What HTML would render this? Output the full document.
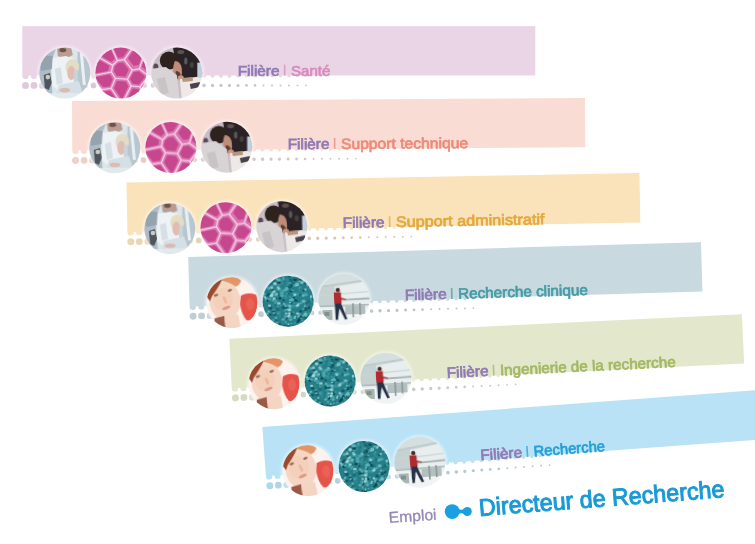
<!DOCTYPE html><html><head><meta charset="utf-8"><style>*{margin:0;padding:0}html,body{width:755px;height:544px;overflow:hidden;background:#fff}
svg{display:block;filter:blur(0.5px)}
.f{font-family:"Liberation Sans",sans-serif;font-size:15px;fill:#9079b4;stroke:#9079b4;stroke-width:0.7}
.l{font-family:"Liberation Sans",sans-serif;font-size:15px;stroke-width:0.7}
.e{font-family:"Liberation Sans",sans-serif;font-size:15.4px;fill:#9587b5;stroke:#9587b5;stroke-width:0.3}
.d{font-family:"Liberation Sans",sans-serif;font-size:24px;fill:#1a9ad4;stroke:#1a9ad4;stroke-width:1.0}
</style></head><body><svg width="755" height="544" viewBox="0 0 755 544"><defs><clipPath id="cc"><circle cx="0" cy="0" r="25.5"/></clipPath><filter id="bl" x="-20%" y="-20%" width="140%" height="140%"><feGaussianBlur stdDeviation="0.6"/></filter><filter id="bl2" x="-20%" y="-20%" width="140%" height="140%"><feGaussianBlur stdDeviation="0.9"/></filter></defs><rect width="755" height="544" fill="#ffffff"/><g transform="translate(22.3,26.1) rotate(0.0)"><rect x="0" y="0" width="513.0" height="49.4" fill="#ead5e7"/><rect x="0.10" y="47.40" width="6.20" height="5.60" rx="3.10" fill="#ead5e7"/><circle cx="3.20" cy="59.30" r="3.50" fill="#decadb"/><rect x="8.65" y="47.40" width="6.10" height="5.54" rx="3.05" fill="#ead5e7"/><circle cx="11.70" cy="59.30" r="3.42" fill="#ddcada"/><rect x="17.20" y="47.40" width="6.00" height="5.48" rx="3.00" fill="#ead5e7"/><circle cx="20.20" cy="59.30" r="3.34" fill="#ddc9da"/><rect x="25.75" y="47.40" width="5.90" height="5.42" rx="2.95" fill="#ead5e7"/><circle cx="28.70" cy="59.30" r="3.26" fill="#dcc9d9"/><rect x="34.30" y="47.40" width="5.80" height="5.36" rx="2.90" fill="#ead5e7"/><circle cx="37.20" cy="59.30" r="3.18" fill="#dbc9d8"/><rect x="42.85" y="47.40" width="5.70" height="5.30" rx="2.85" fill="#ead5e7"/><circle cx="45.70" cy="59.30" r="3.10" fill="#dac8d8"/><rect x="51.40" y="47.40" width="5.60" height="5.24" rx="2.80" fill="#ead5e7"/><circle cx="54.20" cy="59.30" r="3.02" fill="#dac8d7"/><rect x="59.95" y="47.40" width="5.50" height="5.18" rx="2.75" fill="#ead5e7"/><circle cx="62.70" cy="59.30" r="2.94" fill="#d9c8d7"/><rect x="68.50" y="47.40" width="5.40" height="5.12" rx="2.70" fill="#ead5e7"/><circle cx="71.20" cy="59.30" r="2.86" fill="#d8c7d6"/><rect x="77.05" y="47.40" width="5.30" height="5.06" rx="2.65" fill="#ead5e7"/><circle cx="79.70" cy="59.30" r="2.78" fill="#d7c7d5"/><rect x="85.60" y="47.40" width="5.20" height="5.00" rx="2.60" fill="#ead5e7"/><circle cx="88.20" cy="59.30" r="2.70" fill="#d7c7d5"/><rect x="94.15" y="47.40" width="5.10" height="4.94" rx="2.55" fill="#ead5e7"/><circle cx="96.70" cy="59.30" r="2.62" fill="#d6c6d4"/><rect x="102.70" y="47.40" width="5.00" height="4.88" rx="2.50" fill="#ead5e7"/><circle cx="105.20" cy="59.30" r="2.54" fill="#d5c6d3"/><rect x="111.25" y="47.40" width="4.90" height="4.82" rx="2.45" fill="#ead5e7"/><circle cx="113.70" cy="59.30" r="2.46" fill="#d5c6d3"/><rect x="119.80" y="47.40" width="4.80" height="4.76" rx="2.40" fill="#ead5e7"/><circle cx="122.20" cy="59.30" r="2.38" fill="#d4c5d2"/><rect x="128.35" y="47.40" width="4.70" height="4.70" rx="2.35" fill="#ead5e7"/><circle cx="130.70" cy="59.30" r="2.30" fill="#d3c5d2"/><rect x="136.90" y="47.40" width="4.60" height="4.64" rx="2.30" fill="#ead5e7"/><circle cx="139.20" cy="59.30" r="2.22" fill="#d2c5d1"/><rect x="145.45" y="47.40" width="4.50" height="4.58" rx="2.25" fill="#ead5e7"/><circle cx="147.70" cy="59.30" r="2.14" fill="#d2c4d0"/><rect x="154.00" y="47.40" width="4.40" height="4.52" rx="2.20" fill="#ead5e7"/><circle cx="156.20" cy="59.30" r="2.06" fill="#d1c4d0"/><rect x="162.55" y="47.40" width="4.30" height="4.46" rx="2.15" fill="#ead5e7"/><circle cx="164.70" cy="59.30" r="1.98" fill="#d0c3cf"/><rect x="171.10" y="47.40" width="4.20" height="4.40" rx="2.10" fill="#ead5e7"/><circle cx="173.20" cy="59.30" r="1.90" fill="#cfc3ce"/><rect x="179.65" y="47.40" width="4.10" height="4.34" rx="2.05" fill="#ead5e7"/><circle cx="181.70" cy="59.30" r="1.82" fill="#cfc3ce"/><rect x="188.20" y="47.40" width="4.00" height="4.28" rx="2.00" fill="#ead5e7"/><circle cx="190.20" cy="59.30" r="1.74" fill="#cec2cd"/><rect x="196.75" y="47.40" width="3.90" height="4.22" rx="1.95" fill="#ead5e7"/><circle cx="198.70" cy="59.30" r="1.66" fill="#cec2cd"/><rect x="205.30" y="47.40" width="3.80" height="4.16" rx="1.90" fill="#ead5e7"/><circle cx="207.20" cy="59.30" r="1.58" fill="#cec2cd"/><rect x="213.85" y="47.40" width="3.70" height="4.10" rx="1.85" fill="#ead5e7"/><circle cx="215.70" cy="59.30" r="1.50" fill="#cec2cd"/><rect x="222.40" y="47.40" width="3.60" height="4.04" rx="1.80" fill="#ead5e7"/><circle cx="224.20" cy="59.30" r="1.42" fill="#cec2cd"/><rect x="230.95" y="47.40" width="3.50" height="3.98" rx="1.75" fill="#ead5e7"/><circle cx="232.70" cy="59.30" r="1.34" fill="#cec2cd"/><rect x="239.50" y="47.40" width="3.40" height="3.92" rx="1.70" fill="#ead5e7"/><circle cx="241.20" cy="59.30" r="1.00" fill="#cec2cd"/><rect x="248.05" y="47.40" width="3.30" height="3.86" rx="1.65" fill="#ead5e7"/><circle cx="249.70" cy="59.30" r="1.00" fill="#cec2cd"/><rect x="256.60" y="47.40" width="3.20" height="3.80" rx="1.60" fill="#ead5e7"/><circle cx="258.20" cy="59.30" r="1.00" fill="#cec2cd"/><rect x="265.15" y="47.40" width="3.10" height="3.74" rx="1.55" fill="#ead5e7"/><circle cx="266.70" cy="59.30" r="1.00" fill="#cec2cd"/><rect x="273.70" y="47.40" width="3.00" height="3.68" rx="1.50" fill="#ead5e7"/><circle cx="275.20" cy="59.30" r="0.94" fill="#cec2cd"/><rect x="282.25" y="47.40" width="2.90" height="3.62" rx="1.45" fill="#ead5e7"/><circle cx="283.70" cy="59.30" r="0.86" fill="#cec2cd"/><circle cx="42.5" cy="47.0" r="27.5" fill="#ffffff" opacity="0.45" filter="url(#bl2)"/><g transform="translate(42.5,47.0)"><g clip-path="url(#cc)"><g filter="url(#bl)"><rect x="-26" y="-26" width="52" height="52" fill="#dbe6eb"/><path d="M-26,-26 L-8,-26 L-12,-16 L-14,-2 L-12,26 L-26,26Z" fill="#adbcc6"/><path d="M-24,-18 L-12,-17 L-13,-4 L-24,-2Z" fill="#94a3ae"/><path d="M-21,2 L-15,0 L-13,10 L-16,17 L-20,15Z" fill="#50555c"/><ellipse cx="-17" cy="4" rx="2.3" ry="2.3" fill="#c9ccc6"/><path d="M13,-26 L26,-26 L26,26 L14,26 L12,6Z" fill="#b7c6cf"/><path d="M15,-20 L18,-21 L21,12 L18,12Z" fill="#eaf0f3"/><path d="M-8,-27 L6,-27 L8,-18 L0,-14 L-7,-17Z" fill="#bb9c90"/><ellipse cx="-2" cy="-23" rx="3.5" ry="2.2" fill="#6a544c"/><path d="M-12,-15 L1,-17 L10,-14 L9,14 L-4,20 L-13,12 Z" fill="#edf2f5"/><path d="M-10,-4 L-4,-6 L-2,10 L-8,12Z" fill="#d5dfe4"/><ellipse cx="7.5" cy="-6" rx="6.8" ry="8" fill="#e4dcc4"/><ellipse cx="6.5" cy="0" rx="4" ry="7" fill="#e0bcb2"/><path d="M9,-2 L13,-3 L13,9 L9,9Z" fill="#c8d3da"/><path d="M-6,12 L14,8 L20,26 L-10,26Z" fill="#d5e0e6"/><ellipse cx="0" cy="17" rx="5.5" ry="2.3" fill="#dcbab4"/><rect x="-26" y="20" width="52" height="6" fill="#e4ebef" opacity="0.8"/></g></g></g><circle cx="98.6" cy="47.0" r="27.5" fill="#ffffff" opacity="0.45" filter="url(#bl2)"/><g transform="translate(98.6,47.0)"><g clip-path="url(#cc)"><g filter="url(#bl)"><rect x="-26" y="-26" width="52" height="52" fill="#f6d0e8"/><polygon points="3.0,-12.4 10.2,-2.9 6.0,5.2 -5.0,4.3 -8.5,-1.3 -7.3,-7.3 -3.0,-11.6" fill="#da76b1" stroke="#da76b1" stroke-width="0.6" stroke-linejoin="round"/><polygon points="1.8,-9.6 6.7,-3.2 3.9,2.4 -3.6,1.7 -6.0,-2.1 -5.2,-6.2 -2.3,-9.1" fill="#c6478d" stroke="#c6478d" stroke-width="2.0" stroke-linejoin="round"/><polygon points="0.9,29.3 -8.6,15.2 -4.9,6.2 6.0,7.1 9.1,12.8" fill="#da76b1" stroke="#da76b1" stroke-width="0.6" stroke-linejoin="round"/><polygon points="0.8,24.4 -5.7,14.9 -3.2,8.8 4.2,9.4 6.4,13.3" fill="#c6478d" stroke="#c6478d" stroke-width="2.0" stroke-linejoin="round"/><polygon points="-10.0,-0.0 -6.6,5.3 -10.3,14.5 -18.7,15.5 -28.5,3.7" fill="#da76b1" stroke="#da76b1" stroke-width="0.6" stroke-linejoin="round"/><polygon points="-11.5,2.5 -9.2,6.1 -11.8,12.3 -17.4,13.0 -24.1,5.0" fill="#c6478d" stroke="#c6478d" stroke-width="2.0" stroke-linejoin="round"/><polygon points="18.5,12.8 10.8,11.9 7.6,6.2 12.0,-2.2 18.2,-3.2 26.5,3.1" fill="#da76b1" stroke="#da76b1" stroke-width="0.6" stroke-linejoin="round"/><polygon points="17.6,10.3 12.3,9.6 10.2,5.8 13.1,0.0 17.3,-0.7 23.0,3.7" fill="#c6478d" stroke="#c6478d" stroke-width="2.0" stroke-linejoin="round"/><polygon points="24.0,-30.0 26.3,-30.0 17.7,-5.1 11.7,-4.1 4.6,-13.4 11.6,-23.3" fill="#da76b1" stroke="#da76b1" stroke-width="0.6" stroke-linejoin="round"/><polygon points="21.5,-26.0 23.0,-26.0 17.2,-9.1 13.1,-8.4 8.3,-14.8 13.0,-21.5" fill="#c6478d" stroke="#c6478d" stroke-width="2.0" stroke-linejoin="round"/><polygon points="-17.7,-30.0 -12.5,-30.0 -4.6,-12.7 -8.4,-9.0 -20.1,-15.7" fill="#da76b1" stroke="#da76b1" stroke-width="0.6" stroke-linejoin="round"/><polygon points="-16.1,-26.6 -12.6,-26.6 -7.2,-14.9 -9.7,-12.3 -17.7,-16.9" fill="#c6478d" stroke="#c6478d" stroke-width="2.0" stroke-linejoin="round"/><polygon points="-10.4,-30.0 -6.6,-30.0 9.4,-23.6 2.9,-14.3 -2.9,-13.6" fill="#da76b1" stroke="#da76b1" stroke-width="0.6" stroke-linejoin="round"/><polygon points="-7.6,-27.5 -4.9,-27.5 5.9,-23.2 1.5,-16.9 -2.4,-16.4" fill="#c6478d" stroke="#c6478d" stroke-width="2.0" stroke-linejoin="round"/><polygon points="-9.3,-7.3 -10.3,-1.9 -30.0,2.0 -30.0,-7.8 -21.0,-14.0" fill="#da76b1" stroke="#da76b1" stroke-width="0.6" stroke-linejoin="round"/><polygon points="-12.7,-6.8 -13.5,-3.2 -26.8,-0.5 -26.8,-7.2 -20.8,-11.4" fill="#c6478d" stroke="#c6478d" stroke-width="2.0" stroke-linejoin="round"/><polygon points="-0.9,30.0 -23.8,30.0 -18.4,17.4 -10.1,16.3" fill="#da76b1" stroke="#da76b1" stroke-width="0.6" stroke-linejoin="round"/><polygon points="-4.8,27.9 -20.5,27.9 -16.8,19.3 -11.1,18.6" fill="#c6478d" stroke="#c6478d" stroke-width="2.0" stroke-linejoin="round"/><polygon points="27.8,30.0 2.7,30.0 10.8,13.8 18.4,14.7" fill="#da76b1" stroke="#da76b1" stroke-width="0.6" stroke-linejoin="round"/><polygon points="23.7,27.5 6.6,27.5 12.1,16.5 17.3,17.1" fill="#c6478d" stroke="#c6478d" stroke-width="2.0" stroke-linejoin="round"/><polygon points="28.3,-30.0 30.0,-30.0 30.0,1.9 28.1,2.0 19.5,-4.6" fill="#da76b1" stroke="#da76b1" stroke-width="0.6" stroke-linejoin="round"/><polygon points="28.0,-24.3 29.1,-24.3 29.1,-2.6 27.8,-2.5 22.0,-7.0" fill="#c6478d" stroke="#c6478d" stroke-width="2.0" stroke-linejoin="round"/><polygon points="-25.9,30.0 -30.0,30.0 -30.0,4.9 -20.2,16.7" fill="#da76b1" stroke="#da76b1" stroke-width="0.6" stroke-linejoin="round"/><polygon points="-26.1,26.9 -28.9,26.9 -28.9,9.8 -22.2,17.9" fill="#c6478d" stroke="#c6478d" stroke-width="2.0" stroke-linejoin="round"/><polygon points="-1.4,-30.0 20.0,-30.0 10.8,-25.1" fill="#da76b1" stroke="#da76b1" stroke-width="0.6" stroke-linejoin="round"/><polygon points="2.2,-29.5 16.7,-29.5 10.5,-26.1" fill="#c6478d" stroke="#c6478d" stroke-width="2.0" stroke-linejoin="round"/><polygon points="30.0,3.8 30.0,30.0 20.1,13.9 28.3,3.9" fill="#da76b1" stroke="#da76b1" stroke-width="0.6" stroke-linejoin="round"/><polygon points="29.1,6.7 29.1,24.5 22.3,13.6 27.9,6.8" fill="#c6478d" stroke="#c6478d" stroke-width="2.0" stroke-linejoin="round"/><polygon points="-30.0,-30.0 -19.6,-30.0 -22.0,-15.7 -30.0,-10.2" fill="#da76b1" stroke="#da76b1" stroke-width="0.6" stroke-linejoin="round"/><polygon points="-28.5,-27.3 -21.4,-27.3 -23.1,-17.6 -28.5,-13.8" fill="#c6478d" stroke="#c6478d" stroke-width="2.0" stroke-linejoin="round"/></g></g></g><circle cx="154.5" cy="47.0" r="27.5" fill="#ffffff" opacity="0.45" filter="url(#bl2)"/><g transform="translate(154.5,47.0)"><g clip-path="url(#cc)"><g filter="url(#bl)"><rect x="-26" y="-26" width="52" height="52" fill="#c9bec7"/><ellipse cx="-21" cy="-6" rx="2.5" ry="3.5" fill="#5a4a56"/><path d="M-4,-27 L27,-27 L27,6 L1,6 Z" fill="#2b2226"/><ellipse cx="4" cy="-21" rx="3.5" ry="2" fill="#5e504e"/><ellipse cx="15" cy="-8" rx="2" ry="3" fill="#443f3a"/><ellipse cx="9" cy="-12" rx="1.6" ry="3.5" fill="#6a7470" opacity="0.7"/><ellipse cx="-8" cy="-12.5" rx="9" ry="9" fill="#2f221d"/><path d="M-2,-12 Q4,-12 5,-4 Q6,4 2,6 L-3,4 Q-5,-4 -2,-12Z" fill="#bd8d78"/><path d="M-1,-2 Q3,-2 4,2 Q3,6 0,6 Q-2,2 -1,-2Z" fill="#5e3e32"/><ellipse cx="4" cy="5" rx="3" ry="2.8" fill="#c89a86"/><path d="M-27,-4 L-11,-6 L0,2 L3,27 L-27,27Z" fill="#d8d4d5"/><path d="M-20,6 L-12,4 L-8,20 L-16,22Z" fill="#c8c3c5"/><path d="M3,6 L27,3 L27,27 L5,27Z" fill="#eee9e7"/><path d="M5,5 L16,4 L16,8 L6,9Z" fill="#b8957c"/><path d="M13,11 L23,9 L23,14 L14,16Z" fill="#47424c"/><rect x="20.5" y="-10.5" width="5.5" height="15" fill="#c2ceda"/></g></g></g><text x="215.4" y="49.5" class="f" textLength="41.8" lengthAdjust="spacingAndGlyphs">Filière</text><rect x="261.6" y="38.6" width="1.6" height="10.9" fill="#d98abd" opacity="0.75"/><text x="268.7" y="49.5" class="l" fill="#d98abd" stroke="#d98abd" textLength="39.4" lengthAdjust="spacingAndGlyphs">Santé</text></g><g transform="translate(72.0,101.1) rotate(-0.35)"><rect x="0" y="0" width="513.0" height="49.4" fill="#f9dcd3"/><rect x="0.10" y="47.40" width="6.20" height="5.60" rx="3.10" fill="#f9dcd3"/><circle cx="3.20" cy="59.30" r="3.50" fill="#ecd1c8"/><rect x="8.65" y="47.40" width="6.10" height="5.54" rx="3.05" fill="#f9dcd3"/><circle cx="11.70" cy="59.30" r="3.42" fill="#ebd1c8"/><rect x="17.20" y="47.40" width="6.00" height="5.48" rx="3.00" fill="#f9dcd3"/><circle cx="20.20" cy="59.30" r="3.34" fill="#ead0c7"/><rect x="25.75" y="47.40" width="5.90" height="5.42" rx="2.95" fill="#f9dcd3"/><circle cx="28.70" cy="59.30" r="3.26" fill="#e9d0c7"/><rect x="34.30" y="47.40" width="5.80" height="5.36" rx="2.90" fill="#f9dcd3"/><circle cx="37.20" cy="59.30" r="3.18" fill="#e8cfc7"/><rect x="42.85" y="47.40" width="5.70" height="5.30" rx="2.85" fill="#f9dcd3"/><circle cx="45.70" cy="59.30" r="3.10" fill="#e7cfc7"/><rect x="51.40" y="47.40" width="5.60" height="5.24" rx="2.80" fill="#f9dcd3"/><circle cx="54.20" cy="59.30" r="3.02" fill="#e6cec6"/><rect x="59.95" y="47.40" width="5.50" height="5.18" rx="2.75" fill="#f9dcd3"/><circle cx="62.70" cy="59.30" r="2.94" fill="#e5cec6"/><rect x="68.50" y="47.40" width="5.40" height="5.12" rx="2.70" fill="#f9dcd3"/><circle cx="71.20" cy="59.30" r="2.86" fill="#e4cdc6"/><rect x="77.05" y="47.40" width="5.30" height="5.06" rx="2.65" fill="#f9dcd3"/><circle cx="79.70" cy="59.30" r="2.78" fill="#e3cdc6"/><rect x="85.60" y="47.40" width="5.20" height="5.00" rx="2.60" fill="#f9dcd3"/><circle cx="88.20" cy="59.30" r="2.70" fill="#e2ccc5"/><rect x="94.15" y="47.40" width="5.10" height="4.94" rx="2.55" fill="#f9dcd3"/><circle cx="96.70" cy="59.30" r="2.62" fill="#e1ccc5"/><rect x="102.70" y="47.40" width="5.00" height="4.88" rx="2.50" fill="#f9dcd3"/><circle cx="105.20" cy="59.30" r="2.54" fill="#e0cbc5"/><rect x="111.25" y="47.40" width="4.90" height="4.82" rx="2.45" fill="#f9dcd3"/><circle cx="113.70" cy="59.30" r="2.46" fill="#dfcbc5"/><rect x="119.80" y="47.40" width="4.80" height="4.76" rx="2.40" fill="#f9dcd3"/><circle cx="122.20" cy="59.30" r="2.38" fill="#decac4"/><rect x="128.35" y="47.40" width="4.70" height="4.70" rx="2.35" fill="#f9dcd3"/><circle cx="130.70" cy="59.30" r="2.30" fill="#ddcac4"/><rect x="136.90" y="47.40" width="4.60" height="4.64" rx="2.30" fill="#f9dcd3"/><circle cx="139.20" cy="59.30" r="2.22" fill="#dcc9c4"/><rect x="145.45" y="47.40" width="4.50" height="4.58" rx="2.25" fill="#f9dcd3"/><circle cx="147.70" cy="59.30" r="2.14" fill="#dbc9c3"/><rect x="154.00" y="47.40" width="4.40" height="4.52" rx="2.20" fill="#f9dcd3"/><circle cx="156.20" cy="59.30" r="2.06" fill="#dac8c3"/><rect x="162.55" y="47.40" width="4.30" height="4.46" rx="2.15" fill="#f9dcd3"/><circle cx="164.70" cy="59.30" r="1.98" fill="#d9c8c3"/><rect x="171.10" y="47.40" width="4.20" height="4.40" rx="2.10" fill="#f9dcd3"/><circle cx="173.20" cy="59.30" r="1.90" fill="#d8c7c3"/><rect x="179.65" y="47.40" width="4.10" height="4.34" rx="2.05" fill="#f9dcd3"/><circle cx="181.70" cy="59.30" r="1.82" fill="#d7c7c2"/><rect x="188.20" y="47.40" width="4.00" height="4.28" rx="2.00" fill="#f9dcd3"/><circle cx="190.20" cy="59.30" r="1.74" fill="#d6c6c2"/><rect x="196.75" y="47.40" width="3.90" height="4.22" rx="1.95" fill="#f9dcd3"/><circle cx="198.70" cy="59.30" r="1.66" fill="#d6c6c2"/><rect x="205.30" y="47.40" width="3.80" height="4.16" rx="1.90" fill="#f9dcd3"/><circle cx="207.20" cy="59.30" r="1.58" fill="#d6c6c2"/><rect x="213.85" y="47.40" width="3.70" height="4.10" rx="1.85" fill="#f9dcd3"/><circle cx="215.70" cy="59.30" r="1.50" fill="#d6c6c2"/><rect x="222.40" y="47.40" width="3.60" height="4.04" rx="1.80" fill="#f9dcd3"/><circle cx="224.20" cy="59.30" r="1.42" fill="#d6c6c2"/><rect x="230.95" y="47.40" width="3.50" height="3.98" rx="1.75" fill="#f9dcd3"/><circle cx="232.70" cy="59.30" r="1.34" fill="#d6c6c2"/><rect x="239.50" y="47.40" width="3.40" height="3.92" rx="1.70" fill="#f9dcd3"/><circle cx="241.20" cy="59.30" r="1.00" fill="#d6c6c2"/><rect x="248.05" y="47.40" width="3.30" height="3.86" rx="1.65" fill="#f9dcd3"/><circle cx="249.70" cy="59.30" r="1.00" fill="#d6c6c2"/><rect x="256.60" y="47.40" width="3.20" height="3.80" rx="1.60" fill="#f9dcd3"/><circle cx="258.20" cy="59.30" r="1.00" fill="#d6c6c2"/><rect x="265.15" y="47.40" width="3.10" height="3.74" rx="1.55" fill="#f9dcd3"/><circle cx="266.70" cy="59.30" r="1.00" fill="#d6c6c2"/><rect x="273.70" y="47.40" width="3.00" height="3.68" rx="1.50" fill="#f9dcd3"/><circle cx="275.20" cy="59.30" r="0.94" fill="#d6c6c2"/><rect x="282.25" y="47.40" width="2.90" height="3.62" rx="1.45" fill="#f9dcd3"/><circle cx="283.70" cy="59.30" r="0.86" fill="#d6c6c2"/><circle cx="42.5" cy="47.0" r="27.5" fill="#ffffff" opacity="0.45" filter="url(#bl2)"/><g transform="translate(42.5,47.0)"><g clip-path="url(#cc)"><g filter="url(#bl)"><rect x="-26" y="-26" width="52" height="52" fill="#dbe6eb"/><path d="M-26,-26 L-8,-26 L-12,-16 L-14,-2 L-12,26 L-26,26Z" fill="#adbcc6"/><path d="M-24,-18 L-12,-17 L-13,-4 L-24,-2Z" fill="#94a3ae"/><path d="M-21,2 L-15,0 L-13,10 L-16,17 L-20,15Z" fill="#50555c"/><ellipse cx="-17" cy="4" rx="2.3" ry="2.3" fill="#c9ccc6"/><path d="M13,-26 L26,-26 L26,26 L14,26 L12,6Z" fill="#b7c6cf"/><path d="M15,-20 L18,-21 L21,12 L18,12Z" fill="#eaf0f3"/><path d="M-8,-27 L6,-27 L8,-18 L0,-14 L-7,-17Z" fill="#bb9c90"/><ellipse cx="-2" cy="-23" rx="3.5" ry="2.2" fill="#6a544c"/><path d="M-12,-15 L1,-17 L10,-14 L9,14 L-4,20 L-13,12 Z" fill="#edf2f5"/><path d="M-10,-4 L-4,-6 L-2,10 L-8,12Z" fill="#d5dfe4"/><ellipse cx="7.5" cy="-6" rx="6.8" ry="8" fill="#e4dcc4"/><ellipse cx="6.5" cy="0" rx="4" ry="7" fill="#e0bcb2"/><path d="M9,-2 L13,-3 L13,9 L9,9Z" fill="#c8d3da"/><path d="M-6,12 L14,8 L20,26 L-10,26Z" fill="#d5e0e6"/><ellipse cx="0" cy="17" rx="5.5" ry="2.3" fill="#dcbab4"/><rect x="-26" y="20" width="52" height="6" fill="#e4ebef" opacity="0.8"/></g></g></g><circle cx="98.6" cy="47.0" r="27.5" fill="#ffffff" opacity="0.45" filter="url(#bl2)"/><g transform="translate(98.6,47.0)"><g clip-path="url(#cc)"><g filter="url(#bl)"><rect x="-26" y="-26" width="52" height="52" fill="#f6d0e8"/><polygon points="3.0,-12.4 10.2,-2.9 6.0,5.2 -5.0,4.3 -8.5,-1.3 -7.3,-7.3 -3.0,-11.6" fill="#da76b1" stroke="#da76b1" stroke-width="0.6" stroke-linejoin="round"/><polygon points="1.8,-9.6 6.7,-3.2 3.9,2.4 -3.6,1.7 -6.0,-2.1 -5.2,-6.2 -2.3,-9.1" fill="#c6478d" stroke="#c6478d" stroke-width="2.0" stroke-linejoin="round"/><polygon points="0.9,29.3 -8.6,15.2 -4.9,6.2 6.0,7.1 9.1,12.8" fill="#da76b1" stroke="#da76b1" stroke-width="0.6" stroke-linejoin="round"/><polygon points="0.8,24.4 -5.7,14.9 -3.2,8.8 4.2,9.4 6.4,13.3" fill="#c6478d" stroke="#c6478d" stroke-width="2.0" stroke-linejoin="round"/><polygon points="-10.0,-0.0 -6.6,5.3 -10.3,14.5 -18.7,15.5 -28.5,3.7" fill="#da76b1" stroke="#da76b1" stroke-width="0.6" stroke-linejoin="round"/><polygon points="-11.5,2.5 -9.2,6.1 -11.8,12.3 -17.4,13.0 -24.1,5.0" fill="#c6478d" stroke="#c6478d" stroke-width="2.0" stroke-linejoin="round"/><polygon points="18.5,12.8 10.8,11.9 7.6,6.2 12.0,-2.2 18.2,-3.2 26.5,3.1" fill="#da76b1" stroke="#da76b1" stroke-width="0.6" stroke-linejoin="round"/><polygon points="17.6,10.3 12.3,9.6 10.2,5.8 13.1,0.0 17.3,-0.7 23.0,3.7" fill="#c6478d" stroke="#c6478d" stroke-width="2.0" stroke-linejoin="round"/><polygon points="24.0,-30.0 26.3,-30.0 17.7,-5.1 11.7,-4.1 4.6,-13.4 11.6,-23.3" fill="#da76b1" stroke="#da76b1" stroke-width="0.6" stroke-linejoin="round"/><polygon points="21.5,-26.0 23.0,-26.0 17.2,-9.1 13.1,-8.4 8.3,-14.8 13.0,-21.5" fill="#c6478d" stroke="#c6478d" stroke-width="2.0" stroke-linejoin="round"/><polygon points="-17.7,-30.0 -12.5,-30.0 -4.6,-12.7 -8.4,-9.0 -20.1,-15.7" fill="#da76b1" stroke="#da76b1" stroke-width="0.6" stroke-linejoin="round"/><polygon points="-16.1,-26.6 -12.6,-26.6 -7.2,-14.9 -9.7,-12.3 -17.7,-16.9" fill="#c6478d" stroke="#c6478d" stroke-width="2.0" stroke-linejoin="round"/><polygon points="-10.4,-30.0 -6.6,-30.0 9.4,-23.6 2.9,-14.3 -2.9,-13.6" fill="#da76b1" stroke="#da76b1" stroke-width="0.6" stroke-linejoin="round"/><polygon points="-7.6,-27.5 -4.9,-27.5 5.9,-23.2 1.5,-16.9 -2.4,-16.4" fill="#c6478d" stroke="#c6478d" stroke-width="2.0" stroke-linejoin="round"/><polygon points="-9.3,-7.3 -10.3,-1.9 -30.0,2.0 -30.0,-7.8 -21.0,-14.0" fill="#da76b1" stroke="#da76b1" stroke-width="0.6" stroke-linejoin="round"/><polygon points="-12.7,-6.8 -13.5,-3.2 -26.8,-0.5 -26.8,-7.2 -20.8,-11.4" fill="#c6478d" stroke="#c6478d" stroke-width="2.0" stroke-linejoin="round"/><polygon points="-0.9,30.0 -23.8,30.0 -18.4,17.4 -10.1,16.3" fill="#da76b1" stroke="#da76b1" stroke-width="0.6" stroke-linejoin="round"/><polygon points="-4.8,27.9 -20.5,27.9 -16.8,19.3 -11.1,18.6" fill="#c6478d" stroke="#c6478d" stroke-width="2.0" stroke-linejoin="round"/><polygon points="27.8,30.0 2.7,30.0 10.8,13.8 18.4,14.7" fill="#da76b1" stroke="#da76b1" stroke-width="0.6" stroke-linejoin="round"/><polygon points="23.7,27.5 6.6,27.5 12.1,16.5 17.3,17.1" fill="#c6478d" stroke="#c6478d" stroke-width="2.0" stroke-linejoin="round"/><polygon points="28.3,-30.0 30.0,-30.0 30.0,1.9 28.1,2.0 19.5,-4.6" fill="#da76b1" stroke="#da76b1" stroke-width="0.6" stroke-linejoin="round"/><polygon points="28.0,-24.3 29.1,-24.3 29.1,-2.6 27.8,-2.5 22.0,-7.0" fill="#c6478d" stroke="#c6478d" stroke-width="2.0" stroke-linejoin="round"/><polygon points="-25.9,30.0 -30.0,30.0 -30.0,4.9 -20.2,16.7" fill="#da76b1" stroke="#da76b1" stroke-width="0.6" stroke-linejoin="round"/><polygon points="-26.1,26.9 -28.9,26.9 -28.9,9.8 -22.2,17.9" fill="#c6478d" stroke="#c6478d" stroke-width="2.0" stroke-linejoin="round"/><polygon points="-1.4,-30.0 20.0,-30.0 10.8,-25.1" fill="#da76b1" stroke="#da76b1" stroke-width="0.6" stroke-linejoin="round"/><polygon points="2.2,-29.5 16.7,-29.5 10.5,-26.1" fill="#c6478d" stroke="#c6478d" stroke-width="2.0" stroke-linejoin="round"/><polygon points="30.0,3.8 30.0,30.0 20.1,13.9 28.3,3.9" fill="#da76b1" stroke="#da76b1" stroke-width="0.6" stroke-linejoin="round"/><polygon points="29.1,6.7 29.1,24.5 22.3,13.6 27.9,6.8" fill="#c6478d" stroke="#c6478d" stroke-width="2.0" stroke-linejoin="round"/><polygon points="-30.0,-30.0 -19.6,-30.0 -22.0,-15.7 -30.0,-10.2" fill="#da76b1" stroke="#da76b1" stroke-width="0.6" stroke-linejoin="round"/><polygon points="-28.5,-27.3 -21.4,-27.3 -23.1,-17.6 -28.5,-13.8" fill="#c6478d" stroke="#c6478d" stroke-width="2.0" stroke-linejoin="round"/></g></g></g><circle cx="154.5" cy="47.0" r="27.5" fill="#ffffff" opacity="0.45" filter="url(#bl2)"/><g transform="translate(154.5,47.0)"><g clip-path="url(#cc)"><g filter="url(#bl)"><rect x="-26" y="-26" width="52" height="52" fill="#c9bec7"/><ellipse cx="-21" cy="-6" rx="2.5" ry="3.5" fill="#5a4a56"/><path d="M-4,-27 L27,-27 L27,6 L1,6 Z" fill="#2b2226"/><ellipse cx="4" cy="-21" rx="3.5" ry="2" fill="#5e504e"/><ellipse cx="15" cy="-8" rx="2" ry="3" fill="#443f3a"/><ellipse cx="9" cy="-12" rx="1.6" ry="3.5" fill="#6a7470" opacity="0.7"/><ellipse cx="-8" cy="-12.5" rx="9" ry="9" fill="#2f221d"/><path d="M-2,-12 Q4,-12 5,-4 Q6,4 2,6 L-3,4 Q-5,-4 -2,-12Z" fill="#bd8d78"/><path d="M-1,-2 Q3,-2 4,2 Q3,6 0,6 Q-2,2 -1,-2Z" fill="#5e3e32"/><ellipse cx="4" cy="5" rx="3" ry="2.8" fill="#c89a86"/><path d="M-27,-4 L-11,-6 L0,2 L3,27 L-27,27Z" fill="#d8d4d5"/><path d="M-20,6 L-12,4 L-8,20 L-16,22Z" fill="#c8c3c5"/><path d="M3,6 L27,3 L27,27 L5,27Z" fill="#eee9e7"/><path d="M5,5 L16,4 L16,8 L6,9Z" fill="#b8957c"/><path d="M13,11 L23,9 L23,14 L14,16Z" fill="#47424c"/><rect x="20.5" y="-10.5" width="5.5" height="15" fill="#c2ceda"/></g></g></g><text x="215.4" y="49.5" class="f" textLength="41.8" lengthAdjust="spacingAndGlyphs">Filière</text><rect x="261.6" y="38.6" width="1.6" height="10.9" fill="#ee8a79" opacity="0.75"/><text x="268.7" y="49.5" class="l" fill="#ee8a79" stroke="#ee8a79" textLength="127.2" lengthAdjust="spacingAndGlyphs">Support technique</text></g><g transform="translate(126.5,182.5) rotate(-1.06)"><rect x="0" y="0" width="513.0" height="49.4" fill="#fae2bb"/><rect x="0.10" y="47.40" width="6.20" height="5.60" rx="3.10" fill="#fae2bb"/><circle cx="3.20" cy="59.30" r="3.50" fill="#edd6b1"/><rect x="8.65" y="47.40" width="6.10" height="5.54" rx="3.05" fill="#fae2bb"/><circle cx="11.70" cy="59.30" r="3.42" fill="#ecd5b1"/><rect x="17.20" y="47.40" width="6.00" height="5.48" rx="3.00" fill="#fae2bb"/><circle cx="20.20" cy="59.30" r="3.34" fill="#ebd5b1"/><rect x="25.75" y="47.40" width="5.90" height="5.42" rx="2.95" fill="#fae2bb"/><circle cx="28.70" cy="59.30" r="3.26" fill="#ead4b2"/><rect x="34.30" y="47.40" width="5.80" height="5.36" rx="2.90" fill="#fae2bb"/><circle cx="37.20" cy="59.30" r="3.18" fill="#e9d4b2"/><rect x="42.85" y="47.40" width="5.70" height="5.30" rx="2.85" fill="#fae2bb"/><circle cx="45.70" cy="59.30" r="3.10" fill="#e8d3b2"/><rect x="51.40" y="47.40" width="5.60" height="5.24" rx="2.80" fill="#fae2bb"/><circle cx="54.20" cy="59.30" r="3.02" fill="#e7d3b2"/><rect x="59.95" y="47.40" width="5.50" height="5.18" rx="2.75" fill="#fae2bb"/><circle cx="62.70" cy="59.30" r="2.94" fill="#e6d2b2"/><rect x="68.50" y="47.40" width="5.40" height="5.12" rx="2.70" fill="#fae2bb"/><circle cx="71.20" cy="59.30" r="2.86" fill="#e5d1b2"/><rect x="77.05" y="47.40" width="5.30" height="5.06" rx="2.65" fill="#fae2bb"/><circle cx="79.70" cy="59.30" r="2.78" fill="#e4d1b3"/><rect x="85.60" y="47.40" width="5.20" height="5.00" rx="2.60" fill="#fae2bb"/><circle cx="88.20" cy="59.30" r="2.70" fill="#e3d0b3"/><rect x="94.15" y="47.40" width="5.10" height="4.94" rx="2.55" fill="#fae2bb"/><circle cx="96.70" cy="59.30" r="2.62" fill="#e2d0b3"/><rect x="102.70" y="47.40" width="5.00" height="4.88" rx="2.50" fill="#fae2bb"/><circle cx="105.20" cy="59.30" r="2.54" fill="#e1cfb3"/><rect x="111.25" y="47.40" width="4.90" height="4.82" rx="2.45" fill="#fae2bb"/><circle cx="113.70" cy="59.30" r="2.46" fill="#e0cfb3"/><rect x="119.80" y="47.40" width="4.80" height="4.76" rx="2.40" fill="#fae2bb"/><circle cx="122.20" cy="59.30" r="2.38" fill="#dfceb3"/><rect x="128.35" y="47.40" width="4.70" height="4.70" rx="2.35" fill="#fae2bb"/><circle cx="130.70" cy="59.30" r="2.30" fill="#decdb4"/><rect x="136.90" y="47.40" width="4.60" height="4.64" rx="2.30" fill="#fae2bb"/><circle cx="139.20" cy="59.30" r="2.22" fill="#ddcdb4"/><rect x="145.45" y="47.40" width="4.50" height="4.58" rx="2.25" fill="#fae2bb"/><circle cx="147.70" cy="59.30" r="2.14" fill="#dcccb4"/><rect x="154.00" y="47.40" width="4.40" height="4.52" rx="2.20" fill="#fae2bb"/><circle cx="156.20" cy="59.30" r="2.06" fill="#dbccb4"/><rect x="162.55" y="47.40" width="4.30" height="4.46" rx="2.15" fill="#fae2bb"/><circle cx="164.70" cy="59.30" r="1.98" fill="#dacbb4"/><rect x="171.10" y="47.40" width="4.20" height="4.40" rx="2.10" fill="#fae2bb"/><circle cx="173.20" cy="59.30" r="1.90" fill="#d9cbb4"/><rect x="179.65" y="47.40" width="4.10" height="4.34" rx="2.05" fill="#fae2bb"/><circle cx="181.70" cy="59.30" r="1.82" fill="#d8cab5"/><rect x="188.20" y="47.40" width="4.00" height="4.28" rx="2.00" fill="#fae2bb"/><circle cx="190.20" cy="59.30" r="1.74" fill="#d7c9b5"/><rect x="196.75" y="47.40" width="3.90" height="4.22" rx="1.95" fill="#fae2bb"/><circle cx="198.70" cy="59.30" r="1.66" fill="#d7c9b5"/><rect x="205.30" y="47.40" width="3.80" height="4.16" rx="1.90" fill="#fae2bb"/><circle cx="207.20" cy="59.30" r="1.58" fill="#d7c9b5"/><rect x="213.85" y="47.40" width="3.70" height="4.10" rx="1.85" fill="#fae2bb"/><circle cx="215.70" cy="59.30" r="1.50" fill="#d7c9b5"/><rect x="222.40" y="47.40" width="3.60" height="4.04" rx="1.80" fill="#fae2bb"/><circle cx="224.20" cy="59.30" r="1.42" fill="#d7c9b5"/><rect x="230.95" y="47.40" width="3.50" height="3.98" rx="1.75" fill="#fae2bb"/><circle cx="232.70" cy="59.30" r="1.34" fill="#d7c9b5"/><rect x="239.50" y="47.40" width="3.40" height="3.92" rx="1.70" fill="#fae2bb"/><circle cx="241.20" cy="59.30" r="1.00" fill="#d7c9b5"/><rect x="248.05" y="47.40" width="3.30" height="3.86" rx="1.65" fill="#fae2bb"/><circle cx="249.70" cy="59.30" r="1.00" fill="#d7c9b5"/><rect x="256.60" y="47.40" width="3.20" height="3.80" rx="1.60" fill="#fae2bb"/><circle cx="258.20" cy="59.30" r="1.00" fill="#d7c9b5"/><rect x="265.15" y="47.40" width="3.10" height="3.74" rx="1.55" fill="#fae2bb"/><circle cx="266.70" cy="59.30" r="1.00" fill="#d7c9b5"/><rect x="273.70" y="47.40" width="3.00" height="3.68" rx="1.50" fill="#fae2bb"/><circle cx="275.20" cy="59.30" r="0.94" fill="#d7c9b5"/><rect x="282.25" y="47.40" width="2.90" height="3.62" rx="1.45" fill="#fae2bb"/><circle cx="283.70" cy="59.30" r="0.86" fill="#d7c9b5"/><circle cx="42.5" cy="47.0" r="27.5" fill="#ffffff" opacity="0.45" filter="url(#bl2)"/><g transform="translate(42.5,47.0)"><g clip-path="url(#cc)"><g filter="url(#bl)"><rect x="-26" y="-26" width="52" height="52" fill="#dbe6eb"/><path d="M-26,-26 L-8,-26 L-12,-16 L-14,-2 L-12,26 L-26,26Z" fill="#adbcc6"/><path d="M-24,-18 L-12,-17 L-13,-4 L-24,-2Z" fill="#94a3ae"/><path d="M-21,2 L-15,0 L-13,10 L-16,17 L-20,15Z" fill="#50555c"/><ellipse cx="-17" cy="4" rx="2.3" ry="2.3" fill="#c9ccc6"/><path d="M13,-26 L26,-26 L26,26 L14,26 L12,6Z" fill="#b7c6cf"/><path d="M15,-20 L18,-21 L21,12 L18,12Z" fill="#eaf0f3"/><path d="M-8,-27 L6,-27 L8,-18 L0,-14 L-7,-17Z" fill="#bb9c90"/><ellipse cx="-2" cy="-23" rx="3.5" ry="2.2" fill="#6a544c"/><path d="M-12,-15 L1,-17 L10,-14 L9,14 L-4,20 L-13,12 Z" fill="#edf2f5"/><path d="M-10,-4 L-4,-6 L-2,10 L-8,12Z" fill="#d5dfe4"/><ellipse cx="7.5" cy="-6" rx="6.8" ry="8" fill="#e4dcc4"/><ellipse cx="6.5" cy="0" rx="4" ry="7" fill="#e0bcb2"/><path d="M9,-2 L13,-3 L13,9 L9,9Z" fill="#c8d3da"/><path d="M-6,12 L14,8 L20,26 L-10,26Z" fill="#d5e0e6"/><ellipse cx="0" cy="17" rx="5.5" ry="2.3" fill="#dcbab4"/><rect x="-26" y="20" width="52" height="6" fill="#e4ebef" opacity="0.8"/></g></g></g><circle cx="98.6" cy="47.0" r="27.5" fill="#ffffff" opacity="0.45" filter="url(#bl2)"/><g transform="translate(98.6,47.0)"><g clip-path="url(#cc)"><g filter="url(#bl)"><rect x="-26" y="-26" width="52" height="52" fill="#f6d0e8"/><polygon points="3.0,-12.4 10.2,-2.9 6.0,5.2 -5.0,4.3 -8.5,-1.3 -7.3,-7.3 -3.0,-11.6" fill="#da76b1" stroke="#da76b1" stroke-width="0.6" stroke-linejoin="round"/><polygon points="1.8,-9.6 6.7,-3.2 3.9,2.4 -3.6,1.7 -6.0,-2.1 -5.2,-6.2 -2.3,-9.1" fill="#c6478d" stroke="#c6478d" stroke-width="2.0" stroke-linejoin="round"/><polygon points="0.9,29.3 -8.6,15.2 -4.9,6.2 6.0,7.1 9.1,12.8" fill="#da76b1" stroke="#da76b1" stroke-width="0.6" stroke-linejoin="round"/><polygon points="0.8,24.4 -5.7,14.9 -3.2,8.8 4.2,9.4 6.4,13.3" fill="#c6478d" stroke="#c6478d" stroke-width="2.0" stroke-linejoin="round"/><polygon points="-10.0,-0.0 -6.6,5.3 -10.3,14.5 -18.7,15.5 -28.5,3.7" fill="#da76b1" stroke="#da76b1" stroke-width="0.6" stroke-linejoin="round"/><polygon points="-11.5,2.5 -9.2,6.1 -11.8,12.3 -17.4,13.0 -24.1,5.0" fill="#c6478d" stroke="#c6478d" stroke-width="2.0" stroke-linejoin="round"/><polygon points="18.5,12.8 10.8,11.9 7.6,6.2 12.0,-2.2 18.2,-3.2 26.5,3.1" fill="#da76b1" stroke="#da76b1" stroke-width="0.6" stroke-linejoin="round"/><polygon points="17.6,10.3 12.3,9.6 10.2,5.8 13.1,0.0 17.3,-0.7 23.0,3.7" fill="#c6478d" stroke="#c6478d" stroke-width="2.0" stroke-linejoin="round"/><polygon points="24.0,-30.0 26.3,-30.0 17.7,-5.1 11.7,-4.1 4.6,-13.4 11.6,-23.3" fill="#da76b1" stroke="#da76b1" stroke-width="0.6" stroke-linejoin="round"/><polygon points="21.5,-26.0 23.0,-26.0 17.2,-9.1 13.1,-8.4 8.3,-14.8 13.0,-21.5" fill="#c6478d" stroke="#c6478d" stroke-width="2.0" stroke-linejoin="round"/><polygon points="-17.7,-30.0 -12.5,-30.0 -4.6,-12.7 -8.4,-9.0 -20.1,-15.7" fill="#da76b1" stroke="#da76b1" stroke-width="0.6" stroke-linejoin="round"/><polygon points="-16.1,-26.6 -12.6,-26.6 -7.2,-14.9 -9.7,-12.3 -17.7,-16.9" fill="#c6478d" stroke="#c6478d" stroke-width="2.0" stroke-linejoin="round"/><polygon points="-10.4,-30.0 -6.6,-30.0 9.4,-23.6 2.9,-14.3 -2.9,-13.6" fill="#da76b1" stroke="#da76b1" stroke-width="0.6" stroke-linejoin="round"/><polygon points="-7.6,-27.5 -4.9,-27.5 5.9,-23.2 1.5,-16.9 -2.4,-16.4" fill="#c6478d" stroke="#c6478d" stroke-width="2.0" stroke-linejoin="round"/><polygon points="-9.3,-7.3 -10.3,-1.9 -30.0,2.0 -30.0,-7.8 -21.0,-14.0" fill="#da76b1" stroke="#da76b1" stroke-width="0.6" stroke-linejoin="round"/><polygon points="-12.7,-6.8 -13.5,-3.2 -26.8,-0.5 -26.8,-7.2 -20.8,-11.4" fill="#c6478d" stroke="#c6478d" stroke-width="2.0" stroke-linejoin="round"/><polygon points="-0.9,30.0 -23.8,30.0 -18.4,17.4 -10.1,16.3" fill="#da76b1" stroke="#da76b1" stroke-width="0.6" stroke-linejoin="round"/><polygon points="-4.8,27.9 -20.5,27.9 -16.8,19.3 -11.1,18.6" fill="#c6478d" stroke="#c6478d" stroke-width="2.0" stroke-linejoin="round"/><polygon points="27.8,30.0 2.7,30.0 10.8,13.8 18.4,14.7" fill="#da76b1" stroke="#da76b1" stroke-width="0.6" stroke-linejoin="round"/><polygon points="23.7,27.5 6.6,27.5 12.1,16.5 17.3,17.1" fill="#c6478d" stroke="#c6478d" stroke-width="2.0" stroke-linejoin="round"/><polygon points="28.3,-30.0 30.0,-30.0 30.0,1.9 28.1,2.0 19.5,-4.6" fill="#da76b1" stroke="#da76b1" stroke-width="0.6" stroke-linejoin="round"/><polygon points="28.0,-24.3 29.1,-24.3 29.1,-2.6 27.8,-2.5 22.0,-7.0" fill="#c6478d" stroke="#c6478d" stroke-width="2.0" stroke-linejoin="round"/><polygon points="-25.9,30.0 -30.0,30.0 -30.0,4.9 -20.2,16.7" fill="#da76b1" stroke="#da76b1" stroke-width="0.6" stroke-linejoin="round"/><polygon points="-26.1,26.9 -28.9,26.9 -28.9,9.8 -22.2,17.9" fill="#c6478d" stroke="#c6478d" stroke-width="2.0" stroke-linejoin="round"/><polygon points="-1.4,-30.0 20.0,-30.0 10.8,-25.1" fill="#da76b1" stroke="#da76b1" stroke-width="0.6" stroke-linejoin="round"/><polygon points="2.2,-29.5 16.7,-29.5 10.5,-26.1" fill="#c6478d" stroke="#c6478d" stroke-width="2.0" stroke-linejoin="round"/><polygon points="30.0,3.8 30.0,30.0 20.1,13.9 28.3,3.9" fill="#da76b1" stroke="#da76b1" stroke-width="0.6" stroke-linejoin="round"/><polygon points="29.1,6.7 29.1,24.5 22.3,13.6 27.9,6.8" fill="#c6478d" stroke="#c6478d" stroke-width="2.0" stroke-linejoin="round"/><polygon points="-30.0,-30.0 -19.6,-30.0 -22.0,-15.7 -30.0,-10.2" fill="#da76b1" stroke="#da76b1" stroke-width="0.6" stroke-linejoin="round"/><polygon points="-28.5,-27.3 -21.4,-27.3 -23.1,-17.6 -28.5,-13.8" fill="#c6478d" stroke="#c6478d" stroke-width="2.0" stroke-linejoin="round"/></g></g></g><circle cx="154.5" cy="47.0" r="27.5" fill="#ffffff" opacity="0.45" filter="url(#bl2)"/><g transform="translate(154.5,47.0)"><g clip-path="url(#cc)"><g filter="url(#bl)"><rect x="-26" y="-26" width="52" height="52" fill="#c9bec7"/><ellipse cx="-21" cy="-6" rx="2.5" ry="3.5" fill="#5a4a56"/><path d="M-4,-27 L27,-27 L27,6 L1,6 Z" fill="#2b2226"/><ellipse cx="4" cy="-21" rx="3.5" ry="2" fill="#5e504e"/><ellipse cx="15" cy="-8" rx="2" ry="3" fill="#443f3a"/><ellipse cx="9" cy="-12" rx="1.6" ry="3.5" fill="#6a7470" opacity="0.7"/><ellipse cx="-8" cy="-12.5" rx="9" ry="9" fill="#2f221d"/><path d="M-2,-12 Q4,-12 5,-4 Q6,4 2,6 L-3,4 Q-5,-4 -2,-12Z" fill="#bd8d78"/><path d="M-1,-2 Q3,-2 4,2 Q3,6 0,6 Q-2,2 -1,-2Z" fill="#5e3e32"/><ellipse cx="4" cy="5" rx="3" ry="2.8" fill="#c89a86"/><path d="M-27,-4 L-11,-6 L0,2 L3,27 L-27,27Z" fill="#d8d4d5"/><path d="M-20,6 L-12,4 L-8,20 L-16,22Z" fill="#c8c3c5"/><path d="M3,6 L27,3 L27,27 L5,27Z" fill="#eee9e7"/><path d="M5,5 L16,4 L16,8 L6,9Z" fill="#b8957c"/><path d="M13,11 L23,9 L23,14 L14,16Z" fill="#47424c"/><rect x="20.5" y="-10.5" width="5.5" height="15" fill="#c2ceda"/></g></g></g><text x="215.4" y="49.5" class="f" textLength="41.8" lengthAdjust="spacingAndGlyphs">Filière</text><rect x="261.6" y="38.6" width="1.6" height="10.9" fill="#e2a93a" opacity="0.75"/><text x="268.7" y="49.5" class="l" fill="#e2a93a" stroke="#e2a93a" textLength="148.5" lengthAdjust="spacingAndGlyphs">Support administratif</text></g><g transform="translate(188.2,257.0) rotate(-1.65)"><rect x="0" y="0" width="513.0" height="49.4" fill="#c8d9df"/><rect x="0.10" y="47.40" width="6.20" height="5.60" rx="3.10" fill="#c8d9df"/><circle cx="3.20" cy="59.30" r="3.50" fill="#beced3"/><rect x="8.65" y="47.40" width="6.10" height="5.54" rx="3.05" fill="#c8d9df"/><circle cx="11.70" cy="59.30" r="3.42" fill="#beced3"/><rect x="17.20" y="47.40" width="6.00" height="5.48" rx="3.00" fill="#c8d9df"/><circle cx="20.20" cy="59.30" r="3.34" fill="#becdd2"/><rect x="25.75" y="47.40" width="5.90" height="5.42" rx="2.95" fill="#c8d9df"/><circle cx="28.70" cy="59.30" r="3.26" fill="#becdd2"/><rect x="34.30" y="47.40" width="5.80" height="5.36" rx="2.90" fill="#c8d9df"/><circle cx="37.20" cy="59.30" r="3.18" fill="#beccd1"/><rect x="42.85" y="47.40" width="5.70" height="5.30" rx="2.85" fill="#c8d9df"/><circle cx="45.70" cy="59.30" r="3.10" fill="#bdccd1"/><rect x="51.40" y="47.40" width="5.60" height="5.24" rx="2.80" fill="#c8d9df"/><circle cx="54.20" cy="59.30" r="3.02" fill="#bdcbd0"/><rect x="59.95" y="47.40" width="5.50" height="5.18" rx="2.75" fill="#c8d9df"/><circle cx="62.70" cy="59.30" r="2.94" fill="#bdcbd0"/><rect x="68.50" y="47.40" width="5.40" height="5.12" rx="2.70" fill="#c8d9df"/><circle cx="71.20" cy="59.30" r="2.86" fill="#bdcbcf"/><rect x="77.05" y="47.40" width="5.30" height="5.06" rx="2.65" fill="#c8d9df"/><circle cx="79.70" cy="59.30" r="2.78" fill="#bdcacf"/><rect x="85.60" y="47.40" width="5.20" height="5.00" rx="2.60" fill="#c8d9df"/><circle cx="88.20" cy="59.30" r="2.70" fill="#bdcace"/><rect x="94.15" y="47.40" width="5.10" height="4.94" rx="2.55" fill="#c8d9df"/><circle cx="96.70" cy="59.30" r="2.62" fill="#bdc9ce"/><rect x="102.70" y="47.40" width="5.00" height="4.88" rx="2.50" fill="#c8d9df"/><circle cx="105.20" cy="59.30" r="2.54" fill="#bdc9cd"/><rect x="111.25" y="47.40" width="4.90" height="4.82" rx="2.45" fill="#c8d9df"/><circle cx="113.70" cy="59.30" r="2.46" fill="#bdc9cd"/><rect x="119.80" y="47.40" width="4.80" height="4.76" rx="2.40" fill="#c8d9df"/><circle cx="122.20" cy="59.30" r="2.38" fill="#bcc8cc"/><rect x="128.35" y="47.40" width="4.70" height="4.70" rx="2.35" fill="#c8d9df"/><circle cx="130.70" cy="59.30" r="2.30" fill="#bcc8cc"/><rect x="136.90" y="47.40" width="4.60" height="4.64" rx="2.30" fill="#c8d9df"/><circle cx="139.20" cy="59.30" r="2.22" fill="#bcc7cb"/><rect x="145.45" y="47.40" width="4.50" height="4.58" rx="2.25" fill="#c8d9df"/><circle cx="147.70" cy="59.30" r="2.14" fill="#bcc7cb"/><rect x="154.00" y="47.40" width="4.40" height="4.52" rx="2.20" fill="#c8d9df"/><circle cx="156.20" cy="59.30" r="2.06" fill="#bcc6ca"/><rect x="162.55" y="47.40" width="4.30" height="4.46" rx="2.15" fill="#c8d9df"/><circle cx="164.70" cy="59.30" r="1.98" fill="#bcc6ca"/><rect x="171.10" y="47.40" width="4.20" height="4.40" rx="2.10" fill="#c8d9df"/><circle cx="173.20" cy="59.30" r="1.90" fill="#bcc6c9"/><rect x="179.65" y="47.40" width="4.10" height="4.34" rx="2.05" fill="#c8d9df"/><circle cx="181.70" cy="59.30" r="1.82" fill="#bcc5c9"/><rect x="188.20" y="47.40" width="4.00" height="4.28" rx="2.00" fill="#c8d9df"/><circle cx="190.20" cy="59.30" r="1.74" fill="#bbc5c8"/><rect x="196.75" y="47.40" width="3.90" height="4.22" rx="1.95" fill="#c8d9df"/><circle cx="198.70" cy="59.30" r="1.66" fill="#bbc5c8"/><rect x="205.30" y="47.40" width="3.80" height="4.16" rx="1.90" fill="#c8d9df"/><circle cx="207.20" cy="59.30" r="1.58" fill="#bbc5c8"/><rect x="213.85" y="47.40" width="3.70" height="4.10" rx="1.85" fill="#c8d9df"/><circle cx="215.70" cy="59.30" r="1.50" fill="#bbc5c8"/><rect x="222.40" y="47.40" width="3.60" height="4.04" rx="1.80" fill="#c8d9df"/><circle cx="224.20" cy="59.30" r="1.42" fill="#bbc5c8"/><rect x="230.95" y="47.40" width="3.50" height="3.98" rx="1.75" fill="#c8d9df"/><circle cx="232.70" cy="59.30" r="1.34" fill="#bbc5c8"/><rect x="239.50" y="47.40" width="3.40" height="3.92" rx="1.70" fill="#c8d9df"/><circle cx="241.20" cy="59.30" r="1.00" fill="#bbc5c8"/><rect x="248.05" y="47.40" width="3.30" height="3.86" rx="1.65" fill="#c8d9df"/><circle cx="249.70" cy="59.30" r="1.00" fill="#bbc5c8"/><rect x="256.60" y="47.40" width="3.20" height="3.80" rx="1.60" fill="#c8d9df"/><circle cx="258.20" cy="59.30" r="1.00" fill="#bbc5c8"/><rect x="265.15" y="47.40" width="3.10" height="3.74" rx="1.55" fill="#c8d9df"/><circle cx="266.70" cy="59.30" r="1.00" fill="#bbc5c8"/><rect x="273.70" y="47.40" width="3.00" height="3.68" rx="1.50" fill="#c8d9df"/><circle cx="275.20" cy="59.30" r="0.94" fill="#bbc5c8"/><rect x="282.25" y="47.40" width="2.90" height="3.62" rx="1.45" fill="#c8d9df"/><circle cx="283.70" cy="59.30" r="0.86" fill="#bbc5c8"/><circle cx="42.5" cy="47.0" r="27.5" fill="#ffffff" opacity="0.45" filter="url(#bl2)"/><g transform="translate(42.5,47.0)"><g clip-path="url(#cc)"><g filter="url(#bl)"><rect x="-26" y="-26" width="52" height="52" fill="#fcf3ef"/><ellipse cx="-7" cy="-2" rx="15.5" ry="19" fill="#f5d5c3"/><path d="M-26,-8 Q-22,-22 -8,-25 Q-12,-18 -16,-12 Q-20,-8 -22,-2Z" fill="#9b4a2c"/><path d="M-10,-26 Q2,-29 10,-22 Q8,-17 4,-16 Q-2,-21 -10,-22Z" fill="#e39566"/><ellipse cx="-9" cy="-4" rx="10" ry="11" fill="#f4cdb6" opacity="0.8"/><ellipse cx="-15.8" cy="-8" rx="2.4" ry="1.3" fill="#9a6a58" transform="rotate(-20 -15.8 -8)"/><ellipse cx="-1.8" cy="-12.5" rx="2.4" ry="1.3" fill="#9a6a58" transform="rotate(-20 -1.8 -12.5)"/><ellipse cx="-7" cy="-3" rx="1.5" ry="4" fill="#e9b9a2" transform="rotate(-20 -7 -3)"/><ellipse cx="-5.8" cy="5" rx="4.3" ry="1.6" fill="#de9a8a" transform="rotate(-20 -5.8 5)"/><path d="M9,-7 Q17,-11 25,-7 Q27,6 22,14 Q18,19 14,18 Q9,12 8,2Z" fill="#e6524a"/><ellipse cx="18" cy="2" rx="4" ry="6" fill="#ea6a5c" opacity="0.7"/><path d="M-18,15 L-8,13 L-7,26 L-19,26Z" fill="#9a5a44"/><path d="M-8,13 L6,12 L8,26 L-7,26Z" fill="#f4d4c2"/></g></g></g><circle cx="98.6" cy="47.0" r="27.5" fill="#ffffff" opacity="0.45" filter="url(#bl2)"/><g transform="translate(98.6,47.0)"><g clip-path="url(#cc)"><g filter="url(#bl)"><rect x="-26" y="-26" width="52" height="52" fill="#267e88"/><ellipse cx="-2.5" cy="3.1" rx="1.90" ry="1.48" fill="#1b6a74"/><ellipse cx="18.5" cy="-16.1" rx="1.75" ry="1.49" fill="#1b6a74"/><ellipse cx="15.2" cy="-21.1" rx="1.09" ry="0.89" fill="#6cc0c6"/><ellipse cx="20.3" cy="7.0" rx="1.47" ry="1.45" fill="#0e4852"/><ellipse cx="8.0" cy="6.0" rx="0.90" ry="0.84" fill="#4fa8b0"/><ellipse cx="-22.7" cy="-24.1" rx="1.84" ry="1.13" fill="#9ad8da"/><ellipse cx="-1.9" cy="-3.1" rx="1.80" ry="1.24" fill="#2f8b94"/><ellipse cx="-10.7" cy="-25.8" rx="0.81" ry="0.62" fill="#5bb6bc"/><ellipse cx="2.7" cy="22.4" rx="0.81" ry="0.59" fill="#5bb6bc"/><ellipse cx="-14.1" cy="-11.0" rx="0.79" ry="0.60" fill="#6cc0c6"/><ellipse cx="18.0" cy="-5.9" rx="1.95" ry="1.33" fill="#4fa8b0"/><ellipse cx="22.2" cy="-23.3" rx="1.19" ry="0.91" fill="#0e4852"/><ellipse cx="3.4" cy="-15.7" rx="1.58" ry="1.00" fill="#115460"/><ellipse cx="-8.7" cy="24.1" rx="1.69" ry="1.10" fill="#6cc0c6"/><ellipse cx="10.8" cy="-25.4" rx="1.30" ry="0.88" fill="#1b6a74"/><ellipse cx="3.1" cy="-2.7" rx="0.95" ry="0.73" fill="#3a949c"/><ellipse cx="-6.0" cy="-5.5" rx="1.99" ry="1.41" fill="#4fa8b0"/><ellipse cx="24.5" cy="15.8" rx="1.10" ry="0.75" fill="#4fa8b0"/><ellipse cx="-5.5" cy="18.4" rx="1.53" ry="0.95" fill="#6cc0c6"/><ellipse cx="-18.4" cy="-3.0" rx="0.71" ry="0.52" fill="#9ad8da"/><ellipse cx="-10.6" cy="-22.2" rx="0.82" ry="0.70" fill="#9ad8da"/><ellipse cx="-25.2" cy="-6.8" rx="1.51" ry="1.48" fill="#3a949c"/><ellipse cx="-0.8" cy="3.9" rx="1.83" ry="1.55" fill="#3a949c"/><ellipse cx="-9.8" cy="-14.1" rx="1.49" ry="0.99" fill="#86d0d2"/><ellipse cx="6.7" cy="2.8" rx="1.59" ry="1.52" fill="#0e4852"/><ellipse cx="5.4" cy="-4.1" rx="0.83" ry="0.67" fill="#4fa8b0"/><ellipse cx="-12.7" cy="12.5" rx="1.21" ry="1.12" fill="#0e4852"/><ellipse cx="5.0" cy="-10.7" rx="0.93" ry="0.60" fill="#6cc0c6"/><ellipse cx="-1.1" cy="8.0" rx="1.50" ry="1.07" fill="#6cc0c6"/><ellipse cx="21.7" cy="-15.4" rx="0.72" ry="0.55" fill="#5bb6bc"/><ellipse cx="-13.0" cy="-23.6" rx="1.07" ry="0.88" fill="#2f8b94"/><ellipse cx="-19.2" cy="-7.2" rx="1.86" ry="1.60" fill="#115460"/><ellipse cx="9.9" cy="4.4" rx="0.88" ry="0.86" fill="#4fa8b0"/><ellipse cx="-1.3" cy="-7.4" rx="1.11" ry="0.67" fill="#4fa8b0"/><ellipse cx="7.1" cy="-0.9" rx="1.65" ry="1.08" fill="#115460"/><ellipse cx="-22.2" cy="-2.4" rx="1.18" ry="1.13" fill="#4fa8b0"/><ellipse cx="12.3" cy="10.6" rx="1.73" ry="1.28" fill="#115460"/><ellipse cx="9.6" cy="20.8" rx="1.83" ry="1.79" fill="#0e4852"/><ellipse cx="-24.4" cy="-0.0" rx="0.72" ry="0.54" fill="#0e4852"/><ellipse cx="-25.4" cy="-22.2" rx="0.82" ry="0.82" fill="#6cc0c6"/><ellipse cx="19.7" cy="11.9" rx="1.20" ry="0.94" fill="#9ad8da"/><ellipse cx="-1.9" cy="2.1" rx="1.37" ry="0.84" fill="#2f8b94"/><ellipse cx="5.3" cy="-1.0" rx="1.00" ry="0.80" fill="#6cc0c6"/><ellipse cx="6.0" cy="21.9" rx="1.03" ry="0.77" fill="#4fa8b0"/><ellipse cx="-18.6" cy="5.8" rx="1.37" ry="1.19" fill="#115460"/><ellipse cx="-3.0" cy="20.4" rx="1.13" ry="0.76" fill="#5bb6bc"/><ellipse cx="-3.6" cy="15.9" rx="1.89" ry="1.42" fill="#86d0d2"/><ellipse cx="4.3" cy="-9.5" rx="0.88" ry="0.65" fill="#1b6a74"/><ellipse cx="20.6" cy="-23.9" rx="0.78" ry="0.73" fill="#5bb6bc"/><ellipse cx="-20.1" cy="-1.5" rx="1.90" ry="1.43" fill="#0e4852"/><ellipse cx="1.0" cy="9.0" rx="1.63" ry="1.27" fill="#9ad8da"/><ellipse cx="-22.1" cy="-24.4" rx="1.83" ry="1.60" fill="#4fa8b0"/><ellipse cx="-11.4" cy="-7.6" rx="1.54" ry="0.94" fill="#9ad8da"/><ellipse cx="-18.9" cy="-2.3" rx="0.73" ry="0.51" fill="#5bb6bc"/><ellipse cx="-18.7" cy="-23.6" rx="1.52" ry="0.98" fill="#1b6a74"/><ellipse cx="1.8" cy="7.3" rx="1.18" ry="1.03" fill="#6cc0c6"/><ellipse cx="-15.6" cy="-1.3" rx="0.93" ry="0.84" fill="#4fa8b0"/><ellipse cx="1.8" cy="-24.1" rx="0.99" ry="0.81" fill="#115460"/><ellipse cx="23.2" cy="0.0" rx="2.00" ry="1.51" fill="#3a949c"/><ellipse cx="15.2" cy="21.1" rx="0.81" ry="0.53" fill="#0e4852"/><ellipse cx="-2.4" cy="6.5" rx="1.88" ry="1.54" fill="#0e4852"/><ellipse cx="7.9" cy="0.1" rx="1.77" ry="1.39" fill="#115460"/><ellipse cx="7.9" cy="-15.3" rx="1.64" ry="1.12" fill="#6cc0c6"/><ellipse cx="20.8" cy="25.0" rx="1.97" ry="1.95" fill="#2f8b94"/><ellipse cx="22.5" cy="-12.4" rx="1.63" ry="1.21" fill="#4fa8b0"/><ellipse cx="-21.7" cy="-3.1" rx="1.42" ry="1.13" fill="#5bb6bc"/><ellipse cx="-24.5" cy="16.1" rx="0.78" ry="0.52" fill="#4fa8b0"/><ellipse cx="-8.6" cy="15.0" rx="0.88" ry="0.88" fill="#3a949c"/><ellipse cx="20.8" cy="0.9" rx="1.58" ry="1.55" fill="#1b6a74"/><ellipse cx="-0.4" cy="23.4" rx="0.81" ry="0.63" fill="#86d0d2"/><ellipse cx="3.1" cy="17.2" rx="1.43" ry="1.16" fill="#3a949c"/><ellipse cx="17.9" cy="3.1" rx="1.11" ry="1.09" fill="#0e4852"/><ellipse cx="19.2" cy="5.7" rx="1.10" ry="1.08" fill="#3a949c"/><ellipse cx="1.3" cy="3.8" rx="0.96" ry="0.62" fill="#2f8b94"/><ellipse cx="-25.7" cy="-6.4" rx="1.40" ry="1.13" fill="#4fa8b0"/><ellipse cx="-5.2" cy="15.7" rx="1.43" ry="0.91" fill="#1b6a74"/><ellipse cx="-17.3" cy="22.4" rx="1.30" ry="0.92" fill="#0e4852"/><ellipse cx="-1.4" cy="-19.4" rx="1.26" ry="1.02" fill="#1b6a74"/><ellipse cx="-20.4" cy="-4.2" rx="0.74" ry="0.48" fill="#5bb6bc"/><ellipse cx="14.5" cy="-24.8" rx="0.95" ry="0.58" fill="#86d0d2"/><ellipse cx="-11.2" cy="11.6" rx="1.02" ry="0.65" fill="#1b6a74"/><ellipse cx="12.0" cy="-19.6" rx="1.36" ry="1.21" fill="#5bb6bc"/><ellipse cx="10.5" cy="19.7" rx="0.73" ry="0.68" fill="#0e4852"/><ellipse cx="6.0" cy="2.0" rx="1.82" ry="1.56" fill="#2f8b94"/><ellipse cx="1.5" cy="18.3" rx="1.50" ry="1.04" fill="#3a949c"/><ellipse cx="12.5" cy="16.1" rx="1.87" ry="1.58" fill="#115460"/><ellipse cx="20.3" cy="-15.9" rx="1.71" ry="1.63" fill="#86d0d2"/><ellipse cx="-19.0" cy="-13.6" rx="1.64" ry="1.24" fill="#5bb6bc"/><ellipse cx="-3.4" cy="22.9" rx="1.41" ry="0.96" fill="#3a949c"/><ellipse cx="6.7" cy="15.5" rx="0.82" ry="0.72" fill="#9ad8da"/><ellipse cx="21.4" cy="24.4" rx="0.85" ry="0.73" fill="#2f8b94"/><ellipse cx="-8.1" cy="25.9" rx="1.78" ry="1.41" fill="#6cc0c6"/><ellipse cx="-24.7" cy="13.6" rx="1.50" ry="1.19" fill="#9ad8da"/><ellipse cx="-16.1" cy="-20.0" rx="0.92" ry="0.92" fill="#3a949c"/><ellipse cx="22.2" cy="-21.0" rx="0.78" ry="0.49" fill="#1b6a74"/><ellipse cx="-21.0" cy="-5.7" rx="1.25" ry="0.97" fill="#115460"/><ellipse cx="5.2" cy="-25.3" rx="1.61" ry="1.08" fill="#86d0d2"/><ellipse cx="-2.4" cy="12.4" rx="1.23" ry="1.03" fill="#86d0d2"/><ellipse cx="-21.1" cy="15.2" rx="1.12" ry="1.03" fill="#6cc0c6"/><ellipse cx="10.6" cy="18.8" rx="1.52" ry="1.26" fill="#0e4852"/><ellipse cx="-16.1" cy="4.4" rx="1.14" ry="0.81" fill="#5bb6bc"/><ellipse cx="-20.0" cy="12.6" rx="0.91" ry="0.59" fill="#0e4852"/><ellipse cx="-8.8" cy="2.0" rx="1.18" ry="1.07" fill="#0e4852"/><ellipse cx="-4.9" cy="11.6" rx="0.79" ry="0.57" fill="#115460"/><ellipse cx="-20.8" cy="20.2" rx="1.99" ry="1.23" fill="#9ad8da"/><ellipse cx="-11.8" cy="24.0" rx="1.09" ry="0.94" fill="#86d0d2"/><ellipse cx="3.6" cy="1.7" rx="1.21" ry="1.03" fill="#1b6a74"/><ellipse cx="10.5" cy="13.6" rx="1.97" ry="1.28" fill="#4fa8b0"/><ellipse cx="-20.4" cy="-13.7" rx="1.28" ry="0.79" fill="#2f8b94"/><ellipse cx="-15.8" cy="-6.5" rx="0.83" ry="0.59" fill="#5bb6bc"/><ellipse cx="-8.3" cy="2.1" rx="1.24" ry="1.03" fill="#2f8b94"/><ellipse cx="25.7" cy="7.2" rx="1.75" ry="1.44" fill="#6cc0c6"/><ellipse cx="8.8" cy="23.7" rx="1.20" ry="0.91" fill="#3a949c"/><ellipse cx="24.4" cy="18.5" rx="1.40" ry="0.88" fill="#9ad8da"/><ellipse cx="23.2" cy="-4.1" rx="1.38" ry="1.00" fill="#9ad8da"/><ellipse cx="1.6" cy="-0.9" rx="1.05" ry="0.91" fill="#5bb6bc"/><ellipse cx="12.9" cy="-24.6" rx="1.70" ry="1.05" fill="#9ad8da"/><ellipse cx="-17.9" cy="13.2" rx="1.21" ry="1.09" fill="#115460"/><ellipse cx="-23.4" cy="25.4" rx="1.93" ry="1.77" fill="#6cc0c6"/><ellipse cx="-14.4" cy="11.4" rx="1.03" ry="0.63" fill="#86d0d2"/><ellipse cx="-20.9" cy="16.1" rx="1.88" ry="1.87" fill="#3a949c"/><ellipse cx="16.5" cy="5.4" rx="0.85" ry="0.65" fill="#9ad8da"/><ellipse cx="-19.9" cy="18.8" rx="1.16" ry="0.76" fill="#3a949c"/><ellipse cx="-3.0" cy="8.7" rx="1.29" ry="1.11" fill="#5bb6bc"/><ellipse cx="9.5" cy="-7.1" rx="1.67" ry="1.64" fill="#3a949c"/><ellipse cx="12.2" cy="-13.6" rx="0.85" ry="0.77" fill="#5bb6bc"/><ellipse cx="6.5" cy="-7.3" rx="1.05" ry="0.93" fill="#9ad8da"/><ellipse cx="-16.1" cy="-11.5" rx="1.01" ry="0.81" fill="#86d0d2"/><ellipse cx="8.0" cy="-15.8" rx="1.59" ry="0.96" fill="#4fa8b0"/><ellipse cx="-12.5" cy="-24.6" rx="0.75" ry="0.61" fill="#86d0d2"/><ellipse cx="-22.2" cy="-21.5" rx="1.58" ry="1.10" fill="#2f8b94"/><ellipse cx="25.0" cy="-0.8" rx="1.16" ry="0.86" fill="#115460"/><ellipse cx="12.7" cy="17.6" rx="0.80" ry="0.62" fill="#6cc0c6"/><ellipse cx="16.7" cy="17.6" rx="1.70" ry="1.31" fill="#1b6a74"/><ellipse cx="-12.6" cy="16.1" rx="1.18" ry="0.86" fill="#9ad8da"/><ellipse cx="2.5" cy="12.8" rx="1.90" ry="1.63" fill="#0e4852"/><ellipse cx="4.2" cy="-2.0" rx="1.12" ry="0.71" fill="#2f8b94"/><ellipse cx="3.3" cy="-0.8" rx="1.59" ry="1.48" fill="#5bb6bc"/><ellipse cx="-25.5" cy="-9.9" rx="1.88" ry="1.19" fill="#9ad8da"/><ellipse cx="-10.2" cy="11.7" rx="1.60" ry="1.53" fill="#5bb6bc"/><ellipse cx="-14.6" cy="8.2" rx="1.13" ry="0.82" fill="#6cc0c6"/><ellipse cx="-3.1" cy="4.9" rx="1.87" ry="1.45" fill="#5bb6bc"/><ellipse cx="15.8" cy="-10.2" rx="1.11" ry="1.10" fill="#0e4852"/><ellipse cx="11.9" cy="0.8" rx="0.81" ry="0.49" fill="#115460"/><ellipse cx="9.2" cy="4.4" rx="1.73" ry="1.30" fill="#9ad8da"/><ellipse cx="-5.7" cy="-18.0" rx="1.47" ry="0.98" fill="#3a949c"/><ellipse cx="13.5" cy="19.8" rx="1.07" ry="0.73" fill="#4fa8b0"/><ellipse cx="-23.0" cy="-17.7" rx="1.08" ry="0.93" fill="#4fa8b0"/><ellipse cx="15.8" cy="-22.7" rx="1.41" ry="0.89" fill="#2f8b94"/><ellipse cx="-21.8" cy="12.3" rx="1.87" ry="1.14" fill="#6cc0c6"/><ellipse cx="8.0" cy="-20.9" rx="1.76" ry="1.23" fill="#0e4852"/><ellipse cx="-14.5" cy="13.8" rx="1.38" ry="1.04" fill="#1b6a74"/><ellipse cx="-8.4" cy="24.4" rx="1.57" ry="1.25" fill="#1b6a74"/><ellipse cx="15.8" cy="-22.2" rx="1.50" ry="1.15" fill="#4fa8b0"/><ellipse cx="17.0" cy="8.7" rx="1.81" ry="1.69" fill="#0e4852"/><ellipse cx="20.2" cy="23.8" rx="1.53" ry="1.14" fill="#2f8b94"/><ellipse cx="-25.5" cy="-20.3" rx="1.90" ry="1.33" fill="#3a949c"/><ellipse cx="-17.6" cy="7.0" rx="1.59" ry="1.08" fill="#115460"/><ellipse cx="-3.9" cy="-10.8" rx="1.96" ry="1.55" fill="#4fa8b0"/><ellipse cx="12.0" cy="-10.2" rx="0.90" ry="0.87" fill="#3a949c"/><ellipse cx="13.2" cy="-25.1" rx="1.33" ry="0.96" fill="#4fa8b0"/><ellipse cx="-15.7" cy="-7.3" rx="1.46" ry="1.30" fill="#9ad8da"/><ellipse cx="4.9" cy="-14.4" rx="0.94" ry="0.72" fill="#5bb6bc"/><ellipse cx="21.4" cy="22.7" rx="1.51" ry="1.20" fill="#2f8b94"/><ellipse cx="-12.5" cy="20.1" rx="1.89" ry="1.63" fill="#115460"/><ellipse cx="14.1" cy="-21.2" rx="1.82" ry="1.13" fill="#0e4852"/><ellipse cx="23.3" cy="15.7" rx="1.20" ry="1.10" fill="#2f8b94"/><ellipse cx="14.3" cy="15.0" rx="0.78" ry="0.74" fill="#86d0d2"/><ellipse cx="19.5" cy="21.1" rx="1.29" ry="1.14" fill="#86d0d2"/><ellipse cx="5.5" cy="-17.8" rx="0.90" ry="0.59" fill="#115460"/><ellipse cx="21.2" cy="16.1" rx="0.87" ry="0.62" fill="#9ad8da"/><ellipse cx="1.8" cy="-18.2" rx="1.70" ry="1.16" fill="#4fa8b0"/><ellipse cx="21.6" cy="-18.3" rx="0.87" ry="0.61" fill="#115460"/><ellipse cx="11.3" cy="-20.9" rx="1.32" ry="0.84" fill="#1b6a74"/><ellipse cx="12.9" cy="2.3" rx="1.36" ry="1.24" fill="#4fa8b0"/><ellipse cx="-4.3" cy="21.7" rx="0.82" ry="0.56" fill="#1b6a74"/><ellipse cx="2.3" cy="1.3" rx="0.90" ry="0.66" fill="#5bb6bc"/><ellipse cx="-4.9" cy="2.9" rx="2.00" ry="1.49" fill="#6cc0c6"/><ellipse cx="9.7" cy="-20.5" rx="1.21" ry="1.09" fill="#1b6a74"/><ellipse cx="14.8" cy="-19.7" rx="1.28" ry="1.13" fill="#0e4852"/><ellipse cx="-1.3" cy="-10.7" rx="0.85" ry="0.80" fill="#4fa8b0"/><ellipse cx="17.9" cy="11.4" rx="1.87" ry="1.34" fill="#3a949c"/><ellipse cx="-6.4" cy="2.1" rx="1.09" ry="0.98" fill="#115460"/><ellipse cx="2.9" cy="-21.5" rx="0.95" ry="0.84" fill="#0e4852"/><ellipse cx="-8.9" cy="23.1" rx="1.43" ry="1.11" fill="#115460"/><ellipse cx="-6.1" cy="-20.7" rx="1.51" ry="1.31" fill="#3a949c"/><ellipse cx="10.8" cy="-16.6" rx="1.22" ry="1.02" fill="#1b6a74"/><ellipse cx="-21.3" cy="-14.2" rx="0.90" ry="0.70" fill="#6cc0c6"/><ellipse cx="14.1" cy="-8.2" rx="1.77" ry="1.16" fill="#2f8b94"/><ellipse cx="-15.3" cy="-18.3" rx="1.60" ry="1.17" fill="#1b6a74"/><ellipse cx="-4.6" cy="-25.2" rx="1.22" ry="1.21" fill="#115460"/><ellipse cx="15.1" cy="8.3" rx="1.49" ry="1.05" fill="#4fa8b0"/><ellipse cx="-16.2" cy="-10.0" rx="1.27" ry="0.96" fill="#2f8b94"/><ellipse cx="0.5" cy="15.0" rx="1.77" ry="1.57" fill="#9ad8da"/><ellipse cx="-12.8" cy="2.0" rx="1.09" ry="0.81" fill="#86d0d2"/><ellipse cx="0.0" cy="-18.6" rx="1.63" ry="1.63" fill="#2f8b94"/><ellipse cx="10.8" cy="22.7" rx="1.44" ry="1.22" fill="#4fa8b0"/><ellipse cx="-15.7" cy="-21.7" rx="1.02" ry="0.78" fill="#9ad8da"/><ellipse cx="-8.7" cy="-21.2" rx="1.83" ry="1.44" fill="#5bb6bc"/><ellipse cx="-19.6" cy="24.6" rx="0.88" ry="0.72" fill="#9ad8da"/><ellipse cx="3.2" cy="3.1" rx="1.04" ry="0.88" fill="#115460"/><ellipse cx="-19.6" cy="16.9" rx="1.08" ry="0.75" fill="#115460"/><ellipse cx="3.8" cy="17.2" rx="0.94" ry="0.87" fill="#2f8b94"/><ellipse cx="-2.4" cy="-5.0" rx="1.72" ry="1.24" fill="#3a949c"/><ellipse cx="8.9" cy="12.4" rx="1.20" ry="1.02" fill="#9ad8da"/><ellipse cx="13.7" cy="-17.8" rx="1.24" ry="0.81" fill="#4fa8b0"/><ellipse cx="-5.9" cy="3.6" rx="0.93" ry="0.60" fill="#2f8b94"/><ellipse cx="-13.3" cy="22.4" rx="0.77" ry="0.68" fill="#4fa8b0"/><ellipse cx="15.0" cy="-5.0" rx="1.35" ry="1.06" fill="#6cc0c6"/><ellipse cx="-4.6" cy="6.4" rx="1.60" ry="1.44" fill="#0e4852"/><ellipse cx="-0.7" cy="25.7" rx="1.79" ry="1.66" fill="#0e4852"/><ellipse cx="-19.9" cy="-20.0" rx="1.92" ry="1.56" fill="#115460"/><ellipse cx="-3.5" cy="21.0" rx="1.12" ry="0.80" fill="#4fa8b0"/><ellipse cx="6.0" cy="-3.5" rx="1.19" ry="1.07" fill="#115460"/><ellipse cx="-10.2" cy="4.9" rx="0.79" ry="0.74" fill="#6cc0c6"/><ellipse cx="-13.4" cy="19.4" rx="1.96" ry="1.72" fill="#1b6a74"/><ellipse cx="1.4" cy="-13.6" rx="1.10" ry="1.07" fill="#0e4852"/><ellipse cx="19.7" cy="26.0" rx="1.65" ry="1.56" fill="#115460"/><ellipse cx="-4.1" cy="15.9" rx="0.99" ry="0.82" fill="#0e4852"/><ellipse cx="21.0" cy="-20.9" rx="1.73" ry="1.65" fill="#6cc0c6"/><ellipse cx="3.9" cy="-2.4" rx="1.08" ry="0.66" fill="#5bb6bc"/><ellipse cx="-17.1" cy="-3.1" rx="1.29" ry="0.98" fill="#2f8b94"/><ellipse cx="-7.5" cy="4.4" rx="0.76" ry="0.59" fill="#4fa8b0"/><ellipse cx="-9.7" cy="-9.1" rx="0.89" ry="0.84" fill="#1b6a74"/><ellipse cx="-15.5" cy="18.7" rx="1.60" ry="1.09" fill="#4fa8b0"/><ellipse cx="17.6" cy="-7.6" rx="1.31" ry="1.12" fill="#3a949c"/><ellipse cx="10.3" cy="3.1" rx="1.39" ry="0.94" fill="#86d0d2"/><ellipse cx="19.8" cy="-23.4" rx="0.84" ry="0.82" fill="#115460"/><ellipse cx="-11.8" cy="-4.1" rx="1.84" ry="1.62" fill="#115460"/><ellipse cx="22.8" cy="-2.9" rx="0.80" ry="0.76" fill="#86d0d2"/><ellipse cx="-19.7" cy="9.9" rx="1.05" ry="0.84" fill="#86d0d2"/><ellipse cx="-10.6" cy="-11.8" rx="1.74" ry="1.66" fill="#2f8b94"/><ellipse cx="4.7" cy="-14.1" rx="1.09" ry="0.95" fill="#3a949c"/><ellipse cx="-11.6" cy="7.3" rx="0.82" ry="0.63" fill="#6cc0c6"/><ellipse cx="1.5" cy="1.6" rx="0.76" ry="0.63" fill="#9ad8da"/><ellipse cx="1.9" cy="-4.0" rx="1.44" ry="1.03" fill="#3a949c"/><ellipse cx="13.3" cy="-13.2" rx="1.06" ry="0.65" fill="#2f8b94"/><ellipse cx="15.1" cy="-18.2" rx="1.87" ry="1.47" fill="#9ad8da"/><ellipse cx="13.0" cy="-6.0" rx="1.91" ry="1.19" fill="#1b6a74"/><ellipse cx="-22.7" cy="14.4" rx="1.88" ry="1.63" fill="#115460"/><ellipse cx="14.7" cy="0.9" rx="1.36" ry="1.22" fill="#2f8b94"/><ellipse cx="1.6" cy="4.9" rx="1.70" ry="1.44" fill="#6cc0c6"/><ellipse cx="-13.8" cy="-3.1" rx="1.70" ry="1.20" fill="#86d0d2"/><ellipse cx="2.3" cy="18.3" rx="1.48" ry="0.91" fill="#5bb6bc"/><ellipse cx="5.0" cy="11.2" rx="1.44" ry="1.05" fill="#3a949c"/><ellipse cx="5.6" cy="5.6" rx="1.75" ry="1.36" fill="#2f8b94"/><ellipse cx="-12.3" cy="15.5" rx="0.79" ry="0.66" fill="#3a949c"/><ellipse cx="2.2" cy="15.2" rx="1.01" ry="0.63" fill="#3a949c"/><ellipse cx="-3.9" cy="10.2" rx="1.77" ry="1.61" fill="#2f8b94"/><ellipse cx="13.8" cy="-0.1" rx="1.55" ry="1.03" fill="#2f8b94"/><ellipse cx="-12.7" cy="-17.7" rx="1.60" ry="1.46" fill="#9ad8da"/><ellipse cx="-22.8" cy="-4.6" rx="1.17" ry="1.03" fill="#86d0d2"/><ellipse cx="23.8" cy="-19.3" rx="1.68" ry="1.67" fill="#9ad8da"/><ellipse cx="-18.5" cy="-2.3" rx="1.67" ry="1.00" fill="#4fa8b0"/><ellipse cx="-4.7" cy="1.3" rx="0.82" ry="0.59" fill="#2f8b94"/><ellipse cx="-3.9" cy="-22.0" rx="0.74" ry="0.52" fill="#9ad8da"/><ellipse cx="-12.8" cy="2.7" rx="1.01" ry="0.64" fill="#1b6a74"/><ellipse cx="-14.2" cy="-9.9" rx="1.93" ry="1.33" fill="#9ad8da"/><ellipse cx="-17.7" cy="4.4" rx="1.99" ry="1.65" fill="#115460"/><ellipse cx="21.4" cy="20.0" rx="1.90" ry="1.49" fill="#3a949c"/><ellipse cx="-5.6" cy="17.8" rx="1.20" ry="0.82" fill="#4fa8b0"/><ellipse cx="-7.9" cy="-16.5" rx="1.41" ry="1.12" fill="#3a949c"/><ellipse cx="-5.2" cy="4.9" rx="1.69" ry="1.31" fill="#1b6a74"/><ellipse cx="25.7" cy="9.3" rx="1.82" ry="1.49" fill="#86d0d2"/><ellipse cx="-4.2" cy="-23.5" rx="1.06" ry="0.90" fill="#5bb6bc"/><ellipse cx="1.0" cy="12.6" rx="1.37" ry="1.32" fill="#9ad8da"/><ellipse cx="11.2" cy="-12.0" rx="1.17" ry="1.04" fill="#3a949c"/><ellipse cx="14.4" cy="-18.9" rx="1.01" ry="0.62" fill="#6cc0c6"/><ellipse cx="-9.3" cy="-6.0" rx="0.81" ry="0.59" fill="#0e4852"/><ellipse cx="14.1" cy="1.0" rx="0.77" ry="0.65" fill="#0e4852"/><ellipse cx="-0.6" cy="-16.2" rx="1.37" ry="0.84" fill="#3a949c"/><ellipse cx="-9.8" cy="-3.9" rx="1.41" ry="1.14" fill="#3a949c"/><ellipse cx="2.5" cy="-9.7" rx="1.29" ry="0.85" fill="#0e4852"/><ellipse cx="-15.4" cy="-11.4" rx="1.63" ry="1.06" fill="#0e4852"/><ellipse cx="0.9" cy="-7.5" rx="0.83" ry="0.62" fill="#115460"/><ellipse cx="-14.8" cy="-23.9" rx="0.73" ry="0.60" fill="#1b6a74"/><ellipse cx="16.1" cy="24.7" rx="1.09" ry="1.05" fill="#6cc0c6"/><ellipse cx="-14.8" cy="9.8" rx="1.57" ry="1.09" fill="#115460"/><ellipse cx="6.9" cy="-21.3" rx="1.26" ry="1.00" fill="#0e4852"/><ellipse cx="-0.5" cy="22.4" rx="1.07" ry="0.74" fill="#5bb6bc"/><ellipse cx="22.1" cy="-15.5" rx="1.70" ry="1.47" fill="#115460"/><ellipse cx="-13.5" cy="-21.2" rx="1.14" ry="1.05" fill="#0e4852"/><ellipse cx="-1.1" cy="-12.6" rx="1.81" ry="1.59" fill="#5bb6bc"/><ellipse cx="-24.8" cy="-5.6" rx="1.17" ry="1.13" fill="#6cc0c6"/><ellipse cx="-11.9" cy="-6.4" rx="1.80" ry="1.42" fill="#5bb6bc"/><ellipse cx="-9.1" cy="-12.8" rx="0.73" ry="0.53" fill="#115460"/><ellipse cx="-6.6" cy="-10.5" rx="1.76" ry="1.51" fill="#3a949c"/><ellipse cx="-6.0" cy="-8.2" rx="1.87" ry="1.55" fill="#4fa8b0"/><ellipse cx="23.0" cy="14.1" rx="1.52" ry="1.24" fill="#9ad8da"/><ellipse cx="5.9" cy="-22.7" rx="0.79" ry="0.75" fill="#1b6a74"/><ellipse cx="-6.1" cy="21.3" rx="0.75" ry="0.65" fill="#3a949c"/><ellipse cx="-11.8" cy="-0.3" rx="1.31" ry="0.87" fill="#4fa8b0"/><ellipse cx="-16.0" cy="-14.1" rx="1.58" ry="1.28" fill="#86d0d2"/><ellipse cx="22.2" cy="24.9" rx="0.70" ry="0.56" fill="#2f8b94"/><ellipse cx="7.8" cy="2.5" rx="1.51" ry="1.44" fill="#2f8b94"/><ellipse cx="9.9" cy="15.4" rx="1.04" ry="1.00" fill="#6cc0c6"/><ellipse cx="-9.7" cy="11.2" rx="1.60" ry="1.58" fill="#3a949c"/><ellipse cx="16.9" cy="-17.7" rx="1.51" ry="1.39" fill="#1b6a74"/><ellipse cx="-10.7" cy="-4.4" rx="1.18" ry="0.94" fill="#2f8b94"/><ellipse cx="7.6" cy="-7.2" rx="1.62" ry="1.45" fill="#2f8b94"/><ellipse cx="19.6" cy="25.4" rx="1.76" ry="1.14" fill="#5bb6bc"/><ellipse cx="-2.5" cy="14.1" rx="1.32" ry="1.12" fill="#3a949c"/><ellipse cx="-4.5" cy="-0.9" rx="1.15" ry="0.92" fill="#0e4852"/><ellipse cx="15.4" cy="-5.6" rx="1.63" ry="1.22" fill="#5bb6bc"/><ellipse cx="9.5" cy="-16.5" rx="1.81" ry="1.70" fill="#86d0d2"/><ellipse cx="17.1" cy="3.5" rx="1.25" ry="1.06" fill="#3a949c"/><ellipse cx="17.2" cy="15.7" rx="0.86" ry="0.73" fill="#0e4852"/><ellipse cx="-10.8" cy="7.9" rx="1.97" ry="1.64" fill="#1b6a74"/><ellipse cx="22.9" cy="24.5" rx="0.87" ry="0.67" fill="#5bb6bc"/><ellipse cx="6.8" cy="-5.4" rx="1.91" ry="1.19" fill="#3a949c"/><ellipse cx="11.1" cy="-19.8" rx="0.76" ry="0.56" fill="#5bb6bc"/><ellipse cx="2.0" cy="15.7" rx="1.23" ry="1.14" fill="#4fa8b0"/><ellipse cx="18.5" cy="-17.1" rx="0.79" ry="0.72" fill="#1b6a74"/><ellipse cx="17.6" cy="-11.2" rx="1.21" ry="0.92" fill="#9ad8da"/><ellipse cx="-18.6" cy="4.0" rx="1.58" ry="1.29" fill="#86d0d2"/><ellipse cx="15.6" cy="-18.4" rx="0.93" ry="0.76" fill="#6cc0c6"/><ellipse cx="20.6" cy="19.8" rx="1.26" ry="0.92" fill="#3a949c"/><ellipse cx="-25.0" cy="3.4" rx="0.89" ry="0.63" fill="#0e4852"/><ellipse cx="-14.2" cy="-0.9" rx="1.18" ry="0.97" fill="#5bb6bc"/><ellipse cx="-18.1" cy="-25.6" rx="1.69" ry="1.02" fill="#6cc0c6"/><ellipse cx="-8.5" cy="-18.7" rx="1.73" ry="1.37" fill="#0e4852"/><ellipse cx="-4.4" cy="16.0" rx="1.21" ry="0.83" fill="#4fa8b0"/><ellipse cx="6.1" cy="17.0" rx="1.03" ry="1.00" fill="#86d0d2"/><ellipse cx="19.0" cy="25.7" rx="1.28" ry="0.86" fill="#4fa8b0"/><ellipse cx="-24.6" cy="-17.2" rx="0.85" ry="0.61" fill="#6cc0c6"/><ellipse cx="-24.8" cy="2.9" rx="0.78" ry="0.47" fill="#1b6a74"/><ellipse cx="-15.1" cy="23.9" rx="0.71" ry="0.50" fill="#2f8b94"/><ellipse cx="-13.3" cy="22.1" rx="1.34" ry="1.24" fill="#5bb6bc"/><ellipse cx="17.0" cy="13.9" rx="1.98" ry="1.93" fill="#6cc0c6"/><ellipse cx="-0.9" cy="17.7" rx="1.23" ry="0.75" fill="#9ad8da"/><ellipse cx="4.0" cy="-14.2" rx="1.20" ry="0.97" fill="#115460"/><ellipse cx="-11.6" cy="25.6" rx="1.51" ry="1.12" fill="#1b6a74"/><ellipse cx="-11.5" cy="21.1" rx="1.12" ry="0.79" fill="#6cc0c6"/><ellipse cx="-14.9" cy="-16.6" rx="0.76" ry="0.62" fill="#3a949c"/><ellipse cx="9.4" cy="-16.8" rx="0.84" ry="0.63" fill="#3a949c"/><ellipse cx="-16.5" cy="-24.9" rx="1.22" ry="0.93" fill="#4fa8b0"/><ellipse cx="-9.3" cy="1.9" rx="1.94" ry="1.18" fill="#86d0d2"/><ellipse cx="-16.9" cy="-22.5" rx="1.47" ry="1.46" fill="#9ad8da"/><ellipse cx="-3.6" cy="24.1" rx="0.99" ry="0.90" fill="#0e4852"/><ellipse cx="20.2" cy="16.3" rx="0.79" ry="0.77" fill="#0e4852"/><ellipse cx="-9.2" cy="-16.5" rx="1.16" ry="0.77" fill="#4fa8b0"/><ellipse cx="7.0" cy="-6.3" rx="1.54" ry="1.30" fill="#86d0d2"/><ellipse cx="-8.1" cy="-3.1" rx="1.63" ry="1.31" fill="#0e4852"/><ellipse cx="3.5" cy="-20.1" rx="1.79" ry="1.39" fill="#1b6a74"/><ellipse cx="-1.7" cy="17.5" rx="1.35" ry="1.14" fill="#0e4852"/><ellipse cx="3.8" cy="0.8" rx="0.74" ry="0.58" fill="#1b6a74"/><ellipse cx="4.9" cy="4.9" rx="1.91" ry="1.56" fill="#3a949c"/><ellipse cx="-8.9" cy="-12.7" rx="1.51" ry="1.35" fill="#86d0d2"/><ellipse cx="25.4" cy="-5.1" rx="1.83" ry="1.65" fill="#3a949c"/><ellipse cx="20.7" cy="-20.2" rx="0.94" ry="0.88" fill="#3a949c"/><ellipse cx="15.5" cy="0.6" rx="1.99" ry="1.34" fill="#6cc0c6"/><ellipse cx="-24.0" cy="-8.2" rx="1.37" ry="1.07" fill="#115460"/><ellipse cx="1.9" cy="19.0" rx="0.95" ry="0.94" fill="#5bb6bc"/><ellipse cx="-13.6" cy="-20.4" rx="1.27" ry="1.21" fill="#1b6a74"/><ellipse cx="-22.2" cy="-0.2" rx="0.77" ry="0.76" fill="#2f8b94"/><ellipse cx="-22.6" cy="23.0" rx="1.76" ry="1.12" fill="#3a949c"/><ellipse cx="-24.1" cy="-8.0" rx="1.82" ry="1.18" fill="#5bb6bc"/><ellipse cx="-16.6" cy="-5.8" rx="1.80" ry="1.42" fill="#9ad8da"/><ellipse cx="-0.6" cy="-21.4" rx="1.54" ry="1.31" fill="#2f8b94"/><ellipse cx="19.6" cy="11.8" rx="0.96" ry="0.72" fill="#0e4852"/></g></g></g><circle cx="154.5" cy="47.0" r="27.5" fill="#ffffff" opacity="0.45" filter="url(#bl2)"/><g transform="translate(154.5,47.0)"><g clip-path="url(#cc)"><g filter="url(#bl)"><rect x="-26" y="-26" width="52" height="52" fill="#e8eeee"/><path d="M-26,-26 L26,-26 L26,-18 L-26,-10Z" fill="#d6dfdf"/><path d="M-26,-12 L-9,-14 L-9,6 L-26,7Z" fill="#c6d1d2"/><path d="M-26,-14 L26,-20 L26,-18 L-26,-12Z" fill="#bccaca"/><path d="M-26,-5 L26,-8 L26,-6.8 L-26,-3.8Z" fill="#cad5d5"/><path d="M-3,-0.5 L26,-1.5 L26,0.5 L-3,1.3Z" fill="#a8b4b4"/><path d="M-26,5.5 L26,5 L26,6.5 L-26,7Z" fill="#aeb8b8"/><rect x="-26" y="9" width="52" height="17" fill="#f1f4f4"/><path d="M-22,10 L-12,10 L-12,20 L-22,20Z" fill="#a7b5b3"/><path d="M-20,12 L-15,12 L-15,16 L-20,16Z" fill="#7f9290"/><path d="M1,7 L21,6 L21,15 L1,15Z" fill="#b4c0c0"/><rect x="8" y="4" width="1.6" height="14" fill="#8a9696"/><rect x="15" y="4" width="1.6" height="12" fill="#8a9696"/><ellipse cx="-5.9" cy="-9.8" rx="2.2" ry="2.3" fill="#4a2c26"/><path d="M-10,-7.6 L-2.8,-7.6 L-2.5,3.9 L-9.8,3.9Z" fill="#b0292e"/><path d="M-3,-2 L2,-0.8 L2,0.6 L-3,-0.2Z" fill="#b0292e"/><path d="M-9.4,3.7 L-3,3.7 L3,19.5 L0.5,20.2 L-4.8,9 L-6.4,20.3 L-9,20.3Z" fill="#283246"/></g></g></g><text x="215.4" y="49.5" class="f" textLength="41.8" lengthAdjust="spacingAndGlyphs">Filière</text><rect x="261.6" y="38.6" width="1.6" height="10.9" fill="#449ca7" opacity="0.75"/><text x="268.7" y="49.5" class="l" fill="#449ca7" stroke="#449ca7" textLength="129.8" lengthAdjust="spacingAndGlyphs">Recherche clinique</text></g><g transform="translate(229.4,338.8) rotate(-2.75)"><rect x="0" y="0" width="513.0" height="49.4" fill="#e3e7cb"/><rect x="0.10" y="47.40" width="6.20" height="5.60" rx="3.10" fill="#e3e7cb"/><circle cx="3.20" cy="59.30" r="3.50" fill="#d7dbc0"/><rect x="8.65" y="47.40" width="6.10" height="5.54" rx="3.05" fill="#e3e7cb"/><circle cx="11.70" cy="59.30" r="3.42" fill="#d6dac0"/><rect x="17.20" y="47.40" width="6.00" height="5.48" rx="3.00" fill="#e3e7cb"/><circle cx="20.20" cy="59.30" r="3.34" fill="#d6dac0"/><rect x="25.75" y="47.40" width="5.90" height="5.42" rx="2.95" fill="#e3e7cb"/><circle cx="28.70" cy="59.30" r="3.26" fill="#d5d9c0"/><rect x="34.30" y="47.40" width="5.80" height="5.36" rx="2.90" fill="#e3e7cb"/><circle cx="37.20" cy="59.30" r="3.18" fill="#d5d8c0"/><rect x="42.85" y="47.40" width="5.70" height="5.30" rx="2.85" fill="#e3e7cb"/><circle cx="45.70" cy="59.30" r="3.10" fill="#d4d8bf"/><rect x="51.40" y="47.40" width="5.60" height="5.24" rx="2.80" fill="#e3e7cb"/><circle cx="54.20" cy="59.30" r="3.02" fill="#d3d7bf"/><rect x="59.95" y="47.40" width="5.50" height="5.18" rx="2.75" fill="#e3e7cb"/><circle cx="62.70" cy="59.30" r="2.94" fill="#d3d6bf"/><rect x="68.50" y="47.40" width="5.40" height="5.12" rx="2.70" fill="#e3e7cb"/><circle cx="71.20" cy="59.30" r="2.86" fill="#d2d6bf"/><rect x="77.05" y="47.40" width="5.30" height="5.06" rx="2.65" fill="#e3e7cb"/><circle cx="79.70" cy="59.30" r="2.78" fill="#d2d5bf"/><rect x="85.60" y="47.40" width="5.20" height="5.00" rx="2.60" fill="#e3e7cb"/><circle cx="88.20" cy="59.30" r="2.70" fill="#d1d4bf"/><rect x="94.15" y="47.40" width="5.10" height="4.94" rx="2.55" fill="#e3e7cb"/><circle cx="96.70" cy="59.30" r="2.62" fill="#d0d4bf"/><rect x="102.70" y="47.40" width="5.00" height="4.88" rx="2.50" fill="#e3e7cb"/><circle cx="105.20" cy="59.30" r="2.54" fill="#d0d3bf"/><rect x="111.25" y="47.40" width="4.90" height="4.82" rx="2.45" fill="#e3e7cb"/><circle cx="113.70" cy="59.30" r="2.46" fill="#cfd2bf"/><rect x="119.80" y="47.40" width="4.80" height="4.76" rx="2.40" fill="#e3e7cb"/><circle cx="122.20" cy="59.30" r="2.38" fill="#cfd2be"/><rect x="128.35" y="47.40" width="4.70" height="4.70" rx="2.35" fill="#e3e7cb"/><circle cx="130.70" cy="59.30" r="2.30" fill="#ced1be"/><rect x="136.90" y="47.40" width="4.60" height="4.64" rx="2.30" fill="#e3e7cb"/><circle cx="139.20" cy="59.30" r="2.22" fill="#ced0be"/><rect x="145.45" y="47.40" width="4.50" height="4.58" rx="2.25" fill="#e3e7cb"/><circle cx="147.70" cy="59.30" r="2.14" fill="#cdd0be"/><rect x="154.00" y="47.40" width="4.40" height="4.52" rx="2.20" fill="#e3e7cb"/><circle cx="156.20" cy="59.30" r="2.06" fill="#cccfbe"/><rect x="162.55" y="47.40" width="4.30" height="4.46" rx="2.15" fill="#e3e7cb"/><circle cx="164.70" cy="59.30" r="1.98" fill="#cccebe"/><rect x="171.10" y="47.40" width="4.20" height="4.40" rx="2.10" fill="#e3e7cb"/><circle cx="173.20" cy="59.30" r="1.90" fill="#cbcebe"/><rect x="179.65" y="47.40" width="4.10" height="4.34" rx="2.05" fill="#e3e7cb"/><circle cx="181.70" cy="59.30" r="1.82" fill="#cbcdbe"/><rect x="188.20" y="47.40" width="4.00" height="4.28" rx="2.00" fill="#e3e7cb"/><circle cx="190.20" cy="59.30" r="1.74" fill="#caccbd"/><rect x="196.75" y="47.40" width="3.90" height="4.22" rx="1.95" fill="#e3e7cb"/><circle cx="198.70" cy="59.30" r="1.66" fill="#caccbd"/><rect x="205.30" y="47.40" width="3.80" height="4.16" rx="1.90" fill="#e3e7cb"/><circle cx="207.20" cy="59.30" r="1.58" fill="#caccbd"/><rect x="213.85" y="47.40" width="3.70" height="4.10" rx="1.85" fill="#e3e7cb"/><circle cx="215.70" cy="59.30" r="1.50" fill="#caccbd"/><rect x="222.40" y="47.40" width="3.60" height="4.04" rx="1.80" fill="#e3e7cb"/><circle cx="224.20" cy="59.30" r="1.42" fill="#caccbd"/><rect x="230.95" y="47.40" width="3.50" height="3.98" rx="1.75" fill="#e3e7cb"/><circle cx="232.70" cy="59.30" r="1.34" fill="#caccbd"/><rect x="239.50" y="47.40" width="3.40" height="3.92" rx="1.70" fill="#e3e7cb"/><circle cx="241.20" cy="59.30" r="1.00" fill="#caccbd"/><rect x="248.05" y="47.40" width="3.30" height="3.86" rx="1.65" fill="#e3e7cb"/><circle cx="249.70" cy="59.30" r="1.00" fill="#caccbd"/><rect x="256.60" y="47.40" width="3.20" height="3.80" rx="1.60" fill="#e3e7cb"/><circle cx="258.20" cy="59.30" r="1.00" fill="#caccbd"/><rect x="265.15" y="47.40" width="3.10" height="3.74" rx="1.55" fill="#e3e7cb"/><circle cx="266.70" cy="59.30" r="1.00" fill="#caccbd"/><rect x="273.70" y="47.40" width="3.00" height="3.68" rx="1.50" fill="#e3e7cb"/><circle cx="275.20" cy="59.30" r="0.94" fill="#caccbd"/><rect x="282.25" y="47.40" width="2.90" height="3.62" rx="1.45" fill="#e3e7cb"/><circle cx="283.70" cy="59.30" r="0.86" fill="#caccbd"/><circle cx="42.5" cy="47.0" r="27.5" fill="#ffffff" opacity="0.45" filter="url(#bl2)"/><g transform="translate(42.5,47.0)"><g clip-path="url(#cc)"><g filter="url(#bl)"><rect x="-26" y="-26" width="52" height="52" fill="#fcf3ef"/><ellipse cx="-7" cy="-2" rx="15.5" ry="19" fill="#f5d5c3"/><path d="M-26,-8 Q-22,-22 -8,-25 Q-12,-18 -16,-12 Q-20,-8 -22,-2Z" fill="#9b4a2c"/><path d="M-10,-26 Q2,-29 10,-22 Q8,-17 4,-16 Q-2,-21 -10,-22Z" fill="#e39566"/><ellipse cx="-9" cy="-4" rx="10" ry="11" fill="#f4cdb6" opacity="0.8"/><ellipse cx="-15.8" cy="-8" rx="2.4" ry="1.3" fill="#9a6a58" transform="rotate(-20 -15.8 -8)"/><ellipse cx="-1.8" cy="-12.5" rx="2.4" ry="1.3" fill="#9a6a58" transform="rotate(-20 -1.8 -12.5)"/><ellipse cx="-7" cy="-3" rx="1.5" ry="4" fill="#e9b9a2" transform="rotate(-20 -7 -3)"/><ellipse cx="-5.8" cy="5" rx="4.3" ry="1.6" fill="#de9a8a" transform="rotate(-20 -5.8 5)"/><path d="M9,-7 Q17,-11 25,-7 Q27,6 22,14 Q18,19 14,18 Q9,12 8,2Z" fill="#e6524a"/><ellipse cx="18" cy="2" rx="4" ry="6" fill="#ea6a5c" opacity="0.7"/><path d="M-18,15 L-8,13 L-7,26 L-19,26Z" fill="#9a5a44"/><path d="M-8,13 L6,12 L8,26 L-7,26Z" fill="#f4d4c2"/></g></g></g><circle cx="98.6" cy="47.0" r="27.5" fill="#ffffff" opacity="0.45" filter="url(#bl2)"/><g transform="translate(98.6,47.0)"><g clip-path="url(#cc)"><g filter="url(#bl)"><rect x="-26" y="-26" width="52" height="52" fill="#267e88"/><ellipse cx="-2.5" cy="3.1" rx="1.90" ry="1.48" fill="#1b6a74"/><ellipse cx="18.5" cy="-16.1" rx="1.75" ry="1.49" fill="#1b6a74"/><ellipse cx="15.2" cy="-21.1" rx="1.09" ry="0.89" fill="#6cc0c6"/><ellipse cx="20.3" cy="7.0" rx="1.47" ry="1.45" fill="#0e4852"/><ellipse cx="8.0" cy="6.0" rx="0.90" ry="0.84" fill="#4fa8b0"/><ellipse cx="-22.7" cy="-24.1" rx="1.84" ry="1.13" fill="#9ad8da"/><ellipse cx="-1.9" cy="-3.1" rx="1.80" ry="1.24" fill="#2f8b94"/><ellipse cx="-10.7" cy="-25.8" rx="0.81" ry="0.62" fill="#5bb6bc"/><ellipse cx="2.7" cy="22.4" rx="0.81" ry="0.59" fill="#5bb6bc"/><ellipse cx="-14.1" cy="-11.0" rx="0.79" ry="0.60" fill="#6cc0c6"/><ellipse cx="18.0" cy="-5.9" rx="1.95" ry="1.33" fill="#4fa8b0"/><ellipse cx="22.2" cy="-23.3" rx="1.19" ry="0.91" fill="#0e4852"/><ellipse cx="3.4" cy="-15.7" rx="1.58" ry="1.00" fill="#115460"/><ellipse cx="-8.7" cy="24.1" rx="1.69" ry="1.10" fill="#6cc0c6"/><ellipse cx="10.8" cy="-25.4" rx="1.30" ry="0.88" fill="#1b6a74"/><ellipse cx="3.1" cy="-2.7" rx="0.95" ry="0.73" fill="#3a949c"/><ellipse cx="-6.0" cy="-5.5" rx="1.99" ry="1.41" fill="#4fa8b0"/><ellipse cx="24.5" cy="15.8" rx="1.10" ry="0.75" fill="#4fa8b0"/><ellipse cx="-5.5" cy="18.4" rx="1.53" ry="0.95" fill="#6cc0c6"/><ellipse cx="-18.4" cy="-3.0" rx="0.71" ry="0.52" fill="#9ad8da"/><ellipse cx="-10.6" cy="-22.2" rx="0.82" ry="0.70" fill="#9ad8da"/><ellipse cx="-25.2" cy="-6.8" rx="1.51" ry="1.48" fill="#3a949c"/><ellipse cx="-0.8" cy="3.9" rx="1.83" ry="1.55" fill="#3a949c"/><ellipse cx="-9.8" cy="-14.1" rx="1.49" ry="0.99" fill="#86d0d2"/><ellipse cx="6.7" cy="2.8" rx="1.59" ry="1.52" fill="#0e4852"/><ellipse cx="5.4" cy="-4.1" rx="0.83" ry="0.67" fill="#4fa8b0"/><ellipse cx="-12.7" cy="12.5" rx="1.21" ry="1.12" fill="#0e4852"/><ellipse cx="5.0" cy="-10.7" rx="0.93" ry="0.60" fill="#6cc0c6"/><ellipse cx="-1.1" cy="8.0" rx="1.50" ry="1.07" fill="#6cc0c6"/><ellipse cx="21.7" cy="-15.4" rx="0.72" ry="0.55" fill="#5bb6bc"/><ellipse cx="-13.0" cy="-23.6" rx="1.07" ry="0.88" fill="#2f8b94"/><ellipse cx="-19.2" cy="-7.2" rx="1.86" ry="1.60" fill="#115460"/><ellipse cx="9.9" cy="4.4" rx="0.88" ry="0.86" fill="#4fa8b0"/><ellipse cx="-1.3" cy="-7.4" rx="1.11" ry="0.67" fill="#4fa8b0"/><ellipse cx="7.1" cy="-0.9" rx="1.65" ry="1.08" fill="#115460"/><ellipse cx="-22.2" cy="-2.4" rx="1.18" ry="1.13" fill="#4fa8b0"/><ellipse cx="12.3" cy="10.6" rx="1.73" ry="1.28" fill="#115460"/><ellipse cx="9.6" cy="20.8" rx="1.83" ry="1.79" fill="#0e4852"/><ellipse cx="-24.4" cy="-0.0" rx="0.72" ry="0.54" fill="#0e4852"/><ellipse cx="-25.4" cy="-22.2" rx="0.82" ry="0.82" fill="#6cc0c6"/><ellipse cx="19.7" cy="11.9" rx="1.20" ry="0.94" fill="#9ad8da"/><ellipse cx="-1.9" cy="2.1" rx="1.37" ry="0.84" fill="#2f8b94"/><ellipse cx="5.3" cy="-1.0" rx="1.00" ry="0.80" fill="#6cc0c6"/><ellipse cx="6.0" cy="21.9" rx="1.03" ry="0.77" fill="#4fa8b0"/><ellipse cx="-18.6" cy="5.8" rx="1.37" ry="1.19" fill="#115460"/><ellipse cx="-3.0" cy="20.4" rx="1.13" ry="0.76" fill="#5bb6bc"/><ellipse cx="-3.6" cy="15.9" rx="1.89" ry="1.42" fill="#86d0d2"/><ellipse cx="4.3" cy="-9.5" rx="0.88" ry="0.65" fill="#1b6a74"/><ellipse cx="20.6" cy="-23.9" rx="0.78" ry="0.73" fill="#5bb6bc"/><ellipse cx="-20.1" cy="-1.5" rx="1.90" ry="1.43" fill="#0e4852"/><ellipse cx="1.0" cy="9.0" rx="1.63" ry="1.27" fill="#9ad8da"/><ellipse cx="-22.1" cy="-24.4" rx="1.83" ry="1.60" fill="#4fa8b0"/><ellipse cx="-11.4" cy="-7.6" rx="1.54" ry="0.94" fill="#9ad8da"/><ellipse cx="-18.9" cy="-2.3" rx="0.73" ry="0.51" fill="#5bb6bc"/><ellipse cx="-18.7" cy="-23.6" rx="1.52" ry="0.98" fill="#1b6a74"/><ellipse cx="1.8" cy="7.3" rx="1.18" ry="1.03" fill="#6cc0c6"/><ellipse cx="-15.6" cy="-1.3" rx="0.93" ry="0.84" fill="#4fa8b0"/><ellipse cx="1.8" cy="-24.1" rx="0.99" ry="0.81" fill="#115460"/><ellipse cx="23.2" cy="0.0" rx="2.00" ry="1.51" fill="#3a949c"/><ellipse cx="15.2" cy="21.1" rx="0.81" ry="0.53" fill="#0e4852"/><ellipse cx="-2.4" cy="6.5" rx="1.88" ry="1.54" fill="#0e4852"/><ellipse cx="7.9" cy="0.1" rx="1.77" ry="1.39" fill="#115460"/><ellipse cx="7.9" cy="-15.3" rx="1.64" ry="1.12" fill="#6cc0c6"/><ellipse cx="20.8" cy="25.0" rx="1.97" ry="1.95" fill="#2f8b94"/><ellipse cx="22.5" cy="-12.4" rx="1.63" ry="1.21" fill="#4fa8b0"/><ellipse cx="-21.7" cy="-3.1" rx="1.42" ry="1.13" fill="#5bb6bc"/><ellipse cx="-24.5" cy="16.1" rx="0.78" ry="0.52" fill="#4fa8b0"/><ellipse cx="-8.6" cy="15.0" rx="0.88" ry="0.88" fill="#3a949c"/><ellipse cx="20.8" cy="0.9" rx="1.58" ry="1.55" fill="#1b6a74"/><ellipse cx="-0.4" cy="23.4" rx="0.81" ry="0.63" fill="#86d0d2"/><ellipse cx="3.1" cy="17.2" rx="1.43" ry="1.16" fill="#3a949c"/><ellipse cx="17.9" cy="3.1" rx="1.11" ry="1.09" fill="#0e4852"/><ellipse cx="19.2" cy="5.7" rx="1.10" ry="1.08" fill="#3a949c"/><ellipse cx="1.3" cy="3.8" rx="0.96" ry="0.62" fill="#2f8b94"/><ellipse cx="-25.7" cy="-6.4" rx="1.40" ry="1.13" fill="#4fa8b0"/><ellipse cx="-5.2" cy="15.7" rx="1.43" ry="0.91" fill="#1b6a74"/><ellipse cx="-17.3" cy="22.4" rx="1.30" ry="0.92" fill="#0e4852"/><ellipse cx="-1.4" cy="-19.4" rx="1.26" ry="1.02" fill="#1b6a74"/><ellipse cx="-20.4" cy="-4.2" rx="0.74" ry="0.48" fill="#5bb6bc"/><ellipse cx="14.5" cy="-24.8" rx="0.95" ry="0.58" fill="#86d0d2"/><ellipse cx="-11.2" cy="11.6" rx="1.02" ry="0.65" fill="#1b6a74"/><ellipse cx="12.0" cy="-19.6" rx="1.36" ry="1.21" fill="#5bb6bc"/><ellipse cx="10.5" cy="19.7" rx="0.73" ry="0.68" fill="#0e4852"/><ellipse cx="6.0" cy="2.0" rx="1.82" ry="1.56" fill="#2f8b94"/><ellipse cx="1.5" cy="18.3" rx="1.50" ry="1.04" fill="#3a949c"/><ellipse cx="12.5" cy="16.1" rx="1.87" ry="1.58" fill="#115460"/><ellipse cx="20.3" cy="-15.9" rx="1.71" ry="1.63" fill="#86d0d2"/><ellipse cx="-19.0" cy="-13.6" rx="1.64" ry="1.24" fill="#5bb6bc"/><ellipse cx="-3.4" cy="22.9" rx="1.41" ry="0.96" fill="#3a949c"/><ellipse cx="6.7" cy="15.5" rx="0.82" ry="0.72" fill="#9ad8da"/><ellipse cx="21.4" cy="24.4" rx="0.85" ry="0.73" fill="#2f8b94"/><ellipse cx="-8.1" cy="25.9" rx="1.78" ry="1.41" fill="#6cc0c6"/><ellipse cx="-24.7" cy="13.6" rx="1.50" ry="1.19" fill="#9ad8da"/><ellipse cx="-16.1" cy="-20.0" rx="0.92" ry="0.92" fill="#3a949c"/><ellipse cx="22.2" cy="-21.0" rx="0.78" ry="0.49" fill="#1b6a74"/><ellipse cx="-21.0" cy="-5.7" rx="1.25" ry="0.97" fill="#115460"/><ellipse cx="5.2" cy="-25.3" rx="1.61" ry="1.08" fill="#86d0d2"/><ellipse cx="-2.4" cy="12.4" rx="1.23" ry="1.03" fill="#86d0d2"/><ellipse cx="-21.1" cy="15.2" rx="1.12" ry="1.03" fill="#6cc0c6"/><ellipse cx="10.6" cy="18.8" rx="1.52" ry="1.26" fill="#0e4852"/><ellipse cx="-16.1" cy="4.4" rx="1.14" ry="0.81" fill="#5bb6bc"/><ellipse cx="-20.0" cy="12.6" rx="0.91" ry="0.59" fill="#0e4852"/><ellipse cx="-8.8" cy="2.0" rx="1.18" ry="1.07" fill="#0e4852"/><ellipse cx="-4.9" cy="11.6" rx="0.79" ry="0.57" fill="#115460"/><ellipse cx="-20.8" cy="20.2" rx="1.99" ry="1.23" fill="#9ad8da"/><ellipse cx="-11.8" cy="24.0" rx="1.09" ry="0.94" fill="#86d0d2"/><ellipse cx="3.6" cy="1.7" rx="1.21" ry="1.03" fill="#1b6a74"/><ellipse cx="10.5" cy="13.6" rx="1.97" ry="1.28" fill="#4fa8b0"/><ellipse cx="-20.4" cy="-13.7" rx="1.28" ry="0.79" fill="#2f8b94"/><ellipse cx="-15.8" cy="-6.5" rx="0.83" ry="0.59" fill="#5bb6bc"/><ellipse cx="-8.3" cy="2.1" rx="1.24" ry="1.03" fill="#2f8b94"/><ellipse cx="25.7" cy="7.2" rx="1.75" ry="1.44" fill="#6cc0c6"/><ellipse cx="8.8" cy="23.7" rx="1.20" ry="0.91" fill="#3a949c"/><ellipse cx="24.4" cy="18.5" rx="1.40" ry="0.88" fill="#9ad8da"/><ellipse cx="23.2" cy="-4.1" rx="1.38" ry="1.00" fill="#9ad8da"/><ellipse cx="1.6" cy="-0.9" rx="1.05" ry="0.91" fill="#5bb6bc"/><ellipse cx="12.9" cy="-24.6" rx="1.70" ry="1.05" fill="#9ad8da"/><ellipse cx="-17.9" cy="13.2" rx="1.21" ry="1.09" fill="#115460"/><ellipse cx="-23.4" cy="25.4" rx="1.93" ry="1.77" fill="#6cc0c6"/><ellipse cx="-14.4" cy="11.4" rx="1.03" ry="0.63" fill="#86d0d2"/><ellipse cx="-20.9" cy="16.1" rx="1.88" ry="1.87" fill="#3a949c"/><ellipse cx="16.5" cy="5.4" rx="0.85" ry="0.65" fill="#9ad8da"/><ellipse cx="-19.9" cy="18.8" rx="1.16" ry="0.76" fill="#3a949c"/><ellipse cx="-3.0" cy="8.7" rx="1.29" ry="1.11" fill="#5bb6bc"/><ellipse cx="9.5" cy="-7.1" rx="1.67" ry="1.64" fill="#3a949c"/><ellipse cx="12.2" cy="-13.6" rx="0.85" ry="0.77" fill="#5bb6bc"/><ellipse cx="6.5" cy="-7.3" rx="1.05" ry="0.93" fill="#9ad8da"/><ellipse cx="-16.1" cy="-11.5" rx="1.01" ry="0.81" fill="#86d0d2"/><ellipse cx="8.0" cy="-15.8" rx="1.59" ry="0.96" fill="#4fa8b0"/><ellipse cx="-12.5" cy="-24.6" rx="0.75" ry="0.61" fill="#86d0d2"/><ellipse cx="-22.2" cy="-21.5" rx="1.58" ry="1.10" fill="#2f8b94"/><ellipse cx="25.0" cy="-0.8" rx="1.16" ry="0.86" fill="#115460"/><ellipse cx="12.7" cy="17.6" rx="0.80" ry="0.62" fill="#6cc0c6"/><ellipse cx="16.7" cy="17.6" rx="1.70" ry="1.31" fill="#1b6a74"/><ellipse cx="-12.6" cy="16.1" rx="1.18" ry="0.86" fill="#9ad8da"/><ellipse cx="2.5" cy="12.8" rx="1.90" ry="1.63" fill="#0e4852"/><ellipse cx="4.2" cy="-2.0" rx="1.12" ry="0.71" fill="#2f8b94"/><ellipse cx="3.3" cy="-0.8" rx="1.59" ry="1.48" fill="#5bb6bc"/><ellipse cx="-25.5" cy="-9.9" rx="1.88" ry="1.19" fill="#9ad8da"/><ellipse cx="-10.2" cy="11.7" rx="1.60" ry="1.53" fill="#5bb6bc"/><ellipse cx="-14.6" cy="8.2" rx="1.13" ry="0.82" fill="#6cc0c6"/><ellipse cx="-3.1" cy="4.9" rx="1.87" ry="1.45" fill="#5bb6bc"/><ellipse cx="15.8" cy="-10.2" rx="1.11" ry="1.10" fill="#0e4852"/><ellipse cx="11.9" cy="0.8" rx="0.81" ry="0.49" fill="#115460"/><ellipse cx="9.2" cy="4.4" rx="1.73" ry="1.30" fill="#9ad8da"/><ellipse cx="-5.7" cy="-18.0" rx="1.47" ry="0.98" fill="#3a949c"/><ellipse cx="13.5" cy="19.8" rx="1.07" ry="0.73" fill="#4fa8b0"/><ellipse cx="-23.0" cy="-17.7" rx="1.08" ry="0.93" fill="#4fa8b0"/><ellipse cx="15.8" cy="-22.7" rx="1.41" ry="0.89" fill="#2f8b94"/><ellipse cx="-21.8" cy="12.3" rx="1.87" ry="1.14" fill="#6cc0c6"/><ellipse cx="8.0" cy="-20.9" rx="1.76" ry="1.23" fill="#0e4852"/><ellipse cx="-14.5" cy="13.8" rx="1.38" ry="1.04" fill="#1b6a74"/><ellipse cx="-8.4" cy="24.4" rx="1.57" ry="1.25" fill="#1b6a74"/><ellipse cx="15.8" cy="-22.2" rx="1.50" ry="1.15" fill="#4fa8b0"/><ellipse cx="17.0" cy="8.7" rx="1.81" ry="1.69" fill="#0e4852"/><ellipse cx="20.2" cy="23.8" rx="1.53" ry="1.14" fill="#2f8b94"/><ellipse cx="-25.5" cy="-20.3" rx="1.90" ry="1.33" fill="#3a949c"/><ellipse cx="-17.6" cy="7.0" rx="1.59" ry="1.08" fill="#115460"/><ellipse cx="-3.9" cy="-10.8" rx="1.96" ry="1.55" fill="#4fa8b0"/><ellipse cx="12.0" cy="-10.2" rx="0.90" ry="0.87" fill="#3a949c"/><ellipse cx="13.2" cy="-25.1" rx="1.33" ry="0.96" fill="#4fa8b0"/><ellipse cx="-15.7" cy="-7.3" rx="1.46" ry="1.30" fill="#9ad8da"/><ellipse cx="4.9" cy="-14.4" rx="0.94" ry="0.72" fill="#5bb6bc"/><ellipse cx="21.4" cy="22.7" rx="1.51" ry="1.20" fill="#2f8b94"/><ellipse cx="-12.5" cy="20.1" rx="1.89" ry="1.63" fill="#115460"/><ellipse cx="14.1" cy="-21.2" rx="1.82" ry="1.13" fill="#0e4852"/><ellipse cx="23.3" cy="15.7" rx="1.20" ry="1.10" fill="#2f8b94"/><ellipse cx="14.3" cy="15.0" rx="0.78" ry="0.74" fill="#86d0d2"/><ellipse cx="19.5" cy="21.1" rx="1.29" ry="1.14" fill="#86d0d2"/><ellipse cx="5.5" cy="-17.8" rx="0.90" ry="0.59" fill="#115460"/><ellipse cx="21.2" cy="16.1" rx="0.87" ry="0.62" fill="#9ad8da"/><ellipse cx="1.8" cy="-18.2" rx="1.70" ry="1.16" fill="#4fa8b0"/><ellipse cx="21.6" cy="-18.3" rx="0.87" ry="0.61" fill="#115460"/><ellipse cx="11.3" cy="-20.9" rx="1.32" ry="0.84" fill="#1b6a74"/><ellipse cx="12.9" cy="2.3" rx="1.36" ry="1.24" fill="#4fa8b0"/><ellipse cx="-4.3" cy="21.7" rx="0.82" ry="0.56" fill="#1b6a74"/><ellipse cx="2.3" cy="1.3" rx="0.90" ry="0.66" fill="#5bb6bc"/><ellipse cx="-4.9" cy="2.9" rx="2.00" ry="1.49" fill="#6cc0c6"/><ellipse cx="9.7" cy="-20.5" rx="1.21" ry="1.09" fill="#1b6a74"/><ellipse cx="14.8" cy="-19.7" rx="1.28" ry="1.13" fill="#0e4852"/><ellipse cx="-1.3" cy="-10.7" rx="0.85" ry="0.80" fill="#4fa8b0"/><ellipse cx="17.9" cy="11.4" rx="1.87" ry="1.34" fill="#3a949c"/><ellipse cx="-6.4" cy="2.1" rx="1.09" ry="0.98" fill="#115460"/><ellipse cx="2.9" cy="-21.5" rx="0.95" ry="0.84" fill="#0e4852"/><ellipse cx="-8.9" cy="23.1" rx="1.43" ry="1.11" fill="#115460"/><ellipse cx="-6.1" cy="-20.7" rx="1.51" ry="1.31" fill="#3a949c"/><ellipse cx="10.8" cy="-16.6" rx="1.22" ry="1.02" fill="#1b6a74"/><ellipse cx="-21.3" cy="-14.2" rx="0.90" ry="0.70" fill="#6cc0c6"/><ellipse cx="14.1" cy="-8.2" rx="1.77" ry="1.16" fill="#2f8b94"/><ellipse cx="-15.3" cy="-18.3" rx="1.60" ry="1.17" fill="#1b6a74"/><ellipse cx="-4.6" cy="-25.2" rx="1.22" ry="1.21" fill="#115460"/><ellipse cx="15.1" cy="8.3" rx="1.49" ry="1.05" fill="#4fa8b0"/><ellipse cx="-16.2" cy="-10.0" rx="1.27" ry="0.96" fill="#2f8b94"/><ellipse cx="0.5" cy="15.0" rx="1.77" ry="1.57" fill="#9ad8da"/><ellipse cx="-12.8" cy="2.0" rx="1.09" ry="0.81" fill="#86d0d2"/><ellipse cx="0.0" cy="-18.6" rx="1.63" ry="1.63" fill="#2f8b94"/><ellipse cx="10.8" cy="22.7" rx="1.44" ry="1.22" fill="#4fa8b0"/><ellipse cx="-15.7" cy="-21.7" rx="1.02" ry="0.78" fill="#9ad8da"/><ellipse cx="-8.7" cy="-21.2" rx="1.83" ry="1.44" fill="#5bb6bc"/><ellipse cx="-19.6" cy="24.6" rx="0.88" ry="0.72" fill="#9ad8da"/><ellipse cx="3.2" cy="3.1" rx="1.04" ry="0.88" fill="#115460"/><ellipse cx="-19.6" cy="16.9" rx="1.08" ry="0.75" fill="#115460"/><ellipse cx="3.8" cy="17.2" rx="0.94" ry="0.87" fill="#2f8b94"/><ellipse cx="-2.4" cy="-5.0" rx="1.72" ry="1.24" fill="#3a949c"/><ellipse cx="8.9" cy="12.4" rx="1.20" ry="1.02" fill="#9ad8da"/><ellipse cx="13.7" cy="-17.8" rx="1.24" ry="0.81" fill="#4fa8b0"/><ellipse cx="-5.9" cy="3.6" rx="0.93" ry="0.60" fill="#2f8b94"/><ellipse cx="-13.3" cy="22.4" rx="0.77" ry="0.68" fill="#4fa8b0"/><ellipse cx="15.0" cy="-5.0" rx="1.35" ry="1.06" fill="#6cc0c6"/><ellipse cx="-4.6" cy="6.4" rx="1.60" ry="1.44" fill="#0e4852"/><ellipse cx="-0.7" cy="25.7" rx="1.79" ry="1.66" fill="#0e4852"/><ellipse cx="-19.9" cy="-20.0" rx="1.92" ry="1.56" fill="#115460"/><ellipse cx="-3.5" cy="21.0" rx="1.12" ry="0.80" fill="#4fa8b0"/><ellipse cx="6.0" cy="-3.5" rx="1.19" ry="1.07" fill="#115460"/><ellipse cx="-10.2" cy="4.9" rx="0.79" ry="0.74" fill="#6cc0c6"/><ellipse cx="-13.4" cy="19.4" rx="1.96" ry="1.72" fill="#1b6a74"/><ellipse cx="1.4" cy="-13.6" rx="1.10" ry="1.07" fill="#0e4852"/><ellipse cx="19.7" cy="26.0" rx="1.65" ry="1.56" fill="#115460"/><ellipse cx="-4.1" cy="15.9" rx="0.99" ry="0.82" fill="#0e4852"/><ellipse cx="21.0" cy="-20.9" rx="1.73" ry="1.65" fill="#6cc0c6"/><ellipse cx="3.9" cy="-2.4" rx="1.08" ry="0.66" fill="#5bb6bc"/><ellipse cx="-17.1" cy="-3.1" rx="1.29" ry="0.98" fill="#2f8b94"/><ellipse cx="-7.5" cy="4.4" rx="0.76" ry="0.59" fill="#4fa8b0"/><ellipse cx="-9.7" cy="-9.1" rx="0.89" ry="0.84" fill="#1b6a74"/><ellipse cx="-15.5" cy="18.7" rx="1.60" ry="1.09" fill="#4fa8b0"/><ellipse cx="17.6" cy="-7.6" rx="1.31" ry="1.12" fill="#3a949c"/><ellipse cx="10.3" cy="3.1" rx="1.39" ry="0.94" fill="#86d0d2"/><ellipse cx="19.8" cy="-23.4" rx="0.84" ry="0.82" fill="#115460"/><ellipse cx="-11.8" cy="-4.1" rx="1.84" ry="1.62" fill="#115460"/><ellipse cx="22.8" cy="-2.9" rx="0.80" ry="0.76" fill="#86d0d2"/><ellipse cx="-19.7" cy="9.9" rx="1.05" ry="0.84" fill="#86d0d2"/><ellipse cx="-10.6" cy="-11.8" rx="1.74" ry="1.66" fill="#2f8b94"/><ellipse cx="4.7" cy="-14.1" rx="1.09" ry="0.95" fill="#3a949c"/><ellipse cx="-11.6" cy="7.3" rx="0.82" ry="0.63" fill="#6cc0c6"/><ellipse cx="1.5" cy="1.6" rx="0.76" ry="0.63" fill="#9ad8da"/><ellipse cx="1.9" cy="-4.0" rx="1.44" ry="1.03" fill="#3a949c"/><ellipse cx="13.3" cy="-13.2" rx="1.06" ry="0.65" fill="#2f8b94"/><ellipse cx="15.1" cy="-18.2" rx="1.87" ry="1.47" fill="#9ad8da"/><ellipse cx="13.0" cy="-6.0" rx="1.91" ry="1.19" fill="#1b6a74"/><ellipse cx="-22.7" cy="14.4" rx="1.88" ry="1.63" fill="#115460"/><ellipse cx="14.7" cy="0.9" rx="1.36" ry="1.22" fill="#2f8b94"/><ellipse cx="1.6" cy="4.9" rx="1.70" ry="1.44" fill="#6cc0c6"/><ellipse cx="-13.8" cy="-3.1" rx="1.70" ry="1.20" fill="#86d0d2"/><ellipse cx="2.3" cy="18.3" rx="1.48" ry="0.91" fill="#5bb6bc"/><ellipse cx="5.0" cy="11.2" rx="1.44" ry="1.05" fill="#3a949c"/><ellipse cx="5.6" cy="5.6" rx="1.75" ry="1.36" fill="#2f8b94"/><ellipse cx="-12.3" cy="15.5" rx="0.79" ry="0.66" fill="#3a949c"/><ellipse cx="2.2" cy="15.2" rx="1.01" ry="0.63" fill="#3a949c"/><ellipse cx="-3.9" cy="10.2" rx="1.77" ry="1.61" fill="#2f8b94"/><ellipse cx="13.8" cy="-0.1" rx="1.55" ry="1.03" fill="#2f8b94"/><ellipse cx="-12.7" cy="-17.7" rx="1.60" ry="1.46" fill="#9ad8da"/><ellipse cx="-22.8" cy="-4.6" rx="1.17" ry="1.03" fill="#86d0d2"/><ellipse cx="23.8" cy="-19.3" rx="1.68" ry="1.67" fill="#9ad8da"/><ellipse cx="-18.5" cy="-2.3" rx="1.67" ry="1.00" fill="#4fa8b0"/><ellipse cx="-4.7" cy="1.3" rx="0.82" ry="0.59" fill="#2f8b94"/><ellipse cx="-3.9" cy="-22.0" rx="0.74" ry="0.52" fill="#9ad8da"/><ellipse cx="-12.8" cy="2.7" rx="1.01" ry="0.64" fill="#1b6a74"/><ellipse cx="-14.2" cy="-9.9" rx="1.93" ry="1.33" fill="#9ad8da"/><ellipse cx="-17.7" cy="4.4" rx="1.99" ry="1.65" fill="#115460"/><ellipse cx="21.4" cy="20.0" rx="1.90" ry="1.49" fill="#3a949c"/><ellipse cx="-5.6" cy="17.8" rx="1.20" ry="0.82" fill="#4fa8b0"/><ellipse cx="-7.9" cy="-16.5" rx="1.41" ry="1.12" fill="#3a949c"/><ellipse cx="-5.2" cy="4.9" rx="1.69" ry="1.31" fill="#1b6a74"/><ellipse cx="25.7" cy="9.3" rx="1.82" ry="1.49" fill="#86d0d2"/><ellipse cx="-4.2" cy="-23.5" rx="1.06" ry="0.90" fill="#5bb6bc"/><ellipse cx="1.0" cy="12.6" rx="1.37" ry="1.32" fill="#9ad8da"/><ellipse cx="11.2" cy="-12.0" rx="1.17" ry="1.04" fill="#3a949c"/><ellipse cx="14.4" cy="-18.9" rx="1.01" ry="0.62" fill="#6cc0c6"/><ellipse cx="-9.3" cy="-6.0" rx="0.81" ry="0.59" fill="#0e4852"/><ellipse cx="14.1" cy="1.0" rx="0.77" ry="0.65" fill="#0e4852"/><ellipse cx="-0.6" cy="-16.2" rx="1.37" ry="0.84" fill="#3a949c"/><ellipse cx="-9.8" cy="-3.9" rx="1.41" ry="1.14" fill="#3a949c"/><ellipse cx="2.5" cy="-9.7" rx="1.29" ry="0.85" fill="#0e4852"/><ellipse cx="-15.4" cy="-11.4" rx="1.63" ry="1.06" fill="#0e4852"/><ellipse cx="0.9" cy="-7.5" rx="0.83" ry="0.62" fill="#115460"/><ellipse cx="-14.8" cy="-23.9" rx="0.73" ry="0.60" fill="#1b6a74"/><ellipse cx="16.1" cy="24.7" rx="1.09" ry="1.05" fill="#6cc0c6"/><ellipse cx="-14.8" cy="9.8" rx="1.57" ry="1.09" fill="#115460"/><ellipse cx="6.9" cy="-21.3" rx="1.26" ry="1.00" fill="#0e4852"/><ellipse cx="-0.5" cy="22.4" rx="1.07" ry="0.74" fill="#5bb6bc"/><ellipse cx="22.1" cy="-15.5" rx="1.70" ry="1.47" fill="#115460"/><ellipse cx="-13.5" cy="-21.2" rx="1.14" ry="1.05" fill="#0e4852"/><ellipse cx="-1.1" cy="-12.6" rx="1.81" ry="1.59" fill="#5bb6bc"/><ellipse cx="-24.8" cy="-5.6" rx="1.17" ry="1.13" fill="#6cc0c6"/><ellipse cx="-11.9" cy="-6.4" rx="1.80" ry="1.42" fill="#5bb6bc"/><ellipse cx="-9.1" cy="-12.8" rx="0.73" ry="0.53" fill="#115460"/><ellipse cx="-6.6" cy="-10.5" rx="1.76" ry="1.51" fill="#3a949c"/><ellipse cx="-6.0" cy="-8.2" rx="1.87" ry="1.55" fill="#4fa8b0"/><ellipse cx="23.0" cy="14.1" rx="1.52" ry="1.24" fill="#9ad8da"/><ellipse cx="5.9" cy="-22.7" rx="0.79" ry="0.75" fill="#1b6a74"/><ellipse cx="-6.1" cy="21.3" rx="0.75" ry="0.65" fill="#3a949c"/><ellipse cx="-11.8" cy="-0.3" rx="1.31" ry="0.87" fill="#4fa8b0"/><ellipse cx="-16.0" cy="-14.1" rx="1.58" ry="1.28" fill="#86d0d2"/><ellipse cx="22.2" cy="24.9" rx="0.70" ry="0.56" fill="#2f8b94"/><ellipse cx="7.8" cy="2.5" rx="1.51" ry="1.44" fill="#2f8b94"/><ellipse cx="9.9" cy="15.4" rx="1.04" ry="1.00" fill="#6cc0c6"/><ellipse cx="-9.7" cy="11.2" rx="1.60" ry="1.58" fill="#3a949c"/><ellipse cx="16.9" cy="-17.7" rx="1.51" ry="1.39" fill="#1b6a74"/><ellipse cx="-10.7" cy="-4.4" rx="1.18" ry="0.94" fill="#2f8b94"/><ellipse cx="7.6" cy="-7.2" rx="1.62" ry="1.45" fill="#2f8b94"/><ellipse cx="19.6" cy="25.4" rx="1.76" ry="1.14" fill="#5bb6bc"/><ellipse cx="-2.5" cy="14.1" rx="1.32" ry="1.12" fill="#3a949c"/><ellipse cx="-4.5" cy="-0.9" rx="1.15" ry="0.92" fill="#0e4852"/><ellipse cx="15.4" cy="-5.6" rx="1.63" ry="1.22" fill="#5bb6bc"/><ellipse cx="9.5" cy="-16.5" rx="1.81" ry="1.70" fill="#86d0d2"/><ellipse cx="17.1" cy="3.5" rx="1.25" ry="1.06" fill="#3a949c"/><ellipse cx="17.2" cy="15.7" rx="0.86" ry="0.73" fill="#0e4852"/><ellipse cx="-10.8" cy="7.9" rx="1.97" ry="1.64" fill="#1b6a74"/><ellipse cx="22.9" cy="24.5" rx="0.87" ry="0.67" fill="#5bb6bc"/><ellipse cx="6.8" cy="-5.4" rx="1.91" ry="1.19" fill="#3a949c"/><ellipse cx="11.1" cy="-19.8" rx="0.76" ry="0.56" fill="#5bb6bc"/><ellipse cx="2.0" cy="15.7" rx="1.23" ry="1.14" fill="#4fa8b0"/><ellipse cx="18.5" cy="-17.1" rx="0.79" ry="0.72" fill="#1b6a74"/><ellipse cx="17.6" cy="-11.2" rx="1.21" ry="0.92" fill="#9ad8da"/><ellipse cx="-18.6" cy="4.0" rx="1.58" ry="1.29" fill="#86d0d2"/><ellipse cx="15.6" cy="-18.4" rx="0.93" ry="0.76" fill="#6cc0c6"/><ellipse cx="20.6" cy="19.8" rx="1.26" ry="0.92" fill="#3a949c"/><ellipse cx="-25.0" cy="3.4" rx="0.89" ry="0.63" fill="#0e4852"/><ellipse cx="-14.2" cy="-0.9" rx="1.18" ry="0.97" fill="#5bb6bc"/><ellipse cx="-18.1" cy="-25.6" rx="1.69" ry="1.02" fill="#6cc0c6"/><ellipse cx="-8.5" cy="-18.7" rx="1.73" ry="1.37" fill="#0e4852"/><ellipse cx="-4.4" cy="16.0" rx="1.21" ry="0.83" fill="#4fa8b0"/><ellipse cx="6.1" cy="17.0" rx="1.03" ry="1.00" fill="#86d0d2"/><ellipse cx="19.0" cy="25.7" rx="1.28" ry="0.86" fill="#4fa8b0"/><ellipse cx="-24.6" cy="-17.2" rx="0.85" ry="0.61" fill="#6cc0c6"/><ellipse cx="-24.8" cy="2.9" rx="0.78" ry="0.47" fill="#1b6a74"/><ellipse cx="-15.1" cy="23.9" rx="0.71" ry="0.50" fill="#2f8b94"/><ellipse cx="-13.3" cy="22.1" rx="1.34" ry="1.24" fill="#5bb6bc"/><ellipse cx="17.0" cy="13.9" rx="1.98" ry="1.93" fill="#6cc0c6"/><ellipse cx="-0.9" cy="17.7" rx="1.23" ry="0.75" fill="#9ad8da"/><ellipse cx="4.0" cy="-14.2" rx="1.20" ry="0.97" fill="#115460"/><ellipse cx="-11.6" cy="25.6" rx="1.51" ry="1.12" fill="#1b6a74"/><ellipse cx="-11.5" cy="21.1" rx="1.12" ry="0.79" fill="#6cc0c6"/><ellipse cx="-14.9" cy="-16.6" rx="0.76" ry="0.62" fill="#3a949c"/><ellipse cx="9.4" cy="-16.8" rx="0.84" ry="0.63" fill="#3a949c"/><ellipse cx="-16.5" cy="-24.9" rx="1.22" ry="0.93" fill="#4fa8b0"/><ellipse cx="-9.3" cy="1.9" rx="1.94" ry="1.18" fill="#86d0d2"/><ellipse cx="-16.9" cy="-22.5" rx="1.47" ry="1.46" fill="#9ad8da"/><ellipse cx="-3.6" cy="24.1" rx="0.99" ry="0.90" fill="#0e4852"/><ellipse cx="20.2" cy="16.3" rx="0.79" ry="0.77" fill="#0e4852"/><ellipse cx="-9.2" cy="-16.5" rx="1.16" ry="0.77" fill="#4fa8b0"/><ellipse cx="7.0" cy="-6.3" rx="1.54" ry="1.30" fill="#86d0d2"/><ellipse cx="-8.1" cy="-3.1" rx="1.63" ry="1.31" fill="#0e4852"/><ellipse cx="3.5" cy="-20.1" rx="1.79" ry="1.39" fill="#1b6a74"/><ellipse cx="-1.7" cy="17.5" rx="1.35" ry="1.14" fill="#0e4852"/><ellipse cx="3.8" cy="0.8" rx="0.74" ry="0.58" fill="#1b6a74"/><ellipse cx="4.9" cy="4.9" rx="1.91" ry="1.56" fill="#3a949c"/><ellipse cx="-8.9" cy="-12.7" rx="1.51" ry="1.35" fill="#86d0d2"/><ellipse cx="25.4" cy="-5.1" rx="1.83" ry="1.65" fill="#3a949c"/><ellipse cx="20.7" cy="-20.2" rx="0.94" ry="0.88" fill="#3a949c"/><ellipse cx="15.5" cy="0.6" rx="1.99" ry="1.34" fill="#6cc0c6"/><ellipse cx="-24.0" cy="-8.2" rx="1.37" ry="1.07" fill="#115460"/><ellipse cx="1.9" cy="19.0" rx="0.95" ry="0.94" fill="#5bb6bc"/><ellipse cx="-13.6" cy="-20.4" rx="1.27" ry="1.21" fill="#1b6a74"/><ellipse cx="-22.2" cy="-0.2" rx="0.77" ry="0.76" fill="#2f8b94"/><ellipse cx="-22.6" cy="23.0" rx="1.76" ry="1.12" fill="#3a949c"/><ellipse cx="-24.1" cy="-8.0" rx="1.82" ry="1.18" fill="#5bb6bc"/><ellipse cx="-16.6" cy="-5.8" rx="1.80" ry="1.42" fill="#9ad8da"/><ellipse cx="-0.6" cy="-21.4" rx="1.54" ry="1.31" fill="#2f8b94"/><ellipse cx="19.6" cy="11.8" rx="0.96" ry="0.72" fill="#0e4852"/></g></g></g><circle cx="154.5" cy="47.0" r="27.5" fill="#ffffff" opacity="0.45" filter="url(#bl2)"/><g transform="translate(154.5,47.0)"><g clip-path="url(#cc)"><g filter="url(#bl)"><rect x="-26" y="-26" width="52" height="52" fill="#e8eeee"/><path d="M-26,-26 L26,-26 L26,-18 L-26,-10Z" fill="#d6dfdf"/><path d="M-26,-12 L-9,-14 L-9,6 L-26,7Z" fill="#c6d1d2"/><path d="M-26,-14 L26,-20 L26,-18 L-26,-12Z" fill="#bccaca"/><path d="M-26,-5 L26,-8 L26,-6.8 L-26,-3.8Z" fill="#cad5d5"/><path d="M-3,-0.5 L26,-1.5 L26,0.5 L-3,1.3Z" fill="#a8b4b4"/><path d="M-26,5.5 L26,5 L26,6.5 L-26,7Z" fill="#aeb8b8"/><rect x="-26" y="9" width="52" height="17" fill="#f1f4f4"/><path d="M-22,10 L-12,10 L-12,20 L-22,20Z" fill="#a7b5b3"/><path d="M-20,12 L-15,12 L-15,16 L-20,16Z" fill="#7f9290"/><path d="M1,7 L21,6 L21,15 L1,15Z" fill="#b4c0c0"/><rect x="8" y="4" width="1.6" height="14" fill="#8a9696"/><rect x="15" y="4" width="1.6" height="12" fill="#8a9696"/><ellipse cx="-5.9" cy="-9.8" rx="2.2" ry="2.3" fill="#4a2c26"/><path d="M-10,-7.6 L-2.8,-7.6 L-2.5,3.9 L-9.8,3.9Z" fill="#b0292e"/><path d="M-3,-2 L2,-0.8 L2,0.6 L-3,-0.2Z" fill="#b0292e"/><path d="M-9.4,3.7 L-3,3.7 L3,19.5 L0.5,20.2 L-4.8,9 L-6.4,20.3 L-9,20.3Z" fill="#283246"/></g></g></g><text x="215.4" y="49.5" class="f" textLength="41.8" lengthAdjust="spacingAndGlyphs">Filière</text><rect x="261.6" y="38.6" width="1.6" height="10.9" fill="#a2b963" opacity="0.75"/><text x="268.7" y="49.5" class="l" fill="#a2b963" stroke="#a2b963" textLength="175.9" lengthAdjust="spacingAndGlyphs">Ingenierie de la recherche</text></g><g transform="translate(262.3,426.9) rotate(-4.24)"><rect x="0" y="0" width="513.0" height="49.4" fill="#b9e2f6"/><rect x="0.10" y="47.40" width="6.20" height="5.60" rx="3.10" fill="#b9e2f6"/><circle cx="3.20" cy="59.30" r="3.50" fill="#afd6e9"/><rect x="8.65" y="47.40" width="6.10" height="5.54" rx="3.05" fill="#b9e2f6"/><circle cx="11.70" cy="59.30" r="3.42" fill="#afd5e8"/><rect x="17.20" y="47.40" width="6.00" height="5.48" rx="3.00" fill="#b9e2f6"/><circle cx="20.20" cy="59.30" r="3.34" fill="#afd5e7"/><rect x="25.75" y="47.40" width="5.90" height="5.42" rx="2.95" fill="#b9e2f6"/><circle cx="28.70" cy="59.30" r="3.26" fill="#b0d4e6"/><rect x="34.30" y="47.40" width="5.80" height="5.36" rx="2.90" fill="#b9e2f6"/><circle cx="37.20" cy="59.30" r="3.18" fill="#b0d4e5"/><rect x="42.85" y="47.40" width="5.70" height="5.30" rx="2.85" fill="#b9e2f6"/><circle cx="45.70" cy="59.30" r="3.10" fill="#b0d3e5"/><rect x="51.40" y="47.40" width="5.60" height="5.24" rx="2.80" fill="#b9e2f6"/><circle cx="54.20" cy="59.30" r="3.02" fill="#b0d3e4"/><rect x="59.95" y="47.40" width="5.50" height="5.18" rx="2.75" fill="#b9e2f6"/><circle cx="62.70" cy="59.30" r="2.94" fill="#b0d2e3"/><rect x="68.50" y="47.40" width="5.40" height="5.12" rx="2.70" fill="#b9e2f6"/><circle cx="71.20" cy="59.30" r="2.86" fill="#b0d1e2"/><rect x="77.05" y="47.40" width="5.30" height="5.06" rx="2.65" fill="#b9e2f6"/><circle cx="79.70" cy="59.30" r="2.78" fill="#b1d1e1"/><rect x="85.60" y="47.40" width="5.20" height="5.00" rx="2.60" fill="#b9e2f6"/><circle cx="88.20" cy="59.30" r="2.70" fill="#b1d0e0"/><rect x="94.15" y="47.40" width="5.10" height="4.94" rx="2.55" fill="#b9e2f6"/><circle cx="96.70" cy="59.30" r="2.62" fill="#b1d0df"/><rect x="102.70" y="47.40" width="5.00" height="4.88" rx="2.50" fill="#b9e2f6"/><circle cx="105.20" cy="59.30" r="2.54" fill="#b1cfde"/><rect x="111.25" y="47.40" width="4.90" height="4.82" rx="2.45" fill="#b9e2f6"/><circle cx="113.70" cy="59.30" r="2.46" fill="#b1cfdd"/><rect x="119.80" y="47.40" width="4.80" height="4.76" rx="2.40" fill="#b9e2f6"/><circle cx="122.20" cy="59.30" r="2.38" fill="#b1cedc"/><rect x="128.35" y="47.40" width="4.70" height="4.70" rx="2.35" fill="#b9e2f6"/><circle cx="130.70" cy="59.30" r="2.30" fill="#b2cddc"/><rect x="136.90" y="47.40" width="4.60" height="4.64" rx="2.30" fill="#b9e2f6"/><circle cx="139.20" cy="59.30" r="2.22" fill="#b2cddb"/><rect x="145.45" y="47.40" width="4.50" height="4.58" rx="2.25" fill="#b9e2f6"/><circle cx="147.70" cy="59.30" r="2.14" fill="#b2ccda"/><rect x="154.00" y="47.40" width="4.40" height="4.52" rx="2.20" fill="#b9e2f6"/><circle cx="156.20" cy="59.30" r="2.06" fill="#b2ccd9"/><rect x="162.55" y="47.40" width="4.30" height="4.46" rx="2.15" fill="#b9e2f6"/><circle cx="164.70" cy="59.30" r="1.98" fill="#b2cbd8"/><rect x="171.10" y="47.40" width="4.20" height="4.40" rx="2.10" fill="#b9e2f6"/><circle cx="173.20" cy="59.30" r="1.90" fill="#b2cbd7"/><rect x="179.65" y="47.40" width="4.10" height="4.34" rx="2.05" fill="#b9e2f6"/><circle cx="181.70" cy="59.30" r="1.82" fill="#b3cad6"/><rect x="188.20" y="47.40" width="4.00" height="4.28" rx="2.00" fill="#b9e2f6"/><circle cx="190.20" cy="59.30" r="1.74" fill="#b3c9d5"/><rect x="196.75" y="47.40" width="3.90" height="4.22" rx="1.95" fill="#b9e2f6"/><circle cx="198.70" cy="59.30" r="1.66" fill="#b3c9d5"/><rect x="205.30" y="47.40" width="3.80" height="4.16" rx="1.90" fill="#b9e2f6"/><circle cx="207.20" cy="59.30" r="1.58" fill="#b3c9d5"/><rect x="213.85" y="47.40" width="3.70" height="4.10" rx="1.85" fill="#b9e2f6"/><circle cx="215.70" cy="59.30" r="1.50" fill="#b3c9d5"/><rect x="222.40" y="47.40" width="3.60" height="4.04" rx="1.80" fill="#b9e2f6"/><circle cx="224.20" cy="59.30" r="1.42" fill="#b3c9d5"/><rect x="230.95" y="47.40" width="3.50" height="3.98" rx="1.75" fill="#b9e2f6"/><circle cx="232.70" cy="59.30" r="1.34" fill="#b3c9d5"/><rect x="239.50" y="47.40" width="3.40" height="3.92" rx="1.70" fill="#b9e2f6"/><circle cx="241.20" cy="59.30" r="1.00" fill="#b3c9d5"/><rect x="248.05" y="47.40" width="3.30" height="3.86" rx="1.65" fill="#b9e2f6"/><circle cx="249.70" cy="59.30" r="1.00" fill="#b3c9d5"/><rect x="256.60" y="47.40" width="3.20" height="3.80" rx="1.60" fill="#b9e2f6"/><circle cx="258.20" cy="59.30" r="1.00" fill="#b3c9d5"/><rect x="265.15" y="47.40" width="3.10" height="3.74" rx="1.55" fill="#b9e2f6"/><circle cx="266.70" cy="59.30" r="1.00" fill="#b3c9d5"/><rect x="273.70" y="47.40" width="3.00" height="3.68" rx="1.50" fill="#b9e2f6"/><circle cx="275.20" cy="59.30" r="0.94" fill="#b3c9d5"/><rect x="282.25" y="47.40" width="2.90" height="3.62" rx="1.45" fill="#b9e2f6"/><circle cx="283.70" cy="59.30" r="0.86" fill="#b3c9d5"/><circle cx="42.5" cy="47.0" r="27.5" fill="#ffffff" opacity="0.45" filter="url(#bl2)"/><g transform="translate(42.5,47.0)"><g clip-path="url(#cc)"><g filter="url(#bl)"><rect x="-26" y="-26" width="52" height="52" fill="#fcf3ef"/><ellipse cx="-7" cy="-2" rx="15.5" ry="19" fill="#f5d5c3"/><path d="M-26,-8 Q-22,-22 -8,-25 Q-12,-18 -16,-12 Q-20,-8 -22,-2Z" fill="#9b4a2c"/><path d="M-10,-26 Q2,-29 10,-22 Q8,-17 4,-16 Q-2,-21 -10,-22Z" fill="#e39566"/><ellipse cx="-9" cy="-4" rx="10" ry="11" fill="#f4cdb6" opacity="0.8"/><ellipse cx="-15.8" cy="-8" rx="2.4" ry="1.3" fill="#9a6a58" transform="rotate(-20 -15.8 -8)"/><ellipse cx="-1.8" cy="-12.5" rx="2.4" ry="1.3" fill="#9a6a58" transform="rotate(-20 -1.8 -12.5)"/><ellipse cx="-7" cy="-3" rx="1.5" ry="4" fill="#e9b9a2" transform="rotate(-20 -7 -3)"/><ellipse cx="-5.8" cy="5" rx="4.3" ry="1.6" fill="#de9a8a" transform="rotate(-20 -5.8 5)"/><path d="M9,-7 Q17,-11 25,-7 Q27,6 22,14 Q18,19 14,18 Q9,12 8,2Z" fill="#e6524a"/><ellipse cx="18" cy="2" rx="4" ry="6" fill="#ea6a5c" opacity="0.7"/><path d="M-18,15 L-8,13 L-7,26 L-19,26Z" fill="#9a5a44"/><path d="M-8,13 L6,12 L8,26 L-7,26Z" fill="#f4d4c2"/></g></g></g><circle cx="98.6" cy="47.0" r="27.5" fill="#ffffff" opacity="0.45" filter="url(#bl2)"/><g transform="translate(98.6,47.0)"><g clip-path="url(#cc)"><g filter="url(#bl)"><rect x="-26" y="-26" width="52" height="52" fill="#267e88"/><ellipse cx="-2.5" cy="3.1" rx="1.90" ry="1.48" fill="#1b6a74"/><ellipse cx="18.5" cy="-16.1" rx="1.75" ry="1.49" fill="#1b6a74"/><ellipse cx="15.2" cy="-21.1" rx="1.09" ry="0.89" fill="#6cc0c6"/><ellipse cx="20.3" cy="7.0" rx="1.47" ry="1.45" fill="#0e4852"/><ellipse cx="8.0" cy="6.0" rx="0.90" ry="0.84" fill="#4fa8b0"/><ellipse cx="-22.7" cy="-24.1" rx="1.84" ry="1.13" fill="#9ad8da"/><ellipse cx="-1.9" cy="-3.1" rx="1.80" ry="1.24" fill="#2f8b94"/><ellipse cx="-10.7" cy="-25.8" rx="0.81" ry="0.62" fill="#5bb6bc"/><ellipse cx="2.7" cy="22.4" rx="0.81" ry="0.59" fill="#5bb6bc"/><ellipse cx="-14.1" cy="-11.0" rx="0.79" ry="0.60" fill="#6cc0c6"/><ellipse cx="18.0" cy="-5.9" rx="1.95" ry="1.33" fill="#4fa8b0"/><ellipse cx="22.2" cy="-23.3" rx="1.19" ry="0.91" fill="#0e4852"/><ellipse cx="3.4" cy="-15.7" rx="1.58" ry="1.00" fill="#115460"/><ellipse cx="-8.7" cy="24.1" rx="1.69" ry="1.10" fill="#6cc0c6"/><ellipse cx="10.8" cy="-25.4" rx="1.30" ry="0.88" fill="#1b6a74"/><ellipse cx="3.1" cy="-2.7" rx="0.95" ry="0.73" fill="#3a949c"/><ellipse cx="-6.0" cy="-5.5" rx="1.99" ry="1.41" fill="#4fa8b0"/><ellipse cx="24.5" cy="15.8" rx="1.10" ry="0.75" fill="#4fa8b0"/><ellipse cx="-5.5" cy="18.4" rx="1.53" ry="0.95" fill="#6cc0c6"/><ellipse cx="-18.4" cy="-3.0" rx="0.71" ry="0.52" fill="#9ad8da"/><ellipse cx="-10.6" cy="-22.2" rx="0.82" ry="0.70" fill="#9ad8da"/><ellipse cx="-25.2" cy="-6.8" rx="1.51" ry="1.48" fill="#3a949c"/><ellipse cx="-0.8" cy="3.9" rx="1.83" ry="1.55" fill="#3a949c"/><ellipse cx="-9.8" cy="-14.1" rx="1.49" ry="0.99" fill="#86d0d2"/><ellipse cx="6.7" cy="2.8" rx="1.59" ry="1.52" fill="#0e4852"/><ellipse cx="5.4" cy="-4.1" rx="0.83" ry="0.67" fill="#4fa8b0"/><ellipse cx="-12.7" cy="12.5" rx="1.21" ry="1.12" fill="#0e4852"/><ellipse cx="5.0" cy="-10.7" rx="0.93" ry="0.60" fill="#6cc0c6"/><ellipse cx="-1.1" cy="8.0" rx="1.50" ry="1.07" fill="#6cc0c6"/><ellipse cx="21.7" cy="-15.4" rx="0.72" ry="0.55" fill="#5bb6bc"/><ellipse cx="-13.0" cy="-23.6" rx="1.07" ry="0.88" fill="#2f8b94"/><ellipse cx="-19.2" cy="-7.2" rx="1.86" ry="1.60" fill="#115460"/><ellipse cx="9.9" cy="4.4" rx="0.88" ry="0.86" fill="#4fa8b0"/><ellipse cx="-1.3" cy="-7.4" rx="1.11" ry="0.67" fill="#4fa8b0"/><ellipse cx="7.1" cy="-0.9" rx="1.65" ry="1.08" fill="#115460"/><ellipse cx="-22.2" cy="-2.4" rx="1.18" ry="1.13" fill="#4fa8b0"/><ellipse cx="12.3" cy="10.6" rx="1.73" ry="1.28" fill="#115460"/><ellipse cx="9.6" cy="20.8" rx="1.83" ry="1.79" fill="#0e4852"/><ellipse cx="-24.4" cy="-0.0" rx="0.72" ry="0.54" fill="#0e4852"/><ellipse cx="-25.4" cy="-22.2" rx="0.82" ry="0.82" fill="#6cc0c6"/><ellipse cx="19.7" cy="11.9" rx="1.20" ry="0.94" fill="#9ad8da"/><ellipse cx="-1.9" cy="2.1" rx="1.37" ry="0.84" fill="#2f8b94"/><ellipse cx="5.3" cy="-1.0" rx="1.00" ry="0.80" fill="#6cc0c6"/><ellipse cx="6.0" cy="21.9" rx="1.03" ry="0.77" fill="#4fa8b0"/><ellipse cx="-18.6" cy="5.8" rx="1.37" ry="1.19" fill="#115460"/><ellipse cx="-3.0" cy="20.4" rx="1.13" ry="0.76" fill="#5bb6bc"/><ellipse cx="-3.6" cy="15.9" rx="1.89" ry="1.42" fill="#86d0d2"/><ellipse cx="4.3" cy="-9.5" rx="0.88" ry="0.65" fill="#1b6a74"/><ellipse cx="20.6" cy="-23.9" rx="0.78" ry="0.73" fill="#5bb6bc"/><ellipse cx="-20.1" cy="-1.5" rx="1.90" ry="1.43" fill="#0e4852"/><ellipse cx="1.0" cy="9.0" rx="1.63" ry="1.27" fill="#9ad8da"/><ellipse cx="-22.1" cy="-24.4" rx="1.83" ry="1.60" fill="#4fa8b0"/><ellipse cx="-11.4" cy="-7.6" rx="1.54" ry="0.94" fill="#9ad8da"/><ellipse cx="-18.9" cy="-2.3" rx="0.73" ry="0.51" fill="#5bb6bc"/><ellipse cx="-18.7" cy="-23.6" rx="1.52" ry="0.98" fill="#1b6a74"/><ellipse cx="1.8" cy="7.3" rx="1.18" ry="1.03" fill="#6cc0c6"/><ellipse cx="-15.6" cy="-1.3" rx="0.93" ry="0.84" fill="#4fa8b0"/><ellipse cx="1.8" cy="-24.1" rx="0.99" ry="0.81" fill="#115460"/><ellipse cx="23.2" cy="0.0" rx="2.00" ry="1.51" fill="#3a949c"/><ellipse cx="15.2" cy="21.1" rx="0.81" ry="0.53" fill="#0e4852"/><ellipse cx="-2.4" cy="6.5" rx="1.88" ry="1.54" fill="#0e4852"/><ellipse cx="7.9" cy="0.1" rx="1.77" ry="1.39" fill="#115460"/><ellipse cx="7.9" cy="-15.3" rx="1.64" ry="1.12" fill="#6cc0c6"/><ellipse cx="20.8" cy="25.0" rx="1.97" ry="1.95" fill="#2f8b94"/><ellipse cx="22.5" cy="-12.4" rx="1.63" ry="1.21" fill="#4fa8b0"/><ellipse cx="-21.7" cy="-3.1" rx="1.42" ry="1.13" fill="#5bb6bc"/><ellipse cx="-24.5" cy="16.1" rx="0.78" ry="0.52" fill="#4fa8b0"/><ellipse cx="-8.6" cy="15.0" rx="0.88" ry="0.88" fill="#3a949c"/><ellipse cx="20.8" cy="0.9" rx="1.58" ry="1.55" fill="#1b6a74"/><ellipse cx="-0.4" cy="23.4" rx="0.81" ry="0.63" fill="#86d0d2"/><ellipse cx="3.1" cy="17.2" rx="1.43" ry="1.16" fill="#3a949c"/><ellipse cx="17.9" cy="3.1" rx="1.11" ry="1.09" fill="#0e4852"/><ellipse cx="19.2" cy="5.7" rx="1.10" ry="1.08" fill="#3a949c"/><ellipse cx="1.3" cy="3.8" rx="0.96" ry="0.62" fill="#2f8b94"/><ellipse cx="-25.7" cy="-6.4" rx="1.40" ry="1.13" fill="#4fa8b0"/><ellipse cx="-5.2" cy="15.7" rx="1.43" ry="0.91" fill="#1b6a74"/><ellipse cx="-17.3" cy="22.4" rx="1.30" ry="0.92" fill="#0e4852"/><ellipse cx="-1.4" cy="-19.4" rx="1.26" ry="1.02" fill="#1b6a74"/><ellipse cx="-20.4" cy="-4.2" rx="0.74" ry="0.48" fill="#5bb6bc"/><ellipse cx="14.5" cy="-24.8" rx="0.95" ry="0.58" fill="#86d0d2"/><ellipse cx="-11.2" cy="11.6" rx="1.02" ry="0.65" fill="#1b6a74"/><ellipse cx="12.0" cy="-19.6" rx="1.36" ry="1.21" fill="#5bb6bc"/><ellipse cx="10.5" cy="19.7" rx="0.73" ry="0.68" fill="#0e4852"/><ellipse cx="6.0" cy="2.0" rx="1.82" ry="1.56" fill="#2f8b94"/><ellipse cx="1.5" cy="18.3" rx="1.50" ry="1.04" fill="#3a949c"/><ellipse cx="12.5" cy="16.1" rx="1.87" ry="1.58" fill="#115460"/><ellipse cx="20.3" cy="-15.9" rx="1.71" ry="1.63" fill="#86d0d2"/><ellipse cx="-19.0" cy="-13.6" rx="1.64" ry="1.24" fill="#5bb6bc"/><ellipse cx="-3.4" cy="22.9" rx="1.41" ry="0.96" fill="#3a949c"/><ellipse cx="6.7" cy="15.5" rx="0.82" ry="0.72" fill="#9ad8da"/><ellipse cx="21.4" cy="24.4" rx="0.85" ry="0.73" fill="#2f8b94"/><ellipse cx="-8.1" cy="25.9" rx="1.78" ry="1.41" fill="#6cc0c6"/><ellipse cx="-24.7" cy="13.6" rx="1.50" ry="1.19" fill="#9ad8da"/><ellipse cx="-16.1" cy="-20.0" rx="0.92" ry="0.92" fill="#3a949c"/><ellipse cx="22.2" cy="-21.0" rx="0.78" ry="0.49" fill="#1b6a74"/><ellipse cx="-21.0" cy="-5.7" rx="1.25" ry="0.97" fill="#115460"/><ellipse cx="5.2" cy="-25.3" rx="1.61" ry="1.08" fill="#86d0d2"/><ellipse cx="-2.4" cy="12.4" rx="1.23" ry="1.03" fill="#86d0d2"/><ellipse cx="-21.1" cy="15.2" rx="1.12" ry="1.03" fill="#6cc0c6"/><ellipse cx="10.6" cy="18.8" rx="1.52" ry="1.26" fill="#0e4852"/><ellipse cx="-16.1" cy="4.4" rx="1.14" ry="0.81" fill="#5bb6bc"/><ellipse cx="-20.0" cy="12.6" rx="0.91" ry="0.59" fill="#0e4852"/><ellipse cx="-8.8" cy="2.0" rx="1.18" ry="1.07" fill="#0e4852"/><ellipse cx="-4.9" cy="11.6" rx="0.79" ry="0.57" fill="#115460"/><ellipse cx="-20.8" cy="20.2" rx="1.99" ry="1.23" fill="#9ad8da"/><ellipse cx="-11.8" cy="24.0" rx="1.09" ry="0.94" fill="#86d0d2"/><ellipse cx="3.6" cy="1.7" rx="1.21" ry="1.03" fill="#1b6a74"/><ellipse cx="10.5" cy="13.6" rx="1.97" ry="1.28" fill="#4fa8b0"/><ellipse cx="-20.4" cy="-13.7" rx="1.28" ry="0.79" fill="#2f8b94"/><ellipse cx="-15.8" cy="-6.5" rx="0.83" ry="0.59" fill="#5bb6bc"/><ellipse cx="-8.3" cy="2.1" rx="1.24" ry="1.03" fill="#2f8b94"/><ellipse cx="25.7" cy="7.2" rx="1.75" ry="1.44" fill="#6cc0c6"/><ellipse cx="8.8" cy="23.7" rx="1.20" ry="0.91" fill="#3a949c"/><ellipse cx="24.4" cy="18.5" rx="1.40" ry="0.88" fill="#9ad8da"/><ellipse cx="23.2" cy="-4.1" rx="1.38" ry="1.00" fill="#9ad8da"/><ellipse cx="1.6" cy="-0.9" rx="1.05" ry="0.91" fill="#5bb6bc"/><ellipse cx="12.9" cy="-24.6" rx="1.70" ry="1.05" fill="#9ad8da"/><ellipse cx="-17.9" cy="13.2" rx="1.21" ry="1.09" fill="#115460"/><ellipse cx="-23.4" cy="25.4" rx="1.93" ry="1.77" fill="#6cc0c6"/><ellipse cx="-14.4" cy="11.4" rx="1.03" ry="0.63" fill="#86d0d2"/><ellipse cx="-20.9" cy="16.1" rx="1.88" ry="1.87" fill="#3a949c"/><ellipse cx="16.5" cy="5.4" rx="0.85" ry="0.65" fill="#9ad8da"/><ellipse cx="-19.9" cy="18.8" rx="1.16" ry="0.76" fill="#3a949c"/><ellipse cx="-3.0" cy="8.7" rx="1.29" ry="1.11" fill="#5bb6bc"/><ellipse cx="9.5" cy="-7.1" rx="1.67" ry="1.64" fill="#3a949c"/><ellipse cx="12.2" cy="-13.6" rx="0.85" ry="0.77" fill="#5bb6bc"/><ellipse cx="6.5" cy="-7.3" rx="1.05" ry="0.93" fill="#9ad8da"/><ellipse cx="-16.1" cy="-11.5" rx="1.01" ry="0.81" fill="#86d0d2"/><ellipse cx="8.0" cy="-15.8" rx="1.59" ry="0.96" fill="#4fa8b0"/><ellipse cx="-12.5" cy="-24.6" rx="0.75" ry="0.61" fill="#86d0d2"/><ellipse cx="-22.2" cy="-21.5" rx="1.58" ry="1.10" fill="#2f8b94"/><ellipse cx="25.0" cy="-0.8" rx="1.16" ry="0.86" fill="#115460"/><ellipse cx="12.7" cy="17.6" rx="0.80" ry="0.62" fill="#6cc0c6"/><ellipse cx="16.7" cy="17.6" rx="1.70" ry="1.31" fill="#1b6a74"/><ellipse cx="-12.6" cy="16.1" rx="1.18" ry="0.86" fill="#9ad8da"/><ellipse cx="2.5" cy="12.8" rx="1.90" ry="1.63" fill="#0e4852"/><ellipse cx="4.2" cy="-2.0" rx="1.12" ry="0.71" fill="#2f8b94"/><ellipse cx="3.3" cy="-0.8" rx="1.59" ry="1.48" fill="#5bb6bc"/><ellipse cx="-25.5" cy="-9.9" rx="1.88" ry="1.19" fill="#9ad8da"/><ellipse cx="-10.2" cy="11.7" rx="1.60" ry="1.53" fill="#5bb6bc"/><ellipse cx="-14.6" cy="8.2" rx="1.13" ry="0.82" fill="#6cc0c6"/><ellipse cx="-3.1" cy="4.9" rx="1.87" ry="1.45" fill="#5bb6bc"/><ellipse cx="15.8" cy="-10.2" rx="1.11" ry="1.10" fill="#0e4852"/><ellipse cx="11.9" cy="0.8" rx="0.81" ry="0.49" fill="#115460"/><ellipse cx="9.2" cy="4.4" rx="1.73" ry="1.30" fill="#9ad8da"/><ellipse cx="-5.7" cy="-18.0" rx="1.47" ry="0.98" fill="#3a949c"/><ellipse cx="13.5" cy="19.8" rx="1.07" ry="0.73" fill="#4fa8b0"/><ellipse cx="-23.0" cy="-17.7" rx="1.08" ry="0.93" fill="#4fa8b0"/><ellipse cx="15.8" cy="-22.7" rx="1.41" ry="0.89" fill="#2f8b94"/><ellipse cx="-21.8" cy="12.3" rx="1.87" ry="1.14" fill="#6cc0c6"/><ellipse cx="8.0" cy="-20.9" rx="1.76" ry="1.23" fill="#0e4852"/><ellipse cx="-14.5" cy="13.8" rx="1.38" ry="1.04" fill="#1b6a74"/><ellipse cx="-8.4" cy="24.4" rx="1.57" ry="1.25" fill="#1b6a74"/><ellipse cx="15.8" cy="-22.2" rx="1.50" ry="1.15" fill="#4fa8b0"/><ellipse cx="17.0" cy="8.7" rx="1.81" ry="1.69" fill="#0e4852"/><ellipse cx="20.2" cy="23.8" rx="1.53" ry="1.14" fill="#2f8b94"/><ellipse cx="-25.5" cy="-20.3" rx="1.90" ry="1.33" fill="#3a949c"/><ellipse cx="-17.6" cy="7.0" rx="1.59" ry="1.08" fill="#115460"/><ellipse cx="-3.9" cy="-10.8" rx="1.96" ry="1.55" fill="#4fa8b0"/><ellipse cx="12.0" cy="-10.2" rx="0.90" ry="0.87" fill="#3a949c"/><ellipse cx="13.2" cy="-25.1" rx="1.33" ry="0.96" fill="#4fa8b0"/><ellipse cx="-15.7" cy="-7.3" rx="1.46" ry="1.30" fill="#9ad8da"/><ellipse cx="4.9" cy="-14.4" rx="0.94" ry="0.72" fill="#5bb6bc"/><ellipse cx="21.4" cy="22.7" rx="1.51" ry="1.20" fill="#2f8b94"/><ellipse cx="-12.5" cy="20.1" rx="1.89" ry="1.63" fill="#115460"/><ellipse cx="14.1" cy="-21.2" rx="1.82" ry="1.13" fill="#0e4852"/><ellipse cx="23.3" cy="15.7" rx="1.20" ry="1.10" fill="#2f8b94"/><ellipse cx="14.3" cy="15.0" rx="0.78" ry="0.74" fill="#86d0d2"/><ellipse cx="19.5" cy="21.1" rx="1.29" ry="1.14" fill="#86d0d2"/><ellipse cx="5.5" cy="-17.8" rx="0.90" ry="0.59" fill="#115460"/><ellipse cx="21.2" cy="16.1" rx="0.87" ry="0.62" fill="#9ad8da"/><ellipse cx="1.8" cy="-18.2" rx="1.70" ry="1.16" fill="#4fa8b0"/><ellipse cx="21.6" cy="-18.3" rx="0.87" ry="0.61" fill="#115460"/><ellipse cx="11.3" cy="-20.9" rx="1.32" ry="0.84" fill="#1b6a74"/><ellipse cx="12.9" cy="2.3" rx="1.36" ry="1.24" fill="#4fa8b0"/><ellipse cx="-4.3" cy="21.7" rx="0.82" ry="0.56" fill="#1b6a74"/><ellipse cx="2.3" cy="1.3" rx="0.90" ry="0.66" fill="#5bb6bc"/><ellipse cx="-4.9" cy="2.9" rx="2.00" ry="1.49" fill="#6cc0c6"/><ellipse cx="9.7" cy="-20.5" rx="1.21" ry="1.09" fill="#1b6a74"/><ellipse cx="14.8" cy="-19.7" rx="1.28" ry="1.13" fill="#0e4852"/><ellipse cx="-1.3" cy="-10.7" rx="0.85" ry="0.80" fill="#4fa8b0"/><ellipse cx="17.9" cy="11.4" rx="1.87" ry="1.34" fill="#3a949c"/><ellipse cx="-6.4" cy="2.1" rx="1.09" ry="0.98" fill="#115460"/><ellipse cx="2.9" cy="-21.5" rx="0.95" ry="0.84" fill="#0e4852"/><ellipse cx="-8.9" cy="23.1" rx="1.43" ry="1.11" fill="#115460"/><ellipse cx="-6.1" cy="-20.7" rx="1.51" ry="1.31" fill="#3a949c"/><ellipse cx="10.8" cy="-16.6" rx="1.22" ry="1.02" fill="#1b6a74"/><ellipse cx="-21.3" cy="-14.2" rx="0.90" ry="0.70" fill="#6cc0c6"/><ellipse cx="14.1" cy="-8.2" rx="1.77" ry="1.16" fill="#2f8b94"/><ellipse cx="-15.3" cy="-18.3" rx="1.60" ry="1.17" fill="#1b6a74"/><ellipse cx="-4.6" cy="-25.2" rx="1.22" ry="1.21" fill="#115460"/><ellipse cx="15.1" cy="8.3" rx="1.49" ry="1.05" fill="#4fa8b0"/><ellipse cx="-16.2" cy="-10.0" rx="1.27" ry="0.96" fill="#2f8b94"/><ellipse cx="0.5" cy="15.0" rx="1.77" ry="1.57" fill="#9ad8da"/><ellipse cx="-12.8" cy="2.0" rx="1.09" ry="0.81" fill="#86d0d2"/><ellipse cx="0.0" cy="-18.6" rx="1.63" ry="1.63" fill="#2f8b94"/><ellipse cx="10.8" cy="22.7" rx="1.44" ry="1.22" fill="#4fa8b0"/><ellipse cx="-15.7" cy="-21.7" rx="1.02" ry="0.78" fill="#9ad8da"/><ellipse cx="-8.7" cy="-21.2" rx="1.83" ry="1.44" fill="#5bb6bc"/><ellipse cx="-19.6" cy="24.6" rx="0.88" ry="0.72" fill="#9ad8da"/><ellipse cx="3.2" cy="3.1" rx="1.04" ry="0.88" fill="#115460"/><ellipse cx="-19.6" cy="16.9" rx="1.08" ry="0.75" fill="#115460"/><ellipse cx="3.8" cy="17.2" rx="0.94" ry="0.87" fill="#2f8b94"/><ellipse cx="-2.4" cy="-5.0" rx="1.72" ry="1.24" fill="#3a949c"/><ellipse cx="8.9" cy="12.4" rx="1.20" ry="1.02" fill="#9ad8da"/><ellipse cx="13.7" cy="-17.8" rx="1.24" ry="0.81" fill="#4fa8b0"/><ellipse cx="-5.9" cy="3.6" rx="0.93" ry="0.60" fill="#2f8b94"/><ellipse cx="-13.3" cy="22.4" rx="0.77" ry="0.68" fill="#4fa8b0"/><ellipse cx="15.0" cy="-5.0" rx="1.35" ry="1.06" fill="#6cc0c6"/><ellipse cx="-4.6" cy="6.4" rx="1.60" ry="1.44" fill="#0e4852"/><ellipse cx="-0.7" cy="25.7" rx="1.79" ry="1.66" fill="#0e4852"/><ellipse cx="-19.9" cy="-20.0" rx="1.92" ry="1.56" fill="#115460"/><ellipse cx="-3.5" cy="21.0" rx="1.12" ry="0.80" fill="#4fa8b0"/><ellipse cx="6.0" cy="-3.5" rx="1.19" ry="1.07" fill="#115460"/><ellipse cx="-10.2" cy="4.9" rx="0.79" ry="0.74" fill="#6cc0c6"/><ellipse cx="-13.4" cy="19.4" rx="1.96" ry="1.72" fill="#1b6a74"/><ellipse cx="1.4" cy="-13.6" rx="1.10" ry="1.07" fill="#0e4852"/><ellipse cx="19.7" cy="26.0" rx="1.65" ry="1.56" fill="#115460"/><ellipse cx="-4.1" cy="15.9" rx="0.99" ry="0.82" fill="#0e4852"/><ellipse cx="21.0" cy="-20.9" rx="1.73" ry="1.65" fill="#6cc0c6"/><ellipse cx="3.9" cy="-2.4" rx="1.08" ry="0.66" fill="#5bb6bc"/><ellipse cx="-17.1" cy="-3.1" rx="1.29" ry="0.98" fill="#2f8b94"/><ellipse cx="-7.5" cy="4.4" rx="0.76" ry="0.59" fill="#4fa8b0"/><ellipse cx="-9.7" cy="-9.1" rx="0.89" ry="0.84" fill="#1b6a74"/><ellipse cx="-15.5" cy="18.7" rx="1.60" ry="1.09" fill="#4fa8b0"/><ellipse cx="17.6" cy="-7.6" rx="1.31" ry="1.12" fill="#3a949c"/><ellipse cx="10.3" cy="3.1" rx="1.39" ry="0.94" fill="#86d0d2"/><ellipse cx="19.8" cy="-23.4" rx="0.84" ry="0.82" fill="#115460"/><ellipse cx="-11.8" cy="-4.1" rx="1.84" ry="1.62" fill="#115460"/><ellipse cx="22.8" cy="-2.9" rx="0.80" ry="0.76" fill="#86d0d2"/><ellipse cx="-19.7" cy="9.9" rx="1.05" ry="0.84" fill="#86d0d2"/><ellipse cx="-10.6" cy="-11.8" rx="1.74" ry="1.66" fill="#2f8b94"/><ellipse cx="4.7" cy="-14.1" rx="1.09" ry="0.95" fill="#3a949c"/><ellipse cx="-11.6" cy="7.3" rx="0.82" ry="0.63" fill="#6cc0c6"/><ellipse cx="1.5" cy="1.6" rx="0.76" ry="0.63" fill="#9ad8da"/><ellipse cx="1.9" cy="-4.0" rx="1.44" ry="1.03" fill="#3a949c"/><ellipse cx="13.3" cy="-13.2" rx="1.06" ry="0.65" fill="#2f8b94"/><ellipse cx="15.1" cy="-18.2" rx="1.87" ry="1.47" fill="#9ad8da"/><ellipse cx="13.0" cy="-6.0" rx="1.91" ry="1.19" fill="#1b6a74"/><ellipse cx="-22.7" cy="14.4" rx="1.88" ry="1.63" fill="#115460"/><ellipse cx="14.7" cy="0.9" rx="1.36" ry="1.22" fill="#2f8b94"/><ellipse cx="1.6" cy="4.9" rx="1.70" ry="1.44" fill="#6cc0c6"/><ellipse cx="-13.8" cy="-3.1" rx="1.70" ry="1.20" fill="#86d0d2"/><ellipse cx="2.3" cy="18.3" rx="1.48" ry="0.91" fill="#5bb6bc"/><ellipse cx="5.0" cy="11.2" rx="1.44" ry="1.05" fill="#3a949c"/><ellipse cx="5.6" cy="5.6" rx="1.75" ry="1.36" fill="#2f8b94"/><ellipse cx="-12.3" cy="15.5" rx="0.79" ry="0.66" fill="#3a949c"/><ellipse cx="2.2" cy="15.2" rx="1.01" ry="0.63" fill="#3a949c"/><ellipse cx="-3.9" cy="10.2" rx="1.77" ry="1.61" fill="#2f8b94"/><ellipse cx="13.8" cy="-0.1" rx="1.55" ry="1.03" fill="#2f8b94"/><ellipse cx="-12.7" cy="-17.7" rx="1.60" ry="1.46" fill="#9ad8da"/><ellipse cx="-22.8" cy="-4.6" rx="1.17" ry="1.03" fill="#86d0d2"/><ellipse cx="23.8" cy="-19.3" rx="1.68" ry="1.67" fill="#9ad8da"/><ellipse cx="-18.5" cy="-2.3" rx="1.67" ry="1.00" fill="#4fa8b0"/><ellipse cx="-4.7" cy="1.3" rx="0.82" ry="0.59" fill="#2f8b94"/><ellipse cx="-3.9" cy="-22.0" rx="0.74" ry="0.52" fill="#9ad8da"/><ellipse cx="-12.8" cy="2.7" rx="1.01" ry="0.64" fill="#1b6a74"/><ellipse cx="-14.2" cy="-9.9" rx="1.93" ry="1.33" fill="#9ad8da"/><ellipse cx="-17.7" cy="4.4" rx="1.99" ry="1.65" fill="#115460"/><ellipse cx="21.4" cy="20.0" rx="1.90" ry="1.49" fill="#3a949c"/><ellipse cx="-5.6" cy="17.8" rx="1.20" ry="0.82" fill="#4fa8b0"/><ellipse cx="-7.9" cy="-16.5" rx="1.41" ry="1.12" fill="#3a949c"/><ellipse cx="-5.2" cy="4.9" rx="1.69" ry="1.31" fill="#1b6a74"/><ellipse cx="25.7" cy="9.3" rx="1.82" ry="1.49" fill="#86d0d2"/><ellipse cx="-4.2" cy="-23.5" rx="1.06" ry="0.90" fill="#5bb6bc"/><ellipse cx="1.0" cy="12.6" rx="1.37" ry="1.32" fill="#9ad8da"/><ellipse cx="11.2" cy="-12.0" rx="1.17" ry="1.04" fill="#3a949c"/><ellipse cx="14.4" cy="-18.9" rx="1.01" ry="0.62" fill="#6cc0c6"/><ellipse cx="-9.3" cy="-6.0" rx="0.81" ry="0.59" fill="#0e4852"/><ellipse cx="14.1" cy="1.0" rx="0.77" ry="0.65" fill="#0e4852"/><ellipse cx="-0.6" cy="-16.2" rx="1.37" ry="0.84" fill="#3a949c"/><ellipse cx="-9.8" cy="-3.9" rx="1.41" ry="1.14" fill="#3a949c"/><ellipse cx="2.5" cy="-9.7" rx="1.29" ry="0.85" fill="#0e4852"/><ellipse cx="-15.4" cy="-11.4" rx="1.63" ry="1.06" fill="#0e4852"/><ellipse cx="0.9" cy="-7.5" rx="0.83" ry="0.62" fill="#115460"/><ellipse cx="-14.8" cy="-23.9" rx="0.73" ry="0.60" fill="#1b6a74"/><ellipse cx="16.1" cy="24.7" rx="1.09" ry="1.05" fill="#6cc0c6"/><ellipse cx="-14.8" cy="9.8" rx="1.57" ry="1.09" fill="#115460"/><ellipse cx="6.9" cy="-21.3" rx="1.26" ry="1.00" fill="#0e4852"/><ellipse cx="-0.5" cy="22.4" rx="1.07" ry="0.74" fill="#5bb6bc"/><ellipse cx="22.1" cy="-15.5" rx="1.70" ry="1.47" fill="#115460"/><ellipse cx="-13.5" cy="-21.2" rx="1.14" ry="1.05" fill="#0e4852"/><ellipse cx="-1.1" cy="-12.6" rx="1.81" ry="1.59" fill="#5bb6bc"/><ellipse cx="-24.8" cy="-5.6" rx="1.17" ry="1.13" fill="#6cc0c6"/><ellipse cx="-11.9" cy="-6.4" rx="1.80" ry="1.42" fill="#5bb6bc"/><ellipse cx="-9.1" cy="-12.8" rx="0.73" ry="0.53" fill="#115460"/><ellipse cx="-6.6" cy="-10.5" rx="1.76" ry="1.51" fill="#3a949c"/><ellipse cx="-6.0" cy="-8.2" rx="1.87" ry="1.55" fill="#4fa8b0"/><ellipse cx="23.0" cy="14.1" rx="1.52" ry="1.24" fill="#9ad8da"/><ellipse cx="5.9" cy="-22.7" rx="0.79" ry="0.75" fill="#1b6a74"/><ellipse cx="-6.1" cy="21.3" rx="0.75" ry="0.65" fill="#3a949c"/><ellipse cx="-11.8" cy="-0.3" rx="1.31" ry="0.87" fill="#4fa8b0"/><ellipse cx="-16.0" cy="-14.1" rx="1.58" ry="1.28" fill="#86d0d2"/><ellipse cx="22.2" cy="24.9" rx="0.70" ry="0.56" fill="#2f8b94"/><ellipse cx="7.8" cy="2.5" rx="1.51" ry="1.44" fill="#2f8b94"/><ellipse cx="9.9" cy="15.4" rx="1.04" ry="1.00" fill="#6cc0c6"/><ellipse cx="-9.7" cy="11.2" rx="1.60" ry="1.58" fill="#3a949c"/><ellipse cx="16.9" cy="-17.7" rx="1.51" ry="1.39" fill="#1b6a74"/><ellipse cx="-10.7" cy="-4.4" rx="1.18" ry="0.94" fill="#2f8b94"/><ellipse cx="7.6" cy="-7.2" rx="1.62" ry="1.45" fill="#2f8b94"/><ellipse cx="19.6" cy="25.4" rx="1.76" ry="1.14" fill="#5bb6bc"/><ellipse cx="-2.5" cy="14.1" rx="1.32" ry="1.12" fill="#3a949c"/><ellipse cx="-4.5" cy="-0.9" rx="1.15" ry="0.92" fill="#0e4852"/><ellipse cx="15.4" cy="-5.6" rx="1.63" ry="1.22" fill="#5bb6bc"/><ellipse cx="9.5" cy="-16.5" rx="1.81" ry="1.70" fill="#86d0d2"/><ellipse cx="17.1" cy="3.5" rx="1.25" ry="1.06" fill="#3a949c"/><ellipse cx="17.2" cy="15.7" rx="0.86" ry="0.73" fill="#0e4852"/><ellipse cx="-10.8" cy="7.9" rx="1.97" ry="1.64" fill="#1b6a74"/><ellipse cx="22.9" cy="24.5" rx="0.87" ry="0.67" fill="#5bb6bc"/><ellipse cx="6.8" cy="-5.4" rx="1.91" ry="1.19" fill="#3a949c"/><ellipse cx="11.1" cy="-19.8" rx="0.76" ry="0.56" fill="#5bb6bc"/><ellipse cx="2.0" cy="15.7" rx="1.23" ry="1.14" fill="#4fa8b0"/><ellipse cx="18.5" cy="-17.1" rx="0.79" ry="0.72" fill="#1b6a74"/><ellipse cx="17.6" cy="-11.2" rx="1.21" ry="0.92" fill="#9ad8da"/><ellipse cx="-18.6" cy="4.0" rx="1.58" ry="1.29" fill="#86d0d2"/><ellipse cx="15.6" cy="-18.4" rx="0.93" ry="0.76" fill="#6cc0c6"/><ellipse cx="20.6" cy="19.8" rx="1.26" ry="0.92" fill="#3a949c"/><ellipse cx="-25.0" cy="3.4" rx="0.89" ry="0.63" fill="#0e4852"/><ellipse cx="-14.2" cy="-0.9" rx="1.18" ry="0.97" fill="#5bb6bc"/><ellipse cx="-18.1" cy="-25.6" rx="1.69" ry="1.02" fill="#6cc0c6"/><ellipse cx="-8.5" cy="-18.7" rx="1.73" ry="1.37" fill="#0e4852"/><ellipse cx="-4.4" cy="16.0" rx="1.21" ry="0.83" fill="#4fa8b0"/><ellipse cx="6.1" cy="17.0" rx="1.03" ry="1.00" fill="#86d0d2"/><ellipse cx="19.0" cy="25.7" rx="1.28" ry="0.86" fill="#4fa8b0"/><ellipse cx="-24.6" cy="-17.2" rx="0.85" ry="0.61" fill="#6cc0c6"/><ellipse cx="-24.8" cy="2.9" rx="0.78" ry="0.47" fill="#1b6a74"/><ellipse cx="-15.1" cy="23.9" rx="0.71" ry="0.50" fill="#2f8b94"/><ellipse cx="-13.3" cy="22.1" rx="1.34" ry="1.24" fill="#5bb6bc"/><ellipse cx="17.0" cy="13.9" rx="1.98" ry="1.93" fill="#6cc0c6"/><ellipse cx="-0.9" cy="17.7" rx="1.23" ry="0.75" fill="#9ad8da"/><ellipse cx="4.0" cy="-14.2" rx="1.20" ry="0.97" fill="#115460"/><ellipse cx="-11.6" cy="25.6" rx="1.51" ry="1.12" fill="#1b6a74"/><ellipse cx="-11.5" cy="21.1" rx="1.12" ry="0.79" fill="#6cc0c6"/><ellipse cx="-14.9" cy="-16.6" rx="0.76" ry="0.62" fill="#3a949c"/><ellipse cx="9.4" cy="-16.8" rx="0.84" ry="0.63" fill="#3a949c"/><ellipse cx="-16.5" cy="-24.9" rx="1.22" ry="0.93" fill="#4fa8b0"/><ellipse cx="-9.3" cy="1.9" rx="1.94" ry="1.18" fill="#86d0d2"/><ellipse cx="-16.9" cy="-22.5" rx="1.47" ry="1.46" fill="#9ad8da"/><ellipse cx="-3.6" cy="24.1" rx="0.99" ry="0.90" fill="#0e4852"/><ellipse cx="20.2" cy="16.3" rx="0.79" ry="0.77" fill="#0e4852"/><ellipse cx="-9.2" cy="-16.5" rx="1.16" ry="0.77" fill="#4fa8b0"/><ellipse cx="7.0" cy="-6.3" rx="1.54" ry="1.30" fill="#86d0d2"/><ellipse cx="-8.1" cy="-3.1" rx="1.63" ry="1.31" fill="#0e4852"/><ellipse cx="3.5" cy="-20.1" rx="1.79" ry="1.39" fill="#1b6a74"/><ellipse cx="-1.7" cy="17.5" rx="1.35" ry="1.14" fill="#0e4852"/><ellipse cx="3.8" cy="0.8" rx="0.74" ry="0.58" fill="#1b6a74"/><ellipse cx="4.9" cy="4.9" rx="1.91" ry="1.56" fill="#3a949c"/><ellipse cx="-8.9" cy="-12.7" rx="1.51" ry="1.35" fill="#86d0d2"/><ellipse cx="25.4" cy="-5.1" rx="1.83" ry="1.65" fill="#3a949c"/><ellipse cx="20.7" cy="-20.2" rx="0.94" ry="0.88" fill="#3a949c"/><ellipse cx="15.5" cy="0.6" rx="1.99" ry="1.34" fill="#6cc0c6"/><ellipse cx="-24.0" cy="-8.2" rx="1.37" ry="1.07" fill="#115460"/><ellipse cx="1.9" cy="19.0" rx="0.95" ry="0.94" fill="#5bb6bc"/><ellipse cx="-13.6" cy="-20.4" rx="1.27" ry="1.21" fill="#1b6a74"/><ellipse cx="-22.2" cy="-0.2" rx="0.77" ry="0.76" fill="#2f8b94"/><ellipse cx="-22.6" cy="23.0" rx="1.76" ry="1.12" fill="#3a949c"/><ellipse cx="-24.1" cy="-8.0" rx="1.82" ry="1.18" fill="#5bb6bc"/><ellipse cx="-16.6" cy="-5.8" rx="1.80" ry="1.42" fill="#9ad8da"/><ellipse cx="-0.6" cy="-21.4" rx="1.54" ry="1.31" fill="#2f8b94"/><ellipse cx="19.6" cy="11.8" rx="0.96" ry="0.72" fill="#0e4852"/></g></g></g><circle cx="154.5" cy="47.0" r="27.5" fill="#ffffff" opacity="0.45" filter="url(#bl2)"/><g transform="translate(154.5,47.0)"><g clip-path="url(#cc)"><g filter="url(#bl)"><rect x="-26" y="-26" width="52" height="52" fill="#e8eeee"/><path d="M-26,-26 L26,-26 L26,-18 L-26,-10Z" fill="#d6dfdf"/><path d="M-26,-12 L-9,-14 L-9,6 L-26,7Z" fill="#c6d1d2"/><path d="M-26,-14 L26,-20 L26,-18 L-26,-12Z" fill="#bccaca"/><path d="M-26,-5 L26,-8 L26,-6.8 L-26,-3.8Z" fill="#cad5d5"/><path d="M-3,-0.5 L26,-1.5 L26,0.5 L-3,1.3Z" fill="#a8b4b4"/><path d="M-26,5.5 L26,5 L26,6.5 L-26,7Z" fill="#aeb8b8"/><rect x="-26" y="9" width="52" height="17" fill="#f1f4f4"/><path d="M-22,10 L-12,10 L-12,20 L-22,20Z" fill="#a7b5b3"/><path d="M-20,12 L-15,12 L-15,16 L-20,16Z" fill="#7f9290"/><path d="M1,7 L21,6 L21,15 L1,15Z" fill="#b4c0c0"/><rect x="8" y="4" width="1.6" height="14" fill="#8a9696"/><rect x="15" y="4" width="1.6" height="12" fill="#8a9696"/><ellipse cx="-5.9" cy="-9.8" rx="2.2" ry="2.3" fill="#4a2c26"/><path d="M-10,-7.6 L-2.8,-7.6 L-2.5,3.9 L-9.8,3.9Z" fill="#b0292e"/><path d="M-3,-2 L2,-0.8 L2,0.6 L-3,-0.2Z" fill="#b0292e"/><path d="M-9.4,3.7 L-3,3.7 L3,19.5 L0.5,20.2 L-4.8,9 L-6.4,20.3 L-9,20.3Z" fill="#283246"/></g></g></g><text x="215.4" y="49.5" class="f" textLength="41.8" lengthAdjust="spacingAndGlyphs">Filière</text><rect x="261.6" y="38.6" width="1.6" height="10.9" fill="#24a0d8" opacity="0.75"/><text x="268.7" y="49.5" class="l" fill="#24a0d8" stroke="#24a0d8" textLength="71.6" lengthAdjust="spacingAndGlyphs">Recherche</text></g><g transform="translate(389.1,522.8) rotate(-3.6)"><text x="0" y="0" class="e" textLength="47.8" lengthAdjust="spacingAndGlyphs">Emploi</text></g><circle cx="452.2" cy="511.6" r="7.45" fill="#1aa0e0"/><circle cx="467.3" cy="511.45" r="4.5" fill="#1aa0e0"/><path d="M457.5,508.5 Q461,510.6 464,509 L464,514 Q461,512.3 457.5,514.7Z" fill="#1aa0e0"/><g transform="translate(479.6,515.9) rotate(-4.4)"><text x="0" y="0" class="d" textLength="246" lengthAdjust="spacingAndGlyphs">Directeur de Recherche</text></g></svg></body></html>
